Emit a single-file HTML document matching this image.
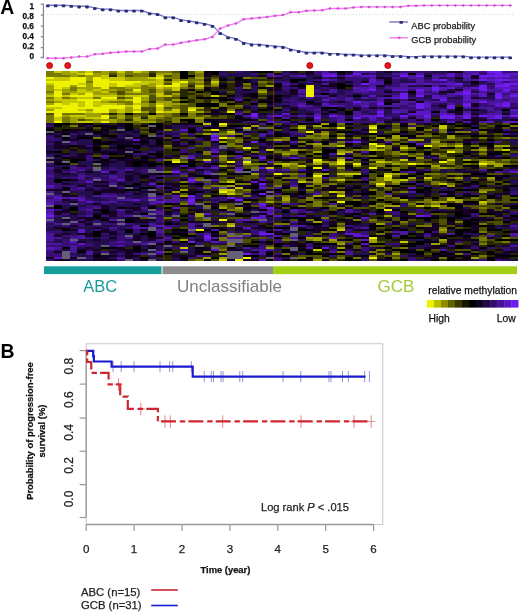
<!DOCTYPE html>
<html><head><meta charset="utf-8"><style>
html,body{margin:0;padding:0;background:#fff;width:520px;height:612px;overflow:hidden}
svg{display:block;will-change:transform;filter:blur(0.3px)}
text{font-family:"Liberation Sans",sans-serif;stroke-width:0.25px}
</style></head><body>
<svg width="520" height="612" viewBox="0 0 520 612">
<text x="0.3" y="14.3" font-size="19.4" font-weight="bold" stroke="none">A</text>
<g font-size="8.3" font-weight="bold" text-anchor="end" fill="#111" stroke="#111">
<text x="34" y="8.5">1</text><text x="34" y="19">0.8</text><text x="34" y="29.2">0.6</text><text x="34" y="39.2">0.4</text><text x="34" y="49.4">0.2</text><text x="34" y="58.8">0</text>
</g>
<path d="M40.6 4.2H43.4V57.5H40.6M40.8 15.2h2.4M40.8 26.1h2.4M40.8 36.6h2.4M40.8 47.6h2.4" fill="none" stroke="#8a8a8a" stroke-width="1.3"/>
<path d="M44 14.6H513" stroke="#d8d8d0" stroke-width="0.9" stroke-dasharray="1.2 1.8"/>
<polyline points="47.8,5.2 55.6,5.2 63.5,5.2 71.3,5.6 79.1,6.3 87.0,6.3 94.8,7.9 102.7,9.1 110.5,9.1 118.3,10.5 126.2,10.5 134.0,10.5 141.8,10.5 149.7,13.2 157.5,14.0 165.4,17.1 173.2,17.1 181.0,19.9 188.9,20.9 196.7,22.2 204.5,23.7 212.4,25.6 220.2,32.9 228.1,37.1 235.9,38.6 243.7,42.8 251.6,44.3 259.4,44.5 267.2,45.4 275.1,46.3 282.9,46.8 290.7,49.4 298.6,50.9 306.4,52.5 314.3,52.5 322.1,52.5 329.9,53.6 337.8,53.6 345.6,54.5 353.4,54.5 361.3,55.1 369.1,55.1 377.0,55.1 384.8,55.1 392.6,56.0 400.5,56.0 408.3,56.6 416.1,56.6 424.0,56.1 431.8,56.1 439.6,56.1 447.5,56.1 455.3,56.1 463.2,56.1 471.0,57.1 478.8,57.1 486.7,57.1 494.5,57.1 502.3,57.1 510.2,57.1" fill="none" stroke="#7878c4" stroke-width="1.4"/>
<g fill="#2c2c78"><rect x="46.0" y="4.5" width="3.6" height="2.8" rx="0.8"/><rect x="53.8" y="4.5" width="3.6" height="2.8" rx="0.8"/><rect x="61.7" y="4.5" width="3.6" height="2.8" rx="0.8"/><rect x="69.5" y="4.9" width="3.6" height="2.8" rx="0.8"/><rect x="77.3" y="5.6" width="3.6" height="2.8" rx="0.8"/><rect x="85.2" y="5.6" width="3.6" height="2.8" rx="0.8"/><rect x="93.0" y="7.2" width="3.6" height="2.8" rx="0.8"/><rect x="100.9" y="8.4" width="3.6" height="2.8" rx="0.8"/><rect x="108.7" y="8.4" width="3.6" height="2.8" rx="0.8"/><rect x="116.5" y="9.8" width="3.6" height="2.8" rx="0.8"/><rect x="124.4" y="9.8" width="3.6" height="2.8" rx="0.8"/><rect x="132.2" y="9.8" width="3.6" height="2.8" rx="0.8"/><rect x="140.0" y="9.8" width="3.6" height="2.8" rx="0.8"/><rect x="147.9" y="12.5" width="3.6" height="2.8" rx="0.8"/><rect x="155.7" y="13.3" width="3.6" height="2.8" rx="0.8"/><rect x="163.6" y="16.4" width="3.6" height="2.8" rx="0.8"/><rect x="171.4" y="16.4" width="3.6" height="2.8" rx="0.8"/><rect x="179.2" y="19.2" width="3.6" height="2.8" rx="0.8"/><rect x="187.1" y="20.2" width="3.6" height="2.8" rx="0.8"/><rect x="194.9" y="21.5" width="3.6" height="2.8" rx="0.8"/><rect x="202.7" y="23.0" width="3.6" height="2.8" rx="0.8"/><rect x="210.6" y="24.9" width="3.6" height="2.8" rx="0.8"/><rect x="218.4" y="32.2" width="3.6" height="2.8" rx="0.8"/><rect x="226.3" y="36.4" width="3.6" height="2.8" rx="0.8"/><rect x="234.1" y="37.9" width="3.6" height="2.8" rx="0.8"/><rect x="241.9" y="42.1" width="3.6" height="2.8" rx="0.8"/><rect x="249.8" y="43.6" width="3.6" height="2.8" rx="0.8"/><rect x="257.6" y="43.8" width="3.6" height="2.8" rx="0.8"/><rect x="265.4" y="44.7" width="3.6" height="2.8" rx="0.8"/><rect x="273.3" y="45.6" width="3.6" height="2.8" rx="0.8"/><rect x="281.1" y="46.1" width="3.6" height="2.8" rx="0.8"/><rect x="288.9" y="48.7" width="3.6" height="2.8" rx="0.8"/><rect x="296.8" y="50.2" width="3.6" height="2.8" rx="0.8"/><rect x="304.6" y="51.8" width="3.6" height="2.8" rx="0.8"/><rect x="312.5" y="51.8" width="3.6" height="2.8" rx="0.8"/><rect x="320.3" y="51.8" width="3.6" height="2.8" rx="0.8"/><rect x="328.1" y="52.9" width="3.6" height="2.8" rx="0.8"/><rect x="336.0" y="52.9" width="3.6" height="2.8" rx="0.8"/><rect x="343.8" y="53.8" width="3.6" height="2.8" rx="0.8"/><rect x="351.6" y="53.8" width="3.6" height="2.8" rx="0.8"/><rect x="359.5" y="54.4" width="3.6" height="2.8" rx="0.8"/><rect x="367.3" y="54.4" width="3.6" height="2.8" rx="0.8"/><rect x="375.2" y="54.4" width="3.6" height="2.8" rx="0.8"/><rect x="383.0" y="54.4" width="3.6" height="2.8" rx="0.8"/><rect x="390.8" y="55.3" width="3.6" height="2.8" rx="0.8"/><rect x="398.7" y="55.3" width="3.6" height="2.8" rx="0.8"/><rect x="406.5" y="55.9" width="3.6" height="2.8" rx="0.8"/><rect x="414.3" y="55.9" width="3.6" height="2.8" rx="0.8"/><rect x="422.2" y="55.4" width="3.6" height="2.8" rx="0.8"/><rect x="430.0" y="55.4" width="3.6" height="2.8" rx="0.8"/><rect x="437.8" y="55.4" width="3.6" height="2.8" rx="0.8"/><rect x="445.7" y="55.4" width="3.6" height="2.8" rx="0.8"/><rect x="453.5" y="55.4" width="3.6" height="2.8" rx="0.8"/><rect x="461.4" y="55.4" width="3.6" height="2.8" rx="0.8"/><rect x="469.2" y="56.4" width="3.6" height="2.8" rx="0.8"/><rect x="477.0" y="56.4" width="3.6" height="2.8" rx="0.8"/><rect x="484.9" y="56.4" width="3.6" height="2.8" rx="0.8"/><rect x="492.7" y="56.4" width="3.6" height="2.8" rx="0.8"/><rect x="500.5" y="56.4" width="3.6" height="2.8" rx="0.8"/><rect x="508.4" y="56.4" width="3.6" height="2.8" rx="0.8"/></g>
<polyline points="47.8,58.2 55.6,58.2 63.5,58.2 71.3,57.4 79.1,56.6 87.0,56.6 94.8,54.2 102.7,53.8 110.5,52.8 118.3,52.2 126.2,51.5 134.0,51.5 141.8,51.5 149.7,48.9 157.5,48.5 165.4,44.6 173.2,44.6 181.0,42.8 188.9,41.5 196.7,40.3 204.5,39.2 212.4,36.9 220.2,28.5 228.1,25.4 235.9,23.4 243.7,19.2 251.6,18.5 259.4,17.7 267.2,17.0 275.1,15.8 282.9,15.1 290.7,12.3 298.6,12.3 306.4,10.8 314.3,10.5 322.1,10.3 329.9,8.5 337.8,8.5 345.6,8.5 353.4,7.4 361.3,6.9 369.1,6.9 377.0,6.9 384.8,6.9 392.6,6.9 400.5,6.9 408.3,5.8 416.1,5.8 424.0,5.4 431.8,5.4 439.6,5.4 447.5,5.4 455.3,5.4 463.2,5.4 471.0,5.4 478.8,5.4 486.7,5.4 494.5,5.4 502.3,5.4 510.2,5.4" fill="none" stroke="#f07ef0" stroke-width="1.4"/>
<g fill="#d850d8"><path d="M45.8 58.2l2 -1.5l2 1.5l-2 1.5z"/><path d="M53.6 58.2l2 -1.5l2 1.5l-2 1.5z"/><path d="M61.5 58.2l2 -1.5l2 1.5l-2 1.5z"/><path d="M69.3 57.4l2 -1.5l2 1.5l-2 1.5z"/><path d="M77.1 56.6l2 -1.5l2 1.5l-2 1.5z"/><path d="M85.0 56.6l2 -1.5l2 1.5l-2 1.5z"/><path d="M92.8 54.2l2 -1.5l2 1.5l-2 1.5z"/><path d="M100.7 53.8l2 -1.5l2 1.5l-2 1.5z"/><path d="M108.5 52.8l2 -1.5l2 1.5l-2 1.5z"/><path d="M116.3 52.2l2 -1.5l2 1.5l-2 1.5z"/><path d="M124.2 51.5l2 -1.5l2 1.5l-2 1.5z"/><path d="M132.0 51.5l2 -1.5l2 1.5l-2 1.5z"/><path d="M139.8 51.5l2 -1.5l2 1.5l-2 1.5z"/><path d="M147.7 48.9l2 -1.5l2 1.5l-2 1.5z"/><path d="M155.5 48.5l2 -1.5l2 1.5l-2 1.5z"/><path d="M163.4 44.6l2 -1.5l2 1.5l-2 1.5z"/><path d="M171.2 44.6l2 -1.5l2 1.5l-2 1.5z"/><path d="M179.0 42.8l2 -1.5l2 1.5l-2 1.5z"/><path d="M186.9 41.5l2 -1.5l2 1.5l-2 1.5z"/><path d="M194.7 40.3l2 -1.5l2 1.5l-2 1.5z"/><path d="M202.5 39.2l2 -1.5l2 1.5l-2 1.5z"/><path d="M210.4 36.9l2 -1.5l2 1.5l-2 1.5z"/><path d="M218.2 28.5l2 -1.5l2 1.5l-2 1.5z"/><path d="M226.1 25.4l2 -1.5l2 1.5l-2 1.5z"/><path d="M233.9 23.4l2 -1.5l2 1.5l-2 1.5z"/><path d="M241.7 19.2l2 -1.5l2 1.5l-2 1.5z"/><path d="M249.6 18.5l2 -1.5l2 1.5l-2 1.5z"/><path d="M257.4 17.7l2 -1.5l2 1.5l-2 1.5z"/><path d="M265.2 17.0l2 -1.5l2 1.5l-2 1.5z"/><path d="M273.1 15.8l2 -1.5l2 1.5l-2 1.5z"/><path d="M280.9 15.1l2 -1.5l2 1.5l-2 1.5z"/><path d="M288.7 12.3l2 -1.5l2 1.5l-2 1.5z"/><path d="M296.6 12.3l2 -1.5l2 1.5l-2 1.5z"/><path d="M304.4 10.8l2 -1.5l2 1.5l-2 1.5z"/><path d="M312.3 10.5l2 -1.5l2 1.5l-2 1.5z"/><path d="M320.1 10.3l2 -1.5l2 1.5l-2 1.5z"/><path d="M327.9 8.5l2 -1.5l2 1.5l-2 1.5z"/><path d="M335.8 8.5l2 -1.5l2 1.5l-2 1.5z"/><path d="M343.6 8.5l2 -1.5l2 1.5l-2 1.5z"/><path d="M351.4 7.4l2 -1.5l2 1.5l-2 1.5z"/><path d="M359.3 6.9l2 -1.5l2 1.5l-2 1.5z"/><path d="M367.1 6.9l2 -1.5l2 1.5l-2 1.5z"/><path d="M375.0 6.9l2 -1.5l2 1.5l-2 1.5z"/><path d="M382.8 6.9l2 -1.5l2 1.5l-2 1.5z"/><path d="M390.6 6.9l2 -1.5l2 1.5l-2 1.5z"/><path d="M398.5 6.9l2 -1.5l2 1.5l-2 1.5z"/><path d="M406.3 5.8l2 -1.5l2 1.5l-2 1.5z"/><path d="M414.1 5.8l2 -1.5l2 1.5l-2 1.5z"/><path d="M422.0 5.4l2 -1.5l2 1.5l-2 1.5z"/><path d="M429.8 5.4l2 -1.5l2 1.5l-2 1.5z"/><path d="M437.6 5.4l2 -1.5l2 1.5l-2 1.5z"/><path d="M445.5 5.4l2 -1.5l2 1.5l-2 1.5z"/><path d="M453.3 5.4l2 -1.5l2 1.5l-2 1.5z"/><path d="M461.2 5.4l2 -1.5l2 1.5l-2 1.5z"/><path d="M469.0 5.4l2 -1.5l2 1.5l-2 1.5z"/><path d="M476.8 5.4l2 -1.5l2 1.5l-2 1.5z"/><path d="M484.7 5.4l2 -1.5l2 1.5l-2 1.5z"/><path d="M492.5 5.4l2 -1.5l2 1.5l-2 1.5z"/><path d="M500.3 5.4l2 -1.5l2 1.5l-2 1.5z"/><path d="M508.2 5.4l2 -1.5l2 1.5l-2 1.5z"/></g>
<path d="M389.2 22H408" stroke="#7878c4" stroke-width="1.4"/><rect x="399.4" y="20.9" width="3.6" height="2.8" rx="0.8" fill="#2c2c78"/>
<path d="M389.2 37.8H408" stroke="#f07ef0" stroke-width="1.4"/><path d="M397.2 37.8l2 -1.5l2 1.5l-2 1.5z" fill="#d850d8"/>
<g font-size="9.25" fill="#222" stroke="#222"><text x="411.3" y="29.4">ABC probability</text><text x="411.3" y="43.3">GCB probability</text></g>
<g fill="#e8141c" stroke="#a00" stroke-width="0.8"><circle cx="49.6" cy="65.6" r="3"/><circle cx="67.7" cy="65.6" r="3"/><circle cx="309.8" cy="65.6" r="3"/><circle cx="387.8" cy="65.6" r="3"/></g>
<filter id="bl" x="-2%" y="-2%" width="104%" height="104%"><feGaussianBlur stdDeviation="0.45"/></filter>
<g shape-rendering="crispEdges" filter="url(#bl)">
<path fill="rgb(110, 28, 235)" d="M486.53 71.0h8.12v2.2H486.53zM494.40 71.0h8.12v2.2H494.40zM352.80 73.0h8.12v2.2H352.80zM494.40 73.0h8.12v2.2H494.40zM321.33 75.0h8.12v2.2H321.33zM329.20 75.0h8.12v2.2H329.20zM400.00 75.0h8.12v2.2H400.00zM415.73 75.0h8.12v2.2H415.73zM478.67 75.0h8.12v2.2H478.67zM486.53 75.0h8.12v2.2H486.53zM494.40 75.0h8.12v2.2H494.40zM502.27 75.0h8.12v2.2H502.27zM439.33 79.0h8.12v2.2H439.33zM478.67 79.0h8.12v2.2H478.67zM494.40 79.0h8.12v2.2H494.40zM502.27 79.0h8.12v2.2H502.27zM360.67 83.0h8.12v2.2H360.67zM455.07 83.0h8.12v2.2H455.07zM502.27 83.0h8.12v2.2H502.27zM510.13 83.0h8.12v2.2H510.13zM478.67 85.0h8.12v2.2H478.67zM494.40 85.0h8.12v2.2H494.40zM502.27 85.0h8.12v2.2H502.27zM431.47 87.0h8.12v2.2H431.47zM478.67 87.0h8.12v2.2H478.67zM368.53 89.0h8.12v2.2H368.53zM415.73 89.0h8.12v2.2H415.73zM431.47 89.0h8.12v2.2H431.47zM478.67 89.0h8.12v2.2H478.67zM502.27 89.0h8.12v2.2H502.27zM462.93 91.0h8.12v2.2H462.93zM400.00 93.0h8.12v2.2H400.00zM462.93 93.0h8.12v2.2H462.93zM494.40 93.0h8.12v2.2H494.40zM400.00 95.0h8.12v2.2H400.00zM415.73 95.0h8.12v2.2H415.73zM494.40 95.0h8.12v2.2H494.40zM510.13 95.0h8.12v2.2H510.13zM400.00 97.0h8.12v2.2H400.00zM494.40 97.0h8.12v2.2H494.40zM439.33 99.0h8.12v2.2H439.33zM352.80 101.0h8.12v2.2H352.80zM478.67 101.0h8.12v2.2H478.67zM376.40 103.0h8.12v2.2H376.40zM415.73 103.0h8.12v2.2H415.73zM462.93 103.0h8.12v2.2H462.93zM502.27 103.0h8.12v2.2H502.27zM415.73 105.0h8.12v2.2H415.73zM447.20 105.0h8.12v2.2H447.20zM462.93 105.0h8.12v2.2H462.93zM502.27 105.0h8.12v2.2H502.27zM415.73 107.0h8.12v2.2H415.73zM447.20 107.0h8.12v2.2H447.20zM376.40 111.0h8.12v2.2H376.40zM250.53 113.0h8.12v2.2H250.53zM250.53 115.0h8.12v2.2H250.53zM329.20 115.0h8.12v2.2H329.20zM376.40 115.0h8.12v2.2H376.40zM400.00 115.0h8.12v2.2H400.00zM423.60 115.0h8.12v2.2H423.60zM439.33 115.0h8.12v2.2H439.33zM447.20 115.0h8.12v2.2H447.20zM462.93 115.0h8.12v2.2H462.93zM478.67 115.0h8.12v2.2H478.67zM494.40 115.0h8.12v2.2H494.40zM510.13 115.0h8.12v2.2H510.13zM313.47 117.0h8.12v2.2H313.47zM352.80 117.0h8.12v2.2H352.80zM439.33 117.0h8.12v2.2H439.33zM447.20 117.0h8.12v2.2H447.20zM462.93 117.0h8.12v2.2H462.93zM494.40 117.0h8.12v2.2H494.40zM211.20 135.0h8.12v2.2H211.20zM211.20 139.0h8.12v2.2H211.20zM250.53 141.0h8.12v2.2H250.53zM352.80 141.0h8.12v2.2H352.80zM258.40 157.0h8.12v2.2H258.40zM234.80 169.0h8.12v2.2H234.80zM171.87 171.0h8.12v2.2H171.87zM187.60 179.0h8.12v2.2H187.60zM258.40 183.0h8.12v2.2H258.40zM258.40 193.0h8.12v2.2H258.40zM187.60 195.0h8.12v2.2H187.60zM226.93 197.0h8.12v2.2H226.93zM187.60 199.0h8.12v2.2H187.60zM234.80 199.0h8.12v2.2H234.80zM187.60 201.0h8.12v2.2H187.60zM258.40 203.0h8.12v2.2H258.40zM266.27 207.0h8.12v2.2H266.27zM46.00 215.0h8.12v2.2H46.00zM415.73 215.0h8.12v2.2H415.73zM250.53 217.0h8.12v2.2H250.53zM258.40 233.0h8.12v2.2H258.40zM266.27 233.0h8.12v2.2H266.27zM203.33 235.0h8.12v2.2H203.33zM203.33 237.0h8.12v2.2H203.33zM187.60 241.0h8.12v2.2H187.60zM242.67 253.0h8.12v2.2H242.67z"/>
<path fill="rgb(91, 23, 195)" d="M321.33 73.0h8.12v2.2H321.33zM329.20 73.0h8.12v2.2H329.20zM400.00 73.0h8.12v2.2H400.00zM447.20 73.0h8.12v2.2H447.20zM470.80 73.0h8.12v2.2H470.80zM486.53 73.0h8.12v2.2H486.53zM502.27 73.0h8.12v2.2H502.27zM510.13 73.0h8.12v2.2H510.13zM297.73 75.0h8.12v2.2H297.73zM344.93 75.0h8.12v2.2H344.93zM360.67 75.0h8.12v2.2H360.67zM368.53 75.0h8.12v2.2H368.53zM447.20 75.0h8.12v2.2H447.20zM462.93 75.0h8.12v2.2H462.93zM478.67 77.0h8.12v2.2H478.67zM494.40 77.0h8.12v2.2H494.40zM321.33 79.0h8.12v2.2H321.33zM368.53 79.0h8.12v2.2H368.53zM431.47 79.0h8.12v2.2H431.47zM486.53 79.0h8.12v2.2H486.53zM510.13 79.0h8.12v2.2H510.13zM368.53 81.0h8.12v2.2H368.53zM494.40 81.0h8.12v2.2H494.40zM407.87 83.0h8.12v2.2H407.87zM423.60 83.0h8.12v2.2H423.60zM439.33 83.0h8.12v2.2H439.33zM447.20 83.0h8.12v2.2H447.20zM494.40 83.0h8.12v2.2H494.40zM352.80 87.0h8.12v2.2H352.80zM368.53 87.0h8.12v2.2H368.53zM439.33 87.0h8.12v2.2H439.33zM447.20 87.0h8.12v2.2H447.20zM470.80 87.0h8.12v2.2H470.80zM494.40 87.0h8.12v2.2H494.40zM502.27 87.0h8.12v2.2H502.27zM510.13 87.0h8.12v2.2H510.13zM360.67 89.0h8.12v2.2H360.67zM392.13 89.0h8.12v2.2H392.13zM400.00 89.0h8.12v2.2H400.00zM462.93 89.0h8.12v2.2H462.93zM415.73 91.0h8.12v2.2H415.73zM502.27 91.0h8.12v2.2H502.27zM415.73 93.0h8.12v2.2H415.73zM455.07 93.0h8.12v2.2H455.07zM478.67 93.0h8.12v2.2H478.67zM510.13 93.0h8.12v2.2H510.13zM368.53 95.0h8.12v2.2H368.53zM431.47 95.0h8.12v2.2H431.47zM462.93 95.0h8.12v2.2H462.93zM478.67 95.0h8.12v2.2H478.67zM392.13 97.0h8.12v2.2H392.13zM431.47 97.0h8.12v2.2H431.47zM439.33 97.0h8.12v2.2H439.33zM462.93 97.0h8.12v2.2H462.93zM321.33 99.0h8.12v2.2H321.33zM462.93 99.0h8.12v2.2H462.93zM376.40 101.0h8.12v2.2H376.40zM502.27 101.0h8.12v2.2H502.27zM321.33 103.0h8.12v2.2H321.33zM423.60 103.0h8.12v2.2H423.60zM494.40 103.0h8.12v2.2H494.40zM297.73 105.0h8.12v2.2H297.73zM329.20 105.0h8.12v2.2H329.20zM360.67 105.0h8.12v2.2H360.67zM423.60 105.0h8.12v2.2H423.60zM494.40 105.0h8.12v2.2H494.40zM510.13 109.0h8.12v2.2H510.13zM392.13 111.0h8.12v2.2H392.13zM415.73 111.0h8.12v2.2H415.73zM423.60 111.0h8.12v2.2H423.60zM282.00 113.0h8.12v2.2H282.00zM376.40 113.0h8.12v2.2H376.40zM407.87 113.0h8.12v2.2H407.87zM415.73 113.0h8.12v2.2H415.73zM423.60 113.0h8.12v2.2H423.60zM439.33 113.0h8.12v2.2H439.33zM462.93 113.0h8.12v2.2H462.93zM274.13 115.0h8.12v2.2H274.13zM313.47 115.0h8.12v2.2H313.47zM360.67 115.0h8.12v2.2H360.67zM368.53 115.0h8.12v2.2H368.53zM486.53 115.0h8.12v2.2H486.53zM368.53 117.0h8.12v2.2H368.53zM423.60 117.0h8.12v2.2H423.60zM486.53 117.0h8.12v2.2H486.53zM266.27 121.0h8.12v2.2H266.27zM447.20 121.0h8.12v2.2H447.20zM486.53 121.0h8.12v2.2H486.53zM502.27 121.0h8.12v2.2H502.27zM510.13 121.0h8.12v2.2H510.13zM179.73 129.0h8.12v2.2H179.73zM211.20 137.0h8.12v2.2H211.20zM132.53 139.0h8.12v2.2H132.53zM415.73 143.0h8.12v2.2H415.73zM211.20 151.0h8.12v2.2H211.20zM187.60 157.0h8.12v2.2H187.60zM289.87 157.0h8.12v2.2H289.87zM203.33 161.0h8.12v2.2H203.33zM266.27 161.0h8.12v2.2H266.27zM211.20 167.0h8.12v2.2H211.20zM258.40 167.0h8.12v2.2H258.40zM187.60 169.0h8.12v2.2H187.60zM266.27 169.0h8.12v2.2H266.27zM321.33 169.0h8.12v2.2H321.33zM101.07 171.0h8.12v2.2H101.07zM510.13 171.0h8.12v2.2H510.13zM203.33 173.0h8.12v2.2H203.33zM116.80 179.0h8.12v2.2H116.80zM85.33 181.0h8.12v2.2H85.33zM187.60 181.0h8.12v2.2H187.60zM250.53 181.0h8.12v2.2H250.53zM148.27 183.0h8.12v2.2H148.27zM46.00 185.0h8.12v2.2H46.00zM258.40 187.0h8.12v2.2H258.40zM407.87 187.0h8.12v2.2H407.87zM53.87 197.0h8.12v2.2H53.87zM69.60 197.0h8.12v2.2H69.60zM148.27 197.0h8.12v2.2H148.27zM187.60 197.0h8.12v2.2H187.60zM77.47 199.0h8.12v2.2H77.47zM132.53 199.0h8.12v2.2H132.53zM85.33 201.0h8.12v2.2H85.33zM156.13 201.0h8.12v2.2H156.13zM46.00 203.0h8.12v2.2H46.00zM187.60 203.0h8.12v2.2H187.60zM258.40 205.0h8.12v2.2H258.40zM171.87 207.0h8.12v2.2H171.87zM46.00 209.0h8.12v2.2H46.00zM46.00 213.0h8.12v2.2H46.00zM203.33 213.0h8.12v2.2H203.33zM266.27 213.0h8.12v2.2H266.27zM140.40 215.0h8.12v2.2H140.40zM258.40 215.0h8.12v2.2H258.40zM274.13 215.0h8.12v2.2H274.13zM423.60 215.0h8.12v2.2H423.60zM258.40 217.0h8.12v2.2H258.40zM360.67 217.0h8.12v2.2H360.67zM242.67 219.0h8.12v2.2H242.67zM156.13 225.0h8.12v2.2H156.13zM164.00 227.0h8.12v2.2H164.00zM242.67 227.0h8.12v2.2H242.67zM77.47 229.0h8.12v2.2H77.47zM77.47 231.0h8.12v2.2H77.47zM258.40 231.0h8.12v2.2H258.40zM344.93 233.0h8.12v2.2H344.93zM352.80 233.0h8.12v2.2H352.80zM352.80 235.0h8.12v2.2H352.80zM360.67 235.0h8.12v2.2H360.67zM329.20 237.0h8.12v2.2H329.20zM203.33 239.0h8.12v2.2H203.33zM360.67 239.0h8.12v2.2H360.67zM69.60 241.0h8.12v2.2H69.60zM211.20 241.0h8.12v2.2H211.20zM77.47 243.0h8.12v2.2H77.47zM360.67 243.0h8.12v2.2H360.67zM46.00 247.0h8.12v2.2H46.00zM321.33 247.0h8.12v2.2H321.33zM211.20 249.0h8.12v2.2H211.20zM156.13 251.0h8.12v2.2H156.13zM53.87 257.0h8.12v2.2H53.87zM258.40 259.0h8.12v2.2H258.40z"/>
<path fill="rgb(73, 18, 156)" d="M321.33 71.0h8.12v2.2H321.33zM352.80 71.0h8.12v2.2H352.80zM360.67 71.0h8.12v2.2H360.67zM368.53 71.0h8.12v2.2H368.53zM462.93 71.0h8.12v2.2H462.93zM470.80 71.0h8.12v2.2H470.80zM266.27 73.0h8.12v2.2H266.27zM392.13 73.0h8.12v2.2H392.13zM415.73 73.0h8.12v2.2H415.73zM462.93 73.0h8.12v2.2H462.93zM266.27 75.0h8.12v2.2H266.27zM274.13 75.0h8.12v2.2H274.13zM289.87 75.0h8.12v2.2H289.87zM352.80 75.0h8.12v2.2H352.80zM407.87 75.0h8.12v2.2H407.87zM431.47 75.0h8.12v2.2H431.47zM439.33 75.0h8.12v2.2H439.33zM510.13 75.0h8.12v2.2H510.13zM368.53 77.0h8.12v2.2H368.53zM392.13 77.0h8.12v2.2H392.13zM407.87 77.0h8.12v2.2H407.87zM415.73 77.0h8.12v2.2H415.73zM431.47 77.0h8.12v2.2H431.47zM462.93 77.0h8.12v2.2H462.93zM486.53 77.0h8.12v2.2H486.53zM502.27 77.0h8.12v2.2H502.27zM510.13 77.0h8.12v2.2H510.13zM329.20 79.0h8.12v2.2H329.20zM415.73 79.0h8.12v2.2H415.73zM462.93 79.0h8.12v2.2H462.93zM470.80 79.0h8.12v2.2H470.80zM376.40 81.0h8.12v2.2H376.40zM415.73 81.0h8.12v2.2H415.73zM447.20 81.0h8.12v2.2H447.20zM486.53 81.0h8.12v2.2H486.53zM510.13 81.0h8.12v2.2H510.13zM282.00 83.0h8.12v2.2H282.00zM321.33 83.0h8.12v2.2H321.33zM368.53 83.0h8.12v2.2H368.53zM376.40 83.0h8.12v2.2H376.40zM400.00 83.0h8.12v2.2H400.00zM415.73 83.0h8.12v2.2H415.73zM431.47 83.0h8.12v2.2H431.47zM368.53 85.0h8.12v2.2H368.53zM400.00 85.0h8.12v2.2H400.00zM431.47 85.0h8.12v2.2H431.47zM447.20 85.0h8.12v2.2H447.20zM455.07 85.0h8.12v2.2H455.07zM510.13 85.0h8.12v2.2H510.13zM360.67 87.0h8.12v2.2H360.67zM384.27 87.0h8.12v2.2H384.27zM392.13 87.0h8.12v2.2H392.13zM400.00 87.0h8.12v2.2H400.00zM407.87 87.0h8.12v2.2H407.87zM415.73 87.0h8.12v2.2H415.73zM423.60 87.0h8.12v2.2H423.60zM462.93 87.0h8.12v2.2H462.93zM297.73 89.0h8.12v2.2H297.73zM329.20 89.0h8.12v2.2H329.20zM352.80 89.0h8.12v2.2H352.80zM423.60 89.0h8.12v2.2H423.60zM439.33 89.0h8.12v2.2H439.33zM486.53 89.0h8.12v2.2H486.53zM494.40 89.0h8.12v2.2H494.40zM510.13 89.0h8.12v2.2H510.13zM297.73 91.0h8.12v2.2H297.73zM329.20 91.0h8.12v2.2H329.20zM352.80 91.0h8.12v2.2H352.80zM360.67 91.0h8.12v2.2H360.67zM431.47 91.0h8.12v2.2H431.47zM455.07 91.0h8.12v2.2H455.07zM478.67 91.0h8.12v2.2H478.67zM494.40 91.0h8.12v2.2H494.40zM423.60 93.0h8.12v2.2H423.60zM447.20 93.0h8.12v2.2H447.20zM470.80 93.0h8.12v2.2H470.80zM297.73 95.0h8.12v2.2H297.73zM313.47 95.0h8.12v2.2H313.47zM321.33 95.0h8.12v2.2H321.33zM392.13 95.0h8.12v2.2H392.13zM439.33 95.0h8.12v2.2H439.33zM447.20 95.0h8.12v2.2H447.20zM502.27 95.0h8.12v2.2H502.27zM305.60 97.0h8.12v2.2H305.60zM329.20 97.0h8.12v2.2H329.20zM344.93 97.0h8.12v2.2H344.93zM360.67 97.0h8.12v2.2H360.67zM376.40 97.0h8.12v2.2H376.40zM384.27 97.0h8.12v2.2H384.27zM502.27 97.0h8.12v2.2H502.27zM510.13 97.0h8.12v2.2H510.13zM234.80 99.0h8.12v2.2H234.80zM344.93 99.0h8.12v2.2H344.93zM376.40 99.0h8.12v2.2H376.40zM470.80 99.0h8.12v2.2H470.80zM478.67 99.0h8.12v2.2H478.67zM494.40 99.0h8.12v2.2H494.40zM510.13 99.0h8.12v2.2H510.13zM360.67 101.0h8.12v2.2H360.67zM368.53 101.0h8.12v2.2H368.53zM400.00 101.0h8.12v2.2H400.00zM407.87 101.0h8.12v2.2H407.87zM423.60 101.0h8.12v2.2H423.60zM431.47 101.0h8.12v2.2H431.47zM439.33 101.0h8.12v2.2H439.33zM462.93 101.0h8.12v2.2H462.93zM470.80 101.0h8.12v2.2H470.80zM486.53 101.0h8.12v2.2H486.53zM494.40 101.0h8.12v2.2H494.40zM510.13 101.0h8.12v2.2H510.13zM297.73 103.0h8.12v2.2H297.73zM352.80 103.0h8.12v2.2H352.80zM360.67 103.0h8.12v2.2H360.67zM392.13 103.0h8.12v2.2H392.13zM400.00 103.0h8.12v2.2H400.00zM447.20 103.0h8.12v2.2H447.20zM486.53 103.0h8.12v2.2H486.53zM305.60 105.0h8.12v2.2H305.60zM321.33 105.0h8.12v2.2H321.33zM337.07 105.0h8.12v2.2H337.07zM376.40 105.0h8.12v2.2H376.40zM384.27 105.0h8.12v2.2H384.27zM392.13 105.0h8.12v2.2H392.13zM407.87 105.0h8.12v2.2H407.87zM423.60 107.0h8.12v2.2H423.60zM462.93 107.0h8.12v2.2H462.93zM478.67 107.0h8.12v2.2H478.67zM486.53 107.0h8.12v2.2H486.53zM313.47 109.0h8.12v2.2H313.47zM376.40 109.0h8.12v2.2H376.40zM392.13 109.0h8.12v2.2H392.13zM400.00 109.0h8.12v2.2H400.00zM423.60 109.0h8.12v2.2H423.60zM439.33 109.0h8.12v2.2H439.33zM486.53 109.0h8.12v2.2H486.53zM352.80 111.0h8.12v2.2H352.80zM400.00 111.0h8.12v2.2H400.00zM439.33 111.0h8.12v2.2H439.33zM462.93 111.0h8.12v2.2H462.93zM494.40 111.0h8.12v2.2H494.40zM510.13 111.0h8.12v2.2H510.13zM234.80 113.0h8.12v2.2H234.80zM313.47 113.0h8.12v2.2H313.47zM352.80 113.0h8.12v2.2H352.80zM447.20 113.0h8.12v2.2H447.20zM486.53 113.0h8.12v2.2H486.53zM494.40 113.0h8.12v2.2H494.40zM510.13 113.0h8.12v2.2H510.13zM242.67 115.0h8.12v2.2H242.67zM266.27 115.0h8.12v2.2H266.27zM297.73 115.0h8.12v2.2H297.73zM337.07 115.0h8.12v2.2H337.07zM352.80 115.0h8.12v2.2H352.80zM415.73 115.0h8.12v2.2H415.73zM455.07 115.0h8.12v2.2H455.07zM502.27 115.0h8.12v2.2H502.27zM250.53 117.0h8.12v2.2H250.53zM282.00 117.0h8.12v2.2H282.00zM337.07 117.0h8.12v2.2H337.07zM384.27 117.0h8.12v2.2H384.27zM400.00 117.0h8.12v2.2H400.00zM415.73 117.0h8.12v2.2H415.73zM313.47 119.0h8.12v2.2H313.47zM337.07 119.0h8.12v2.2H337.07zM368.53 119.0h8.12v2.2H368.53zM423.60 119.0h8.12v2.2H423.60zM282.00 121.0h8.12v2.2H282.00zM337.07 121.0h8.12v2.2H337.07zM344.93 121.0h8.12v2.2H344.93zM376.40 121.0h8.12v2.2H376.40zM423.60 121.0h8.12v2.2H423.60zM462.93 121.0h8.12v2.2H462.93zM478.67 121.0h8.12v2.2H478.67zM258.40 123.0h8.12v2.2H258.40zM470.80 129.0h8.12v2.2H470.80zM258.40 133.0h8.12v2.2H258.40zM258.40 135.0h8.12v2.2H258.40zM289.87 141.0h8.12v2.2H289.87zM344.93 141.0h8.12v2.2H344.93zM384.27 141.0h8.12v2.2H384.27zM407.87 141.0h8.12v2.2H407.87zM494.40 141.0h8.12v2.2H494.40zM187.60 147.0h8.12v2.2H187.60zM211.20 149.0h8.12v2.2H211.20zM234.80 151.0h8.12v2.2H234.80zM360.67 151.0h8.12v2.2H360.67zM329.20 153.0h8.12v2.2H329.20zM101.07 155.0h8.12v2.2H101.07zM187.60 155.0h8.12v2.2H187.60zM211.20 155.0h8.12v2.2H211.20zM234.80 155.0h8.12v2.2H234.80zM258.40 155.0h8.12v2.2H258.40zM234.80 157.0h8.12v2.2H234.80zM344.93 157.0h8.12v2.2H344.93zM156.13 159.0h8.12v2.2H156.13zM179.73 165.0h8.12v2.2H179.73zM46.00 167.0h8.12v2.2H46.00zM69.60 167.0h8.12v2.2H69.60zM195.47 167.0h8.12v2.2H195.47zM234.80 167.0h8.12v2.2H234.80zM77.47 169.0h8.12v2.2H77.47zM124.67 169.0h8.12v2.2H124.67zM282.00 169.0h8.12v2.2H282.00zM297.73 169.0h8.12v2.2H297.73zM478.67 169.0h8.12v2.2H478.67zM69.60 171.0h8.12v2.2H69.60zM203.33 171.0h8.12v2.2H203.33zM407.87 171.0h8.12v2.2H407.87zM494.40 171.0h8.12v2.2H494.40zM179.73 173.0h8.12v2.2H179.73zM46.00 175.0h8.12v2.2H46.00zM77.47 175.0h8.12v2.2H77.47zM108.93 175.0h8.12v2.2H108.93zM297.73 175.0h8.12v2.2H297.73zM77.47 177.0h8.12v2.2H77.47zM93.20 177.0h8.12v2.2H93.20zM108.93 177.0h8.12v2.2H108.93zM187.60 177.0h8.12v2.2H187.60zM321.33 177.0h8.12v2.2H321.33zM211.20 179.0h8.12v2.2H211.20zM258.40 179.0h8.12v2.2H258.40zM108.93 183.0h8.12v2.2H108.93zM203.33 183.0h8.12v2.2H203.33zM156.13 185.0h8.12v2.2H156.13zM258.40 185.0h8.12v2.2H258.40zM289.87 185.0h8.12v2.2H289.87zM46.00 187.0h8.12v2.2H46.00zM77.47 187.0h8.12v2.2H77.47zM274.13 187.0h8.12v2.2H274.13zM46.00 191.0h8.12v2.2H46.00zM407.87 191.0h8.12v2.2H407.87zM313.47 193.0h8.12v2.2H313.47zM384.27 193.0h8.12v2.2H384.27zM439.33 193.0h8.12v2.2H439.33zM46.00 195.0h8.12v2.2H46.00zM53.87 195.0h8.12v2.2H53.87zM93.20 195.0h8.12v2.2H93.20zM101.07 195.0h8.12v2.2H101.07zM108.93 195.0h8.12v2.2H108.93zM171.87 195.0h8.12v2.2H171.87zM61.73 197.0h8.12v2.2H61.73zM77.47 197.0h8.12v2.2H77.47zM156.13 197.0h8.12v2.2H156.13zM171.87 197.0h8.12v2.2H171.87zM46.00 199.0h8.12v2.2H46.00zM53.87 199.0h8.12v2.2H53.87zM116.80 199.0h8.12v2.2H116.80zM124.67 199.0h8.12v2.2H124.67zM164.00 199.0h8.12v2.2H164.00zM171.87 199.0h8.12v2.2H171.87zM46.00 201.0h8.12v2.2H46.00zM101.07 201.0h8.12v2.2H101.07zM108.93 201.0h8.12v2.2H108.93zM148.27 201.0h8.12v2.2H148.27zM164.00 201.0h8.12v2.2H164.00zM171.87 201.0h8.12v2.2H171.87zM148.27 203.0h8.12v2.2H148.27zM282.00 203.0h8.12v2.2H282.00zM329.20 203.0h8.12v2.2H329.20zM93.20 207.0h8.12v2.2H93.20zM140.40 207.0h8.12v2.2H140.40zM258.40 207.0h8.12v2.2H258.40zM85.33 209.0h8.12v2.2H85.33zM116.80 209.0h8.12v2.2H116.80zM266.27 209.0h8.12v2.2H266.27zM289.87 209.0h8.12v2.2H289.87zM344.93 209.0h8.12v2.2H344.93zM46.00 211.0h8.12v2.2H46.00zM156.13 211.0h8.12v2.2H156.13zM258.40 211.0h8.12v2.2H258.40zM266.27 211.0h8.12v2.2H266.27zM289.87 211.0h8.12v2.2H289.87zM305.60 211.0h8.12v2.2H305.60zM344.93 211.0h8.12v2.2H344.93zM156.13 213.0h8.12v2.2H156.13zM368.53 213.0h8.12v2.2H368.53zM85.33 215.0h8.12v2.2H85.33zM124.67 215.0h8.12v2.2H124.67zM297.73 215.0h8.12v2.2H297.73zM46.00 217.0h8.12v2.2H46.00zM108.93 219.0h8.12v2.2H108.93zM171.87 219.0h8.12v2.2H171.87zM234.80 219.0h8.12v2.2H234.80zM321.33 219.0h8.12v2.2H321.33zM46.00 221.0h8.12v2.2H46.00zM258.40 221.0h8.12v2.2H258.40zM289.87 221.0h8.12v2.2H289.87zM53.87 223.0h8.12v2.2H53.87zM148.27 223.0h8.12v2.2H148.27zM187.60 223.0h8.12v2.2H187.60zM132.53 225.0h8.12v2.2H132.53zM148.27 225.0h8.12v2.2H148.27zM187.60 225.0h8.12v2.2H187.60zM289.87 225.0h8.12v2.2H289.87zM297.73 225.0h8.12v2.2H297.73zM510.13 225.0h8.12v2.2H510.13zM108.93 227.0h8.12v2.2H108.93zM132.53 227.0h8.12v2.2H132.53zM140.40 227.0h8.12v2.2H140.40zM187.60 227.0h8.12v2.2H187.60zM360.67 227.0h8.12v2.2H360.67zM156.13 229.0h8.12v2.2H156.13zM211.20 229.0h8.12v2.2H211.20zM274.13 229.0h8.12v2.2H274.13zM156.13 231.0h8.12v2.2H156.13zM187.60 231.0h8.12v2.2H187.60zM392.13 231.0h8.12v2.2H392.13zM400.00 231.0h8.12v2.2H400.00zM46.00 233.0h8.12v2.2H46.00zM203.33 233.0h8.12v2.2H203.33zM400.00 233.0h8.12v2.2H400.00zM447.20 233.0h8.12v2.2H447.20zM510.13 233.0h8.12v2.2H510.13zM46.00 235.0h8.12v2.2H46.00zM77.47 235.0h8.12v2.2H77.47zM242.67 235.0h8.12v2.2H242.67zM274.13 235.0h8.12v2.2H274.13zM392.13 235.0h8.12v2.2H392.13zM423.60 235.0h8.12v2.2H423.60zM486.53 235.0h8.12v2.2H486.53zM510.13 235.0h8.12v2.2H510.13zM46.00 237.0h8.12v2.2H46.00zM53.87 237.0h8.12v2.2H53.87zM69.60 237.0h8.12v2.2H69.60zM77.47 237.0h8.12v2.2H77.47zM124.67 237.0h8.12v2.2H124.67zM164.00 237.0h8.12v2.2H164.00zM211.20 237.0h8.12v2.2H211.20zM226.93 237.0h8.12v2.2H226.93zM234.80 237.0h8.12v2.2H234.80zM266.27 237.0h8.12v2.2H266.27zM289.87 237.0h8.12v2.2H289.87zM46.00 239.0h8.12v2.2H46.00zM156.13 239.0h8.12v2.2H156.13zM258.40 239.0h8.12v2.2H258.40zM116.80 241.0h8.12v2.2H116.80zM148.27 241.0h8.12v2.2H148.27zM46.00 243.0h8.12v2.2H46.00zM53.87 243.0h8.12v2.2H53.87zM140.40 243.0h8.12v2.2H140.40zM69.60 245.0h8.12v2.2H69.60zM116.80 245.0h8.12v2.2H116.80zM510.13 245.0h8.12v2.2H510.13zM53.87 247.0h8.12v2.2H53.87zM69.60 247.0h8.12v2.2H69.60zM242.67 247.0h8.12v2.2H242.67zM305.60 247.0h8.12v2.2H305.60zM46.00 249.0h8.12v2.2H46.00zM69.60 249.0h8.12v2.2H69.60zM250.53 249.0h8.12v2.2H250.53zM258.40 249.0h8.12v2.2H258.40zM266.27 249.0h8.12v2.2H266.27zM439.33 249.0h8.12v2.2H439.33zM69.60 251.0h8.12v2.2H69.60zM85.33 251.0h8.12v2.2H85.33zM258.40 251.0h8.12v2.2H258.40zM329.20 251.0h8.12v2.2H329.20zM344.93 251.0h8.12v2.2H344.93zM85.33 253.0h8.12v2.2H85.33zM140.40 253.0h8.12v2.2H140.40zM258.40 253.0h8.12v2.2H258.40zM344.93 253.0h8.12v2.2H344.93zM195.47 255.0h8.12v2.2H195.47zM116.80 257.0h8.12v2.2H116.80z"/>
<path fill="rgb(55, 14, 117)" d="M234.80 71.0h8.12v2.2H234.80zM313.47 71.0h8.12v2.2H313.47zM400.00 71.0h8.12v2.2H400.00zM407.87 71.0h8.12v2.2H407.87zM415.73 71.0h8.12v2.2H415.73zM423.60 71.0h8.12v2.2H423.60zM478.67 71.0h8.12v2.2H478.67zM502.27 71.0h8.12v2.2H502.27zM510.13 71.0h8.12v2.2H510.13zM219.07 73.0h8.12v2.2H219.07zM250.53 73.0h8.12v2.2H250.53zM282.00 73.0h8.12v2.2H282.00zM313.47 73.0h8.12v2.2H313.47zM368.53 73.0h8.12v2.2H368.53zM431.47 73.0h8.12v2.2H431.47zM439.33 73.0h8.12v2.2H439.33zM455.07 73.0h8.12v2.2H455.07zM478.67 73.0h8.12v2.2H478.67zM337.07 75.0h8.12v2.2H337.07zM384.27 75.0h8.12v2.2H384.27zM392.13 75.0h8.12v2.2H392.13zM455.07 75.0h8.12v2.2H455.07zM321.33 77.0h8.12v2.2H321.33zM344.93 77.0h8.12v2.2H344.93zM352.80 77.0h8.12v2.2H352.80zM360.67 77.0h8.12v2.2H360.67zM400.00 77.0h8.12v2.2H400.00zM447.20 77.0h8.12v2.2H447.20zM313.47 79.0h8.12v2.2H313.47zM344.93 79.0h8.12v2.2H344.93zM352.80 79.0h8.12v2.2H352.80zM376.40 79.0h8.12v2.2H376.40zM392.13 79.0h8.12v2.2H392.13zM407.87 79.0h8.12v2.2H407.87zM423.60 79.0h8.12v2.2H423.60zM447.20 79.0h8.12v2.2H447.20zM274.13 81.0h8.12v2.2H274.13zM282.00 81.0h8.12v2.2H282.00zM305.60 81.0h8.12v2.2H305.60zM352.80 81.0h8.12v2.2H352.80zM392.13 81.0h8.12v2.2H392.13zM423.60 81.0h8.12v2.2H423.60zM431.47 81.0h8.12v2.2H431.47zM439.33 81.0h8.12v2.2H439.33zM502.27 81.0h8.12v2.2H502.27zM289.87 83.0h8.12v2.2H289.87zM352.80 83.0h8.12v2.2H352.80zM392.13 83.0h8.12v2.2H392.13zM462.93 83.0h8.12v2.2H462.93zM478.67 83.0h8.12v2.2H478.67zM282.00 85.0h8.12v2.2H282.00zM352.80 85.0h8.12v2.2H352.80zM360.67 85.0h8.12v2.2H360.67zM384.27 85.0h8.12v2.2H384.27zM392.13 85.0h8.12v2.2H392.13zM486.53 85.0h8.12v2.2H486.53zM234.80 87.0h8.12v2.2H234.80zM282.00 87.0h8.12v2.2H282.00zM289.87 87.0h8.12v2.2H289.87zM321.33 87.0h8.12v2.2H321.33zM455.07 87.0h8.12v2.2H455.07zM486.53 87.0h8.12v2.2H486.53zM282.00 89.0h8.12v2.2H282.00zM313.47 89.0h8.12v2.2H313.47zM376.40 89.0h8.12v2.2H376.40zM407.87 89.0h8.12v2.2H407.87zM470.80 89.0h8.12v2.2H470.80zM313.47 91.0h8.12v2.2H313.47zM321.33 91.0h8.12v2.2H321.33zM344.93 91.0h8.12v2.2H344.93zM368.53 91.0h8.12v2.2H368.53zM376.40 91.0h8.12v2.2H376.40zM400.00 91.0h8.12v2.2H400.00zM423.60 91.0h8.12v2.2H423.60zM486.53 91.0h8.12v2.2H486.53zM510.13 91.0h8.12v2.2H510.13zM297.73 93.0h8.12v2.2H297.73zM344.93 93.0h8.12v2.2H344.93zM360.67 93.0h8.12v2.2H360.67zM368.53 93.0h8.12v2.2H368.53zM376.40 93.0h8.12v2.2H376.40zM384.27 93.0h8.12v2.2H384.27zM392.13 93.0h8.12v2.2H392.13zM431.47 93.0h8.12v2.2H431.47zM502.27 93.0h8.12v2.2H502.27zM337.07 95.0h8.12v2.2H337.07zM455.07 95.0h8.12v2.2H455.07zM470.80 95.0h8.12v2.2H470.80zM234.80 97.0h8.12v2.2H234.80zM289.87 97.0h8.12v2.2H289.87zM321.33 97.0h8.12v2.2H321.33zM337.07 97.0h8.12v2.2H337.07zM368.53 97.0h8.12v2.2H368.53zM407.87 97.0h8.12v2.2H407.87zM415.73 97.0h8.12v2.2H415.73zM282.00 99.0h8.12v2.2H282.00zM289.87 99.0h8.12v2.2H289.87zM329.20 99.0h8.12v2.2H329.20zM337.07 99.0h8.12v2.2H337.07zM400.00 99.0h8.12v2.2H400.00zM415.73 99.0h8.12v2.2H415.73zM423.60 99.0h8.12v2.2H423.60zM447.20 99.0h8.12v2.2H447.20zM455.07 99.0h8.12v2.2H455.07zM486.53 99.0h8.12v2.2H486.53zM502.27 99.0h8.12v2.2H502.27zM250.53 101.0h8.12v2.2H250.53zM289.87 101.0h8.12v2.2H289.87zM297.73 101.0h8.12v2.2H297.73zM321.33 101.0h8.12v2.2H321.33zM344.93 101.0h8.12v2.2H344.93zM447.20 101.0h8.12v2.2H447.20zM455.07 101.0h8.12v2.2H455.07zM282.00 103.0h8.12v2.2H282.00zM289.87 103.0h8.12v2.2H289.87zM329.20 103.0h8.12v2.2H329.20zM337.07 103.0h8.12v2.2H337.07zM344.93 103.0h8.12v2.2H344.93zM368.53 103.0h8.12v2.2H368.53zM407.87 103.0h8.12v2.2H407.87zM431.47 103.0h8.12v2.2H431.47zM455.07 103.0h8.12v2.2H455.07zM478.67 103.0h8.12v2.2H478.67zM510.13 103.0h8.12v2.2H510.13zM250.53 105.0h8.12v2.2H250.53zM289.87 105.0h8.12v2.2H289.87zM344.93 105.0h8.12v2.2H344.93zM352.80 105.0h8.12v2.2H352.80zM368.53 105.0h8.12v2.2H368.53zM400.00 105.0h8.12v2.2H400.00zM478.67 105.0h8.12v2.2H478.67zM486.53 105.0h8.12v2.2H486.53zM510.13 105.0h8.12v2.2H510.13zM297.73 107.0h8.12v2.2H297.73zM305.60 107.0h8.12v2.2H305.60zM313.47 107.0h8.12v2.2H313.47zM344.93 107.0h8.12v2.2H344.93zM360.67 107.0h8.12v2.2H360.67zM400.00 107.0h8.12v2.2H400.00zM407.87 107.0h8.12v2.2H407.87zM431.47 107.0h8.12v2.2H431.47zM470.80 107.0h8.12v2.2H470.80zM494.40 107.0h8.12v2.2H494.40zM502.27 107.0h8.12v2.2H502.27zM282.00 109.0h8.12v2.2H282.00zM305.60 109.0h8.12v2.2H305.60zM360.67 109.0h8.12v2.2H360.67zM368.53 109.0h8.12v2.2H368.53zM407.87 109.0h8.12v2.2H407.87zM415.73 109.0h8.12v2.2H415.73zM431.47 109.0h8.12v2.2H431.47zM494.40 109.0h8.12v2.2H494.40zM234.80 111.0h8.12v2.2H234.80zM313.47 111.0h8.12v2.2H313.47zM368.53 111.0h8.12v2.2H368.53zM486.53 111.0h8.12v2.2H486.53zM329.20 113.0h8.12v2.2H329.20zM360.67 113.0h8.12v2.2H360.67zM392.13 113.0h8.12v2.2H392.13zM431.47 113.0h8.12v2.2H431.47zM478.67 113.0h8.12v2.2H478.67zM282.00 115.0h8.12v2.2H282.00zM289.87 115.0h8.12v2.2H289.87zM305.60 115.0h8.12v2.2H305.60zM384.27 115.0h8.12v2.2H384.27zM392.13 115.0h8.12v2.2H392.13zM407.87 115.0h8.12v2.2H407.87zM470.80 115.0h8.12v2.2H470.80zM266.27 117.0h8.12v2.2H266.27zM329.20 117.0h8.12v2.2H329.20zM360.67 117.0h8.12v2.2H360.67zM376.40 117.0h8.12v2.2H376.40zM455.07 117.0h8.12v2.2H455.07zM510.13 117.0h8.12v2.2H510.13zM266.27 119.0h8.12v2.2H266.27zM329.20 119.0h8.12v2.2H329.20zM352.80 119.0h8.12v2.2H352.80zM376.40 119.0h8.12v2.2H376.40zM407.87 119.0h8.12v2.2H407.87zM447.20 119.0h8.12v2.2H447.20zM455.07 119.0h8.12v2.2H455.07zM486.53 119.0h8.12v2.2H486.53zM242.67 121.0h8.12v2.2H242.67zM250.53 121.0h8.12v2.2H250.53zM274.13 121.0h8.12v2.2H274.13zM297.73 121.0h8.12v2.2H297.73zM313.47 121.0h8.12v2.2H313.47zM352.80 121.0h8.12v2.2H352.80zM360.67 121.0h8.12v2.2H360.67zM368.53 121.0h8.12v2.2H368.53zM400.00 121.0h8.12v2.2H400.00zM407.87 121.0h8.12v2.2H407.87zM415.73 121.0h8.12v2.2H415.73zM289.87 123.0h8.12v2.2H289.87zM46.00 125.0h8.12v2.2H46.00zM187.60 125.0h8.12v2.2H187.60zM203.33 125.0h8.12v2.2H203.33zM407.87 125.0h8.12v2.2H407.87zM195.47 127.0h8.12v2.2H195.47zM234.80 127.0h8.12v2.2H234.80zM195.47 129.0h8.12v2.2H195.47zM352.80 129.0h8.12v2.2H352.80zM431.47 129.0h8.12v2.2H431.47zM502.27 129.0h8.12v2.2H502.27zM171.87 131.0h8.12v2.2H171.87zM179.73 131.0h8.12v2.2H179.73zM266.27 131.0h8.12v2.2H266.27zM289.87 131.0h8.12v2.2H289.87zM69.60 133.0h8.12v2.2H69.60zM187.60 133.0h8.12v2.2H187.60zM242.67 133.0h8.12v2.2H242.67zM266.27 133.0h8.12v2.2H266.27zM289.87 133.0h8.12v2.2H289.87zM297.73 133.0h8.12v2.2H297.73zM502.27 133.0h8.12v2.2H502.27zM46.00 135.0h8.12v2.2H46.00zM156.13 135.0h8.12v2.2H156.13zM171.87 135.0h8.12v2.2H171.87zM226.93 135.0h8.12v2.2H226.93zM46.00 137.0h8.12v2.2H46.00zM46.00 139.0h8.12v2.2H46.00zM53.87 139.0h8.12v2.2H53.87zM171.87 139.0h8.12v2.2H171.87zM195.47 139.0h8.12v2.2H195.47zM352.80 139.0h8.12v2.2H352.80zM69.60 141.0h8.12v2.2H69.60zM274.13 141.0h8.12v2.2H274.13zM313.47 141.0h8.12v2.2H313.47zM470.80 141.0h8.12v2.2H470.80zM46.00 143.0h8.12v2.2H46.00zM69.60 143.0h8.12v2.2H69.60zM179.73 143.0h8.12v2.2H179.73zM258.40 143.0h8.12v2.2H258.40zM85.33 145.0h8.12v2.2H85.33zM211.20 147.0h8.12v2.2H211.20zM179.73 149.0h8.12v2.2H179.73zM148.27 151.0h8.12v2.2H148.27zM179.73 151.0h8.12v2.2H179.73zM258.40 151.0h8.12v2.2H258.40zM132.53 153.0h8.12v2.2H132.53zM140.40 153.0h8.12v2.2H140.40zM344.93 153.0h8.12v2.2H344.93zM46.00 155.0h8.12v2.2H46.00zM61.73 155.0h8.12v2.2H61.73zM85.33 155.0h8.12v2.2H85.33zM250.53 155.0h8.12v2.2H250.53zM494.40 155.0h8.12v2.2H494.40zM510.13 155.0h8.12v2.2H510.13zM85.33 157.0h8.12v2.2H85.33zM101.07 157.0h8.12v2.2H101.07zM282.00 157.0h8.12v2.2H282.00zM297.73 157.0h8.12v2.2H297.73zM431.47 157.0h8.12v2.2H431.47zM85.33 159.0h8.12v2.2H85.33zM211.20 159.0h8.12v2.2H211.20zM258.40 159.0h8.12v2.2H258.40zM234.80 161.0h8.12v2.2H234.80zM46.00 163.0h8.12v2.2H46.00zM234.80 163.0h8.12v2.2H234.80zM69.60 165.0h8.12v2.2H69.60zM211.20 165.0h8.12v2.2H211.20zM77.47 167.0h8.12v2.2H77.47zM85.33 167.0h8.12v2.2H85.33zM108.93 167.0h8.12v2.2H108.93zM124.67 167.0h8.12v2.2H124.67zM156.13 167.0h8.12v2.2H156.13zM203.33 167.0h8.12v2.2H203.33zM46.00 169.0h8.12v2.2H46.00zM69.60 169.0h8.12v2.2H69.60zM101.07 169.0h8.12v2.2H101.07zM108.93 169.0h8.12v2.2H108.93zM116.80 169.0h8.12v2.2H116.80zM140.40 169.0h8.12v2.2H140.40zM156.13 169.0h8.12v2.2H156.13zM171.87 169.0h8.12v2.2H171.87zM274.13 169.0h8.12v2.2H274.13zM360.67 169.0h8.12v2.2H360.67zM423.60 169.0h8.12v2.2H423.60zM502.27 169.0h8.12v2.2H502.27zM510.13 169.0h8.12v2.2H510.13zM46.00 171.0h8.12v2.2H46.00zM61.73 171.0h8.12v2.2H61.73zM116.80 171.0h8.12v2.2H116.80zM140.40 171.0h8.12v2.2H140.40zM266.27 171.0h8.12v2.2H266.27zM360.67 171.0h8.12v2.2H360.67zM400.00 171.0h8.12v2.2H400.00zM502.27 171.0h8.12v2.2H502.27zM46.00 173.0h8.12v2.2H46.00zM77.47 173.0h8.12v2.2H77.47zM116.80 173.0h8.12v2.2H116.80zM258.40 173.0h8.12v2.2H258.40zM85.33 175.0h8.12v2.2H85.33zM101.07 175.0h8.12v2.2H101.07zM116.80 175.0h8.12v2.2H116.80zM156.13 175.0h8.12v2.2H156.13zM164.00 175.0h8.12v2.2H164.00zM171.87 175.0h8.12v2.2H171.87zM46.00 177.0h8.12v2.2H46.00zM61.73 177.0h8.12v2.2H61.73zM69.60 177.0h8.12v2.2H69.60zM116.80 177.0h8.12v2.2H116.80zM148.27 177.0h8.12v2.2H148.27zM258.40 177.0h8.12v2.2H258.40zM360.67 177.0h8.12v2.2H360.67zM46.00 179.0h8.12v2.2H46.00zM77.47 179.0h8.12v2.2H77.47zM85.33 179.0h8.12v2.2H85.33zM101.07 179.0h8.12v2.2H101.07zM108.93 179.0h8.12v2.2H108.93zM156.13 179.0h8.12v2.2H156.13zM171.87 179.0h8.12v2.2H171.87zM360.67 179.0h8.12v2.2H360.67zM46.00 181.0h8.12v2.2H46.00zM77.47 181.0h8.12v2.2H77.47zM108.93 181.0h8.12v2.2H108.93zM195.47 181.0h8.12v2.2H195.47zM289.87 181.0h8.12v2.2H289.87zM407.87 181.0h8.12v2.2H407.87zM46.00 183.0h8.12v2.2H46.00zM53.87 183.0h8.12v2.2H53.87zM289.87 183.0h8.12v2.2H289.87zM415.73 183.0h8.12v2.2H415.73zM53.87 185.0h8.12v2.2H53.87zM61.73 185.0h8.12v2.2H61.73zM69.60 185.0h8.12v2.2H69.60zM85.33 185.0h8.12v2.2H85.33zM423.60 185.0h8.12v2.2H423.60zM470.80 185.0h8.12v2.2H470.80zM53.87 187.0h8.12v2.2H53.87zM69.60 187.0h8.12v2.2H69.60zM93.20 187.0h8.12v2.2H93.20zM116.80 187.0h8.12v2.2H116.80zM156.13 187.0h8.12v2.2H156.13zM195.47 187.0h8.12v2.2H195.47zM211.20 187.0h8.12v2.2H211.20zM439.33 187.0h8.12v2.2H439.33zM462.93 187.0h8.12v2.2H462.93zM69.60 189.0h8.12v2.2H69.60zM77.47 189.0h8.12v2.2H77.47zM313.47 191.0h8.12v2.2H313.47zM462.93 191.0h8.12v2.2H462.93zM510.13 191.0h8.12v2.2H510.13zM101.07 193.0h8.12v2.2H101.07zM108.93 193.0h8.12v2.2H108.93zM124.67 193.0h8.12v2.2H124.67zM195.47 193.0h8.12v2.2H195.47zM242.67 193.0h8.12v2.2H242.67zM274.13 193.0h8.12v2.2H274.13zM455.07 193.0h8.12v2.2H455.07zM470.80 193.0h8.12v2.2H470.80zM510.13 193.0h8.12v2.2H510.13zM77.47 195.0h8.12v2.2H77.47zM116.80 195.0h8.12v2.2H116.80zM156.13 195.0h8.12v2.2H156.13zM164.00 195.0h8.12v2.2H164.00zM46.00 197.0h8.12v2.2H46.00zM101.07 197.0h8.12v2.2H101.07zM108.93 197.0h8.12v2.2H108.93zM124.67 197.0h8.12v2.2H124.67zM140.40 197.0h8.12v2.2H140.40zM195.47 197.0h8.12v2.2H195.47zM211.20 197.0h8.12v2.2H211.20zM219.07 197.0h8.12v2.2H219.07zM234.80 197.0h8.12v2.2H234.80zM250.53 197.0h8.12v2.2H250.53zM85.33 199.0h8.12v2.2H85.33zM108.93 199.0h8.12v2.2H108.93zM140.40 199.0h8.12v2.2H140.40zM156.13 199.0h8.12v2.2H156.13zM179.73 199.0h8.12v2.2H179.73zM219.07 199.0h8.12v2.2H219.07zM53.87 201.0h8.12v2.2H53.87zM77.47 201.0h8.12v2.2H77.47zM93.20 201.0h8.12v2.2H93.20zM132.53 201.0h8.12v2.2H132.53zM211.20 201.0h8.12v2.2H211.20zM53.87 203.0h8.12v2.2H53.87zM61.73 203.0h8.12v2.2H61.73zM77.47 203.0h8.12v2.2H77.47zM101.07 203.0h8.12v2.2H101.07zM116.80 203.0h8.12v2.2H116.80zM156.13 203.0h8.12v2.2H156.13zM250.53 203.0h8.12v2.2H250.53zM289.87 203.0h8.12v2.2H289.87zM85.33 205.0h8.12v2.2H85.33zM93.20 205.0h8.12v2.2H93.20zM400.00 205.0h8.12v2.2H400.00zM77.47 207.0h8.12v2.2H77.47zM85.33 207.0h8.12v2.2H85.33zM53.87 209.0h8.12v2.2H53.87zM77.47 209.0h8.12v2.2H77.47zM140.40 209.0h8.12v2.2H140.40zM156.13 209.0h8.12v2.2H156.13zM274.13 209.0h8.12v2.2H274.13zM297.73 209.0h8.12v2.2H297.73zM321.33 209.0h8.12v2.2H321.33zM415.73 209.0h8.12v2.2H415.73zM85.33 211.0h8.12v2.2H85.33zM116.80 211.0h8.12v2.2H116.80zM132.53 211.0h8.12v2.2H132.53zM148.27 211.0h8.12v2.2H148.27zM219.07 211.0h8.12v2.2H219.07zM297.73 211.0h8.12v2.2H297.73zM352.80 211.0h8.12v2.2H352.80zM384.27 211.0h8.12v2.2H384.27zM392.13 211.0h8.12v2.2H392.13zM415.73 211.0h8.12v2.2H415.73zM510.13 211.0h8.12v2.2H510.13zM61.73 213.0h8.12v2.2H61.73zM85.33 213.0h8.12v2.2H85.33zM116.80 213.0h8.12v2.2H116.80zM171.87 213.0h8.12v2.2H171.87zM392.13 213.0h8.12v2.2H392.13zM423.60 213.0h8.12v2.2H423.60zM470.80 213.0h8.12v2.2H470.80zM53.87 215.0h8.12v2.2H53.87zM77.47 215.0h8.12v2.2H77.47zM101.07 215.0h8.12v2.2H101.07zM116.80 215.0h8.12v2.2H116.80zM148.27 215.0h8.12v2.2H148.27zM187.60 215.0h8.12v2.2H187.60zM289.87 215.0h8.12v2.2H289.87zM321.33 215.0h8.12v2.2H321.33zM470.80 215.0h8.12v2.2H470.80zM502.27 215.0h8.12v2.2H502.27zM156.13 217.0h8.12v2.2H156.13zM77.47 219.0h8.12v2.2H77.47zM156.13 219.0h8.12v2.2H156.13zM360.67 219.0h8.12v2.2H360.67zM93.20 221.0h8.12v2.2H93.20zM116.80 221.0h8.12v2.2H116.80zM156.13 221.0h8.12v2.2H156.13zM234.80 221.0h8.12v2.2H234.80zM266.27 221.0h8.12v2.2H266.27zM69.60 223.0h8.12v2.2H69.60zM77.47 223.0h8.12v2.2H77.47zM101.07 223.0h8.12v2.2H101.07zM108.93 223.0h8.12v2.2H108.93zM124.67 223.0h8.12v2.2H124.67zM195.47 223.0h8.12v2.2H195.47zM384.27 223.0h8.12v2.2H384.27zM46.00 225.0h8.12v2.2H46.00zM61.73 225.0h8.12v2.2H61.73zM77.47 225.0h8.12v2.2H77.47zM93.20 225.0h8.12v2.2H93.20zM116.80 225.0h8.12v2.2H116.80zM164.00 225.0h8.12v2.2H164.00zM171.87 225.0h8.12v2.2H171.87zM234.80 225.0h8.12v2.2H234.80zM250.53 225.0h8.12v2.2H250.53zM274.13 225.0h8.12v2.2H274.13zM321.33 225.0h8.12v2.2H321.33zM344.93 225.0h8.12v2.2H344.93zM124.67 227.0h8.12v2.2H124.67zM195.47 227.0h8.12v2.2H195.47zM305.60 227.0h8.12v2.2H305.60zM352.80 227.0h8.12v2.2H352.80zM510.13 227.0h8.12v2.2H510.13zM93.20 229.0h8.12v2.2H93.20zM108.93 229.0h8.12v2.2H108.93zM132.53 229.0h8.12v2.2H132.53zM250.53 229.0h8.12v2.2H250.53zM344.93 229.0h8.12v2.2H344.93zM46.00 231.0h8.12v2.2H46.00zM53.87 231.0h8.12v2.2H53.87zM116.80 231.0h8.12v2.2H116.80zM132.53 231.0h8.12v2.2H132.53zM226.93 231.0h8.12v2.2H226.93zM250.53 231.0h8.12v2.2H250.53zM282.00 231.0h8.12v2.2H282.00zM344.93 231.0h8.12v2.2H344.93zM360.67 231.0h8.12v2.2H360.67zM431.47 231.0h8.12v2.2H431.47zM101.07 233.0h8.12v2.2H101.07zM156.13 233.0h8.12v2.2H156.13zM195.47 233.0h8.12v2.2H195.47zM250.53 233.0h8.12v2.2H250.53zM329.20 233.0h8.12v2.2H329.20zM360.67 233.0h8.12v2.2H360.67zM423.60 233.0h8.12v2.2H423.60zM61.73 235.0h8.12v2.2H61.73zM69.60 235.0h8.12v2.2H69.60zM116.80 235.0h8.12v2.2H116.80zM156.13 235.0h8.12v2.2H156.13zM258.40 235.0h8.12v2.2H258.40zM305.60 235.0h8.12v2.2H305.60zM329.20 235.0h8.12v2.2H329.20zM85.33 237.0h8.12v2.2H85.33zM101.07 237.0h8.12v2.2H101.07zM116.80 237.0h8.12v2.2H116.80zM187.60 237.0h8.12v2.2H187.60zM61.73 239.0h8.12v2.2H61.73zM116.80 239.0h8.12v2.2H116.80zM164.00 239.0h8.12v2.2H164.00zM274.13 239.0h8.12v2.2H274.13zM46.00 241.0h8.12v2.2H46.00zM61.73 241.0h8.12v2.2H61.73zM108.93 241.0h8.12v2.2H108.93zM124.67 241.0h8.12v2.2H124.67zM140.40 241.0h8.12v2.2H140.40zM156.13 241.0h8.12v2.2H156.13zM171.87 241.0h8.12v2.2H171.87zM219.07 241.0h8.12v2.2H219.07zM274.13 241.0h8.12v2.2H274.13zM455.07 241.0h8.12v2.2H455.07zM61.73 243.0h8.12v2.2H61.73zM69.60 243.0h8.12v2.2H69.60zM85.33 243.0h8.12v2.2H85.33zM108.93 243.0h8.12v2.2H108.93zM116.80 243.0h8.12v2.2H116.80zM124.67 243.0h8.12v2.2H124.67zM132.53 243.0h8.12v2.2H132.53zM195.47 243.0h8.12v2.2H195.47zM305.60 243.0h8.12v2.2H305.60zM344.93 243.0h8.12v2.2H344.93zM384.27 243.0h8.12v2.2H384.27zM392.13 243.0h8.12v2.2H392.13zM46.00 245.0h8.12v2.2H46.00zM53.87 245.0h8.12v2.2H53.87zM61.73 245.0h8.12v2.2H61.73zM77.47 245.0h8.12v2.2H77.47zM85.33 245.0h8.12v2.2H85.33zM108.93 245.0h8.12v2.2H108.93zM258.40 245.0h8.12v2.2H258.40zM282.00 245.0h8.12v2.2H282.00zM305.60 245.0h8.12v2.2H305.60zM447.20 245.0h8.12v2.2H447.20zM171.87 247.0h8.12v2.2H171.87zM258.40 247.0h8.12v2.2H258.40zM360.67 247.0h8.12v2.2H360.67zM470.80 247.0h8.12v2.2H470.80zM486.53 247.0h8.12v2.2H486.53zM502.27 247.0h8.12v2.2H502.27zM53.87 249.0h8.12v2.2H53.87zM179.73 249.0h8.12v2.2H179.73zM329.20 249.0h8.12v2.2H329.20zM360.67 249.0h8.12v2.2H360.67zM502.27 249.0h8.12v2.2H502.27zM46.00 251.0h8.12v2.2H46.00zM101.07 251.0h8.12v2.2H101.07zM46.00 253.0h8.12v2.2H46.00zM53.87 253.0h8.12v2.2H53.87zM116.80 253.0h8.12v2.2H116.80zM132.53 253.0h8.12v2.2H132.53zM156.13 253.0h8.12v2.2H156.13zM250.53 253.0h8.12v2.2H250.53zM274.13 253.0h8.12v2.2H274.13zM462.93 253.0h8.12v2.2H462.93zM46.00 255.0h8.12v2.2H46.00zM53.87 255.0h8.12v2.2H53.87zM69.60 255.0h8.12v2.2H69.60zM148.27 255.0h8.12v2.2H148.27zM203.33 255.0h8.12v2.2H203.33zM329.20 255.0h8.12v2.2H329.20zM400.00 255.0h8.12v2.2H400.00zM85.33 257.0h8.12v2.2H85.33zM187.60 257.0h8.12v2.2H187.60zM274.13 257.0h8.12v2.2H274.13zM407.87 257.0h8.12v2.2H407.87zM46.00 259.0h8.12v2.2H46.00zM116.80 259.0h8.12v2.2H116.80zM274.13 259.0h8.12v2.2H274.13zM407.87 259.0h8.12v2.2H407.87zM478.67 259.0h8.12v2.2H478.67zM494.40 259.0h8.12v2.2H494.40z"/>
<path fill="rgb(36, 9, 78)" d="M219.07 71.0h8.12v2.2H219.07zM242.67 71.0h8.12v2.2H242.67zM282.00 71.0h8.12v2.2H282.00zM329.20 71.0h8.12v2.2H329.20zM376.40 71.0h8.12v2.2H376.40zM392.13 71.0h8.12v2.2H392.13zM431.47 71.0h8.12v2.2H431.47zM439.33 71.0h8.12v2.2H439.33zM226.93 73.0h8.12v2.2H226.93zM234.80 73.0h8.12v2.2H234.80zM242.67 73.0h8.12v2.2H242.67zM289.87 73.0h8.12v2.2H289.87zM297.73 73.0h8.12v2.2H297.73zM344.93 73.0h8.12v2.2H344.93zM360.67 73.0h8.12v2.2H360.67zM376.40 73.0h8.12v2.2H376.40zM384.27 73.0h8.12v2.2H384.27zM423.60 73.0h8.12v2.2H423.60zM219.07 75.0h8.12v2.2H219.07zM226.93 75.0h8.12v2.2H226.93zM234.80 75.0h8.12v2.2H234.80zM242.67 75.0h8.12v2.2H242.67zM250.53 75.0h8.12v2.2H250.53zM282.00 75.0h8.12v2.2H282.00zM305.60 75.0h8.12v2.2H305.60zM313.47 75.0h8.12v2.2H313.47zM376.40 75.0h8.12v2.2H376.40zM282.00 77.0h8.12v2.2H282.00zM289.87 77.0h8.12v2.2H289.87zM297.73 77.0h8.12v2.2H297.73zM305.60 77.0h8.12v2.2H305.60zM329.20 77.0h8.12v2.2H329.20zM423.60 77.0h8.12v2.2H423.60zM439.33 77.0h8.12v2.2H439.33zM226.93 79.0h8.12v2.2H226.93zM250.53 79.0h8.12v2.2H250.53zM274.13 79.0h8.12v2.2H274.13zM282.00 79.0h8.12v2.2H282.00zM305.60 79.0h8.12v2.2H305.60zM337.07 79.0h8.12v2.2H337.07zM360.67 79.0h8.12v2.2H360.67zM400.00 79.0h8.12v2.2H400.00zM455.07 79.0h8.12v2.2H455.07zM250.53 81.0h8.12v2.2H250.53zM297.73 81.0h8.12v2.2H297.73zM321.33 81.0h8.12v2.2H321.33zM329.20 81.0h8.12v2.2H329.20zM337.07 81.0h8.12v2.2H337.07zM400.00 81.0h8.12v2.2H400.00zM407.87 81.0h8.12v2.2H407.87zM455.07 81.0h8.12v2.2H455.07zM462.93 81.0h8.12v2.2H462.93zM478.67 81.0h8.12v2.2H478.67zM305.60 83.0h8.12v2.2H305.60zM313.47 83.0h8.12v2.2H313.47zM344.93 83.0h8.12v2.2H344.93zM486.53 83.0h8.12v2.2H486.53zM250.53 85.0h8.12v2.2H250.53zM313.47 85.0h8.12v2.2H313.47zM407.87 85.0h8.12v2.2H407.87zM415.73 85.0h8.12v2.2H415.73zM439.33 85.0h8.12v2.2H439.33zM462.93 85.0h8.12v2.2H462.93zM470.80 85.0h8.12v2.2H470.80zM250.53 87.0h8.12v2.2H250.53zM313.47 87.0h8.12v2.2H313.47zM329.20 87.0h8.12v2.2H329.20zM376.40 87.0h8.12v2.2H376.40zM234.80 89.0h8.12v2.2H234.80zM250.53 89.0h8.12v2.2H250.53zM321.33 89.0h8.12v2.2H321.33zM337.07 89.0h8.12v2.2H337.07zM344.93 89.0h8.12v2.2H344.93zM384.27 89.0h8.12v2.2H384.27zM447.20 89.0h8.12v2.2H447.20zM219.07 91.0h8.12v2.2H219.07zM234.80 91.0h8.12v2.2H234.80zM242.67 91.0h8.12v2.2H242.67zM250.53 91.0h8.12v2.2H250.53zM274.13 91.0h8.12v2.2H274.13zM282.00 91.0h8.12v2.2H282.00zM337.07 91.0h8.12v2.2H337.07zM392.13 91.0h8.12v2.2H392.13zM470.80 91.0h8.12v2.2H470.80zM234.80 93.0h8.12v2.2H234.80zM274.13 93.0h8.12v2.2H274.13zM282.00 93.0h8.12v2.2H282.00zM313.47 93.0h8.12v2.2H313.47zM329.20 93.0h8.12v2.2H329.20zM337.07 93.0h8.12v2.2H337.07zM352.80 93.0h8.12v2.2H352.80zM439.33 93.0h8.12v2.2H439.33zM234.80 95.0h8.12v2.2H234.80zM289.87 95.0h8.12v2.2H289.87zM344.93 95.0h8.12v2.2H344.93zM360.67 95.0h8.12v2.2H360.67zM376.40 95.0h8.12v2.2H376.40zM407.87 95.0h8.12v2.2H407.87zM423.60 95.0h8.12v2.2H423.60zM486.53 95.0h8.12v2.2H486.53zM226.93 97.0h8.12v2.2H226.93zM282.00 97.0h8.12v2.2H282.00zM297.73 97.0h8.12v2.2H297.73zM313.47 97.0h8.12v2.2H313.47zM352.80 97.0h8.12v2.2H352.80zM423.60 97.0h8.12v2.2H423.60zM447.20 97.0h8.12v2.2H447.20zM455.07 97.0h8.12v2.2H455.07zM478.67 97.0h8.12v2.2H478.67zM486.53 97.0h8.12v2.2H486.53zM297.73 99.0h8.12v2.2H297.73zM305.60 99.0h8.12v2.2H305.60zM313.47 99.0h8.12v2.2H313.47zM352.80 99.0h8.12v2.2H352.80zM360.67 99.0h8.12v2.2H360.67zM368.53 99.0h8.12v2.2H368.53zM392.13 99.0h8.12v2.2H392.13zM431.47 99.0h8.12v2.2H431.47zM282.00 101.0h8.12v2.2H282.00zM313.47 101.0h8.12v2.2H313.47zM329.20 101.0h8.12v2.2H329.20zM274.13 103.0h8.12v2.2H274.13zM439.33 103.0h8.12v2.2H439.33zM242.67 105.0h8.12v2.2H242.67zM266.27 105.0h8.12v2.2H266.27zM274.13 105.0h8.12v2.2H274.13zM313.47 105.0h8.12v2.2H313.47zM431.47 105.0h8.12v2.2H431.47zM250.53 107.0h8.12v2.2H250.53zM282.00 107.0h8.12v2.2H282.00zM376.40 107.0h8.12v2.2H376.40zM392.13 107.0h8.12v2.2H392.13zM439.33 107.0h8.12v2.2H439.33zM510.13 107.0h8.12v2.2H510.13zM250.53 109.0h8.12v2.2H250.53zM297.73 109.0h8.12v2.2H297.73zM329.20 109.0h8.12v2.2H329.20zM384.27 109.0h8.12v2.2H384.27zM447.20 109.0h8.12v2.2H447.20zM462.93 109.0h8.12v2.2H462.93zM478.67 109.0h8.12v2.2H478.67zM274.13 111.0h8.12v2.2H274.13zM282.00 111.0h8.12v2.2H282.00zM297.73 111.0h8.12v2.2H297.73zM305.60 111.0h8.12v2.2H305.60zM321.33 111.0h8.12v2.2H321.33zM337.07 111.0h8.12v2.2H337.07zM360.67 111.0h8.12v2.2H360.67zM384.27 111.0h8.12v2.2H384.27zM470.80 111.0h8.12v2.2H470.80zM478.67 111.0h8.12v2.2H478.67zM502.27 111.0h8.12v2.2H502.27zM266.27 113.0h8.12v2.2H266.27zM274.13 113.0h8.12v2.2H274.13zM297.73 113.0h8.12v2.2H297.73zM337.07 113.0h8.12v2.2H337.07zM368.53 113.0h8.12v2.2H368.53zM384.27 113.0h8.12v2.2H384.27zM400.00 113.0h8.12v2.2H400.00zM258.40 115.0h8.12v2.2H258.40zM321.33 115.0h8.12v2.2H321.33zM344.93 115.0h8.12v2.2H344.93zM431.47 115.0h8.12v2.2H431.47zM242.67 117.0h8.12v2.2H242.67zM258.40 117.0h8.12v2.2H258.40zM297.73 117.0h8.12v2.2H297.73zM321.33 117.0h8.12v2.2H321.33zM344.93 117.0h8.12v2.2H344.93zM392.13 117.0h8.12v2.2H392.13zM478.67 117.0h8.12v2.2H478.67zM502.27 117.0h8.12v2.2H502.27zM360.67 119.0h8.12v2.2H360.67zM384.27 119.0h8.12v2.2H384.27zM400.00 119.0h8.12v2.2H400.00zM439.33 119.0h8.12v2.2H439.33zM494.40 119.0h8.12v2.2H494.40zM502.27 119.0h8.12v2.2H502.27zM203.33 121.0h8.12v2.2H203.33zM305.60 121.0h8.12v2.2H305.60zM329.20 121.0h8.12v2.2H329.20zM392.13 121.0h8.12v2.2H392.13zM431.47 121.0h8.12v2.2H431.47zM439.33 121.0h8.12v2.2H439.33zM494.40 121.0h8.12v2.2H494.40zM46.00 123.0h8.12v2.2H46.00zM101.07 123.0h8.12v2.2H101.07zM282.00 123.0h8.12v2.2H282.00zM415.73 123.0h8.12v2.2H415.73zM85.33 125.0h8.12v2.2H85.33zM171.87 125.0h8.12v2.2H171.87zM179.73 125.0h8.12v2.2H179.73zM274.13 125.0h8.12v2.2H274.13zM352.80 125.0h8.12v2.2H352.80zM470.80 125.0h8.12v2.2H470.80zM116.80 127.0h8.12v2.2H116.80zM171.87 127.0h8.12v2.2H171.87zM179.73 127.0h8.12v2.2H179.73zM282.00 127.0h8.12v2.2H282.00zM360.67 127.0h8.12v2.2H360.67zM384.27 127.0h8.12v2.2H384.27zM132.53 129.0h8.12v2.2H132.53zM266.27 129.0h8.12v2.2H266.27zM282.00 129.0h8.12v2.2H282.00zM462.93 129.0h8.12v2.2H462.93zM77.47 131.0h8.12v2.2H77.47zM85.33 131.0h8.12v2.2H85.33zM108.93 131.0h8.12v2.2H108.93zM124.67 131.0h8.12v2.2H124.67zM156.13 131.0h8.12v2.2H156.13zM164.00 131.0h8.12v2.2H164.00zM195.47 131.0h8.12v2.2H195.47zM234.80 131.0h8.12v2.2H234.80zM250.53 131.0h8.12v2.2H250.53zM282.00 131.0h8.12v2.2H282.00zM360.67 131.0h8.12v2.2H360.67zM376.40 131.0h8.12v2.2H376.40zM447.20 131.0h8.12v2.2H447.20zM53.87 133.0h8.12v2.2H53.87zM77.47 133.0h8.12v2.2H77.47zM116.80 133.0h8.12v2.2H116.80zM124.67 133.0h8.12v2.2H124.67zM132.53 133.0h8.12v2.2H132.53zM164.00 133.0h8.12v2.2H164.00zM171.87 133.0h8.12v2.2H171.87zM344.93 133.0h8.12v2.2H344.93zM376.40 133.0h8.12v2.2H376.40zM400.00 133.0h8.12v2.2H400.00zM510.13 133.0h8.12v2.2H510.13zM69.60 135.0h8.12v2.2H69.60zM93.20 135.0h8.12v2.2H93.20zM116.80 135.0h8.12v2.2H116.80zM132.53 135.0h8.12v2.2H132.53zM187.60 135.0h8.12v2.2H187.60zM289.87 135.0h8.12v2.2H289.87zM297.73 135.0h8.12v2.2H297.73zM53.87 137.0h8.12v2.2H53.87zM69.60 137.0h8.12v2.2H69.60zM116.80 137.0h8.12v2.2H116.80zM195.47 137.0h8.12v2.2H195.47zM258.40 137.0h8.12v2.2H258.40zM77.47 139.0h8.12v2.2H77.47zM85.33 139.0h8.12v2.2H85.33zM108.93 139.0h8.12v2.2H108.93zM124.67 139.0h8.12v2.2H124.67zM148.27 139.0h8.12v2.2H148.27zM187.60 139.0h8.12v2.2H187.60zM337.07 139.0h8.12v2.2H337.07zM423.60 139.0h8.12v2.2H423.60zM502.27 139.0h8.12v2.2H502.27zM510.13 139.0h8.12v2.2H510.13zM46.00 141.0h8.12v2.2H46.00zM77.47 141.0h8.12v2.2H77.47zM85.33 141.0h8.12v2.2H85.33zM148.27 141.0h8.12v2.2H148.27zM329.20 141.0h8.12v2.2H329.20zM360.67 141.0h8.12v2.2H360.67zM423.60 141.0h8.12v2.2H423.60zM486.53 141.0h8.12v2.2H486.53zM510.13 141.0h8.12v2.2H510.13zM61.73 143.0h8.12v2.2H61.73zM77.47 143.0h8.12v2.2H77.47zM85.33 143.0h8.12v2.2H85.33zM132.53 143.0h8.12v2.2H132.53zM148.27 143.0h8.12v2.2H148.27zM195.47 143.0h8.12v2.2H195.47zM211.20 143.0h8.12v2.2H211.20zM242.67 143.0h8.12v2.2H242.67zM289.87 143.0h8.12v2.2H289.87zM510.13 143.0h8.12v2.2H510.13zM46.00 145.0h8.12v2.2H46.00zM108.93 145.0h8.12v2.2H108.93zM140.40 145.0h8.12v2.2H140.40zM211.20 145.0h8.12v2.2H211.20zM242.67 145.0h8.12v2.2H242.67zM258.40 145.0h8.12v2.2H258.40zM266.27 145.0h8.12v2.2H266.27zM352.80 145.0h8.12v2.2H352.80zM415.73 145.0h8.12v2.2H415.73zM46.00 147.0h8.12v2.2H46.00zM124.67 147.0h8.12v2.2H124.67zM148.27 147.0h8.12v2.2H148.27zM156.13 147.0h8.12v2.2H156.13zM203.33 147.0h8.12v2.2H203.33zM266.27 147.0h8.12v2.2H266.27zM329.20 147.0h8.12v2.2H329.20zM46.00 149.0h8.12v2.2H46.00zM53.87 149.0h8.12v2.2H53.87zM85.33 149.0h8.12v2.2H85.33zM101.07 149.0h8.12v2.2H101.07zM108.93 149.0h8.12v2.2H108.93zM132.53 149.0h8.12v2.2H132.53zM148.27 149.0h8.12v2.2H148.27zM156.13 149.0h8.12v2.2H156.13zM203.33 149.0h8.12v2.2H203.33zM219.07 149.0h8.12v2.2H219.07zM226.93 149.0h8.12v2.2H226.93zM258.40 149.0h8.12v2.2H258.40zM69.60 151.0h8.12v2.2H69.60zM85.33 151.0h8.12v2.2H85.33zM140.40 151.0h8.12v2.2H140.40zM46.00 153.0h8.12v2.2H46.00zM53.87 153.0h8.12v2.2H53.87zM69.60 153.0h8.12v2.2H69.60zM187.60 153.0h8.12v2.2H187.60zM195.47 153.0h8.12v2.2H195.47zM360.67 153.0h8.12v2.2H360.67zM510.13 153.0h8.12v2.2H510.13zM69.60 155.0h8.12v2.2H69.60zM132.53 155.0h8.12v2.2H132.53zM148.27 155.0h8.12v2.2H148.27zM164.00 155.0h8.12v2.2H164.00zM195.47 155.0h8.12v2.2H195.47zM289.87 155.0h8.12v2.2H289.87zM329.20 155.0h8.12v2.2H329.20zM423.60 155.0h8.12v2.2H423.60zM53.87 157.0h8.12v2.2H53.87zM226.93 157.0h8.12v2.2H226.93zM360.67 157.0h8.12v2.2H360.67zM400.00 157.0h8.12v2.2H400.00zM423.60 157.0h8.12v2.2H423.60zM462.93 157.0h8.12v2.2H462.93zM93.20 159.0h8.12v2.2H93.20zM108.93 159.0h8.12v2.2H108.93zM407.87 159.0h8.12v2.2H407.87zM77.47 161.0h8.12v2.2H77.47zM85.33 161.0h8.12v2.2H85.33zM116.80 161.0h8.12v2.2H116.80zM211.20 161.0h8.12v2.2H211.20zM360.67 161.0h8.12v2.2H360.67zM77.47 163.0h8.12v2.2H77.47zM85.33 163.0h8.12v2.2H85.33zM108.93 163.0h8.12v2.2H108.93zM116.80 163.0h8.12v2.2H116.80zM46.00 165.0h8.12v2.2H46.00zM53.87 165.0h8.12v2.2H53.87zM61.73 165.0h8.12v2.2H61.73zM85.33 165.0h8.12v2.2H85.33zM108.93 165.0h8.12v2.2H108.93zM116.80 165.0h8.12v2.2H116.80zM156.13 165.0h8.12v2.2H156.13zM195.47 165.0h8.12v2.2H195.47zM234.80 165.0h8.12v2.2H234.80zM53.87 167.0h8.12v2.2H53.87zM101.07 167.0h8.12v2.2H101.07zM116.80 167.0h8.12v2.2H116.80zM132.53 167.0h8.12v2.2H132.53zM140.40 167.0h8.12v2.2H140.40zM148.27 167.0h8.12v2.2H148.27zM171.87 167.0h8.12v2.2H171.87zM187.60 167.0h8.12v2.2H187.60zM61.73 169.0h8.12v2.2H61.73zM85.33 169.0h8.12v2.2H85.33zM132.53 169.0h8.12v2.2H132.53zM203.33 169.0h8.12v2.2H203.33zM211.20 169.0h8.12v2.2H211.20zM258.40 169.0h8.12v2.2H258.40zM329.20 169.0h8.12v2.2H329.20zM344.93 169.0h8.12v2.2H344.93zM415.73 169.0h8.12v2.2H415.73zM439.33 169.0h8.12v2.2H439.33zM447.20 169.0h8.12v2.2H447.20zM462.93 169.0h8.12v2.2H462.93zM77.47 171.0h8.12v2.2H77.47zM93.20 171.0h8.12v2.2H93.20zM132.53 171.0h8.12v2.2H132.53zM179.73 171.0h8.12v2.2H179.73zM195.47 171.0h8.12v2.2H195.47zM211.20 171.0h8.12v2.2H211.20zM250.53 171.0h8.12v2.2H250.53zM258.40 171.0h8.12v2.2H258.40zM274.13 171.0h8.12v2.2H274.13zM282.00 171.0h8.12v2.2H282.00zM439.33 171.0h8.12v2.2H439.33zM455.07 171.0h8.12v2.2H455.07zM478.67 171.0h8.12v2.2H478.67zM53.87 173.0h8.12v2.2H53.87zM69.60 173.0h8.12v2.2H69.60zM85.33 173.0h8.12v2.2H85.33zM93.20 173.0h8.12v2.2H93.20zM101.07 173.0h8.12v2.2H101.07zM108.93 173.0h8.12v2.2H108.93zM124.67 173.0h8.12v2.2H124.67zM140.40 173.0h8.12v2.2H140.40zM171.87 173.0h8.12v2.2H171.87zM195.47 173.0h8.12v2.2H195.47zM360.67 173.0h8.12v2.2H360.67zM53.87 175.0h8.12v2.2H53.87zM61.73 175.0h8.12v2.2H61.73zM69.60 175.0h8.12v2.2H69.60zM93.20 175.0h8.12v2.2H93.20zM132.53 175.0h8.12v2.2H132.53zM148.27 175.0h8.12v2.2H148.27zM258.40 175.0h8.12v2.2H258.40zM329.20 175.0h8.12v2.2H329.20zM510.13 175.0h8.12v2.2H510.13zM53.87 177.0h8.12v2.2H53.87zM85.33 177.0h8.12v2.2H85.33zM101.07 177.0h8.12v2.2H101.07zM132.53 177.0h8.12v2.2H132.53zM179.73 177.0h8.12v2.2H179.73zM462.93 177.0h8.12v2.2H462.93zM502.27 177.0h8.12v2.2H502.27zM132.53 179.0h8.12v2.2H132.53zM289.87 179.0h8.12v2.2H289.87zM462.93 179.0h8.12v2.2H462.93zM510.13 179.0h8.12v2.2H510.13zM61.73 181.0h8.12v2.2H61.73zM69.60 181.0h8.12v2.2H69.60zM116.80 181.0h8.12v2.2H116.80zM124.67 181.0h8.12v2.2H124.67zM132.53 181.0h8.12v2.2H132.53zM148.27 181.0h8.12v2.2H148.27zM164.00 181.0h8.12v2.2H164.00zM211.20 181.0h8.12v2.2H211.20zM510.13 181.0h8.12v2.2H510.13zM69.60 183.0h8.12v2.2H69.60zM77.47 183.0h8.12v2.2H77.47zM85.33 183.0h8.12v2.2H85.33zM93.20 183.0h8.12v2.2H93.20zM101.07 183.0h8.12v2.2H101.07zM124.67 183.0h8.12v2.2H124.67zM140.40 183.0h8.12v2.2H140.40zM305.60 183.0h8.12v2.2H305.60zM360.67 183.0h8.12v2.2H360.67zM510.13 183.0h8.12v2.2H510.13zM116.80 185.0h8.12v2.2H116.80zM140.40 185.0h8.12v2.2H140.40zM148.27 185.0h8.12v2.2H148.27zM164.00 185.0h8.12v2.2H164.00zM187.60 185.0h8.12v2.2H187.60zM266.27 185.0h8.12v2.2H266.27zM344.93 185.0h8.12v2.2H344.93zM486.53 185.0h8.12v2.2H486.53zM85.33 187.0h8.12v2.2H85.33zM101.07 187.0h8.12v2.2H101.07zM132.53 187.0h8.12v2.2H132.53zM171.87 187.0h8.12v2.2H171.87zM226.93 187.0h8.12v2.2H226.93zM360.67 187.0h8.12v2.2H360.67zM431.47 187.0h8.12v2.2H431.47zM470.80 187.0h8.12v2.2H470.80zM510.13 187.0h8.12v2.2H510.13zM93.20 189.0h8.12v2.2H93.20zM140.40 189.0h8.12v2.2H140.40zM164.00 189.0h8.12v2.2H164.00zM195.47 189.0h8.12v2.2H195.47zM203.33 189.0h8.12v2.2H203.33zM250.53 189.0h8.12v2.2H250.53zM258.40 189.0h8.12v2.2H258.40zM297.73 189.0h8.12v2.2H297.73zM439.33 189.0h8.12v2.2H439.33zM447.20 189.0h8.12v2.2H447.20zM510.13 189.0h8.12v2.2H510.13zM53.87 191.0h8.12v2.2H53.87zM69.60 191.0h8.12v2.2H69.60zM77.47 191.0h8.12v2.2H77.47zM85.33 191.0h8.12v2.2H85.33zM124.67 191.0h8.12v2.2H124.67zM132.53 191.0h8.12v2.2H132.53zM156.13 191.0h8.12v2.2H156.13zM203.33 191.0h8.12v2.2H203.33zM352.80 191.0h8.12v2.2H352.80zM431.47 191.0h8.12v2.2H431.47zM53.87 193.0h8.12v2.2H53.87zM77.47 193.0h8.12v2.2H77.47zM85.33 193.0h8.12v2.2H85.33zM116.80 193.0h8.12v2.2H116.80zM140.40 193.0h8.12v2.2H140.40zM305.60 193.0h8.12v2.2H305.60zM400.00 193.0h8.12v2.2H400.00zM407.87 193.0h8.12v2.2H407.87zM415.73 193.0h8.12v2.2H415.73zM486.53 193.0h8.12v2.2H486.53zM85.33 195.0h8.12v2.2H85.33zM124.67 195.0h8.12v2.2H124.67zM132.53 195.0h8.12v2.2H132.53zM140.40 195.0h8.12v2.2H140.40zM195.47 195.0h8.12v2.2H195.47zM250.53 195.0h8.12v2.2H250.53zM297.73 195.0h8.12v2.2H297.73zM344.93 195.0h8.12v2.2H344.93zM360.67 195.0h8.12v2.2H360.67zM407.87 195.0h8.12v2.2H407.87zM494.40 195.0h8.12v2.2H494.40zM85.33 197.0h8.12v2.2H85.33zM93.20 197.0h8.12v2.2H93.20zM132.53 197.0h8.12v2.2H132.53zM242.67 197.0h8.12v2.2H242.67zM274.13 197.0h8.12v2.2H274.13zM360.67 197.0h8.12v2.2H360.67zM69.60 199.0h8.12v2.2H69.60zM93.20 199.0h8.12v2.2H93.20zM101.07 199.0h8.12v2.2H101.07zM203.33 199.0h8.12v2.2H203.33zM211.20 199.0h8.12v2.2H211.20zM61.73 201.0h8.12v2.2H61.73zM116.80 201.0h8.12v2.2H116.80zM124.67 201.0h8.12v2.2H124.67zM140.40 201.0h8.12v2.2H140.40zM234.80 201.0h8.12v2.2H234.80zM85.33 203.0h8.12v2.2H85.33zM108.93 203.0h8.12v2.2H108.93zM124.67 203.0h8.12v2.2H124.67zM140.40 203.0h8.12v2.2H140.40zM400.00 203.0h8.12v2.2H400.00zM510.13 203.0h8.12v2.2H510.13zM61.73 205.0h8.12v2.2H61.73zM69.60 205.0h8.12v2.2H69.60zM77.47 205.0h8.12v2.2H77.47zM108.93 205.0h8.12v2.2H108.93zM116.80 205.0h8.12v2.2H116.80zM124.67 205.0h8.12v2.2H124.67zM132.53 205.0h8.12v2.2H132.53zM140.40 205.0h8.12v2.2H140.40zM195.47 205.0h8.12v2.2H195.47zM360.67 205.0h8.12v2.2H360.67zM46.00 207.0h8.12v2.2H46.00zM61.73 207.0h8.12v2.2H61.73zM108.93 207.0h8.12v2.2H108.93zM156.13 207.0h8.12v2.2H156.13zM195.47 207.0h8.12v2.2H195.47zM313.47 207.0h8.12v2.2H313.47zM392.13 207.0h8.12v2.2H392.13zM462.93 207.0h8.12v2.2H462.93zM108.93 209.0h8.12v2.2H108.93zM124.67 209.0h8.12v2.2H124.67zM211.20 209.0h8.12v2.2H211.20zM250.53 209.0h8.12v2.2H250.53zM352.80 209.0h8.12v2.2H352.80zM407.87 209.0h8.12v2.2H407.87zM431.47 209.0h8.12v2.2H431.47zM439.33 209.0h8.12v2.2H439.33zM502.27 209.0h8.12v2.2H502.27zM77.47 211.0h8.12v2.2H77.47zM93.20 211.0h8.12v2.2H93.20zM140.40 211.0h8.12v2.2H140.40zM171.87 211.0h8.12v2.2H171.87zM203.33 211.0h8.12v2.2H203.33zM226.93 211.0h8.12v2.2H226.93zM274.13 211.0h8.12v2.2H274.13zM313.47 211.0h8.12v2.2H313.47zM337.07 211.0h8.12v2.2H337.07zM368.53 211.0h8.12v2.2H368.53zM423.60 211.0h8.12v2.2H423.60zM77.47 213.0h8.12v2.2H77.47zM124.67 213.0h8.12v2.2H124.67zM132.53 213.0h8.12v2.2H132.53zM242.67 213.0h8.12v2.2H242.67zM282.00 213.0h8.12v2.2H282.00zM337.07 213.0h8.12v2.2H337.07zM510.13 213.0h8.12v2.2H510.13zM61.73 215.0h8.12v2.2H61.73zM69.60 215.0h8.12v2.2H69.60zM156.13 215.0h8.12v2.2H156.13zM164.00 215.0h8.12v2.2H164.00zM203.33 215.0h8.12v2.2H203.33zM211.20 215.0h8.12v2.2H211.20zM219.07 215.0h8.12v2.2H219.07zM226.93 215.0h8.12v2.2H226.93zM250.53 215.0h8.12v2.2H250.53zM282.00 215.0h8.12v2.2H282.00zM313.47 215.0h8.12v2.2H313.47zM352.80 215.0h8.12v2.2H352.80zM392.13 215.0h8.12v2.2H392.13zM447.20 215.0h8.12v2.2H447.20zM53.87 217.0h8.12v2.2H53.87zM69.60 217.0h8.12v2.2H69.60zM108.93 217.0h8.12v2.2H108.93zM116.80 217.0h8.12v2.2H116.80zM187.60 217.0h8.12v2.2H187.60zM266.27 217.0h8.12v2.2H266.27zM274.13 217.0h8.12v2.2H274.13zM462.93 217.0h8.12v2.2H462.93zM486.53 217.0h8.12v2.2H486.53zM53.87 219.0h8.12v2.2H53.87zM69.60 219.0h8.12v2.2H69.60zM93.20 219.0h8.12v2.2H93.20zM187.60 219.0h8.12v2.2H187.60zM211.20 219.0h8.12v2.2H211.20zM266.27 219.0h8.12v2.2H266.27zM274.13 219.0h8.12v2.2H274.13zM282.00 219.0h8.12v2.2H282.00zM502.27 219.0h8.12v2.2H502.27zM53.87 221.0h8.12v2.2H53.87zM61.73 221.0h8.12v2.2H61.73zM85.33 221.0h8.12v2.2H85.33zM101.07 221.0h8.12v2.2H101.07zM148.27 221.0h8.12v2.2H148.27zM171.87 221.0h8.12v2.2H171.87zM219.07 221.0h8.12v2.2H219.07zM305.60 221.0h8.12v2.2H305.60zM321.33 221.0h8.12v2.2H321.33zM423.60 221.0h8.12v2.2H423.60zM46.00 223.0h8.12v2.2H46.00zM132.53 223.0h8.12v2.2H132.53zM140.40 223.0h8.12v2.2H140.40zM156.13 223.0h8.12v2.2H156.13zM179.73 223.0h8.12v2.2H179.73zM211.20 223.0h8.12v2.2H211.20zM242.67 223.0h8.12v2.2H242.67zM250.53 223.0h8.12v2.2H250.53zM289.87 223.0h8.12v2.2H289.87zM321.33 223.0h8.12v2.2H321.33zM360.67 223.0h8.12v2.2H360.67zM407.87 223.0h8.12v2.2H407.87zM510.13 223.0h8.12v2.2H510.13zM53.87 225.0h8.12v2.2H53.87zM85.33 225.0h8.12v2.2H85.33zM101.07 225.0h8.12v2.2H101.07zM108.93 225.0h8.12v2.2H108.93zM124.67 225.0h8.12v2.2H124.67zM282.00 225.0h8.12v2.2H282.00zM305.60 225.0h8.12v2.2H305.60zM352.80 225.0h8.12v2.2H352.80zM360.67 225.0h8.12v2.2H360.67zM494.40 225.0h8.12v2.2H494.40zM46.00 227.0h8.12v2.2H46.00zM69.60 227.0h8.12v2.2H69.60zM77.47 227.0h8.12v2.2H77.47zM85.33 227.0h8.12v2.2H85.33zM101.07 227.0h8.12v2.2H101.07zM116.80 227.0h8.12v2.2H116.80zM156.13 227.0h8.12v2.2H156.13zM203.33 227.0h8.12v2.2H203.33zM226.93 227.0h8.12v2.2H226.93zM400.00 227.0h8.12v2.2H400.00zM494.40 227.0h8.12v2.2H494.40zM502.27 227.0h8.12v2.2H502.27zM46.00 229.0h8.12v2.2H46.00zM53.87 229.0h8.12v2.2H53.87zM85.33 229.0h8.12v2.2H85.33zM116.80 229.0h8.12v2.2H116.80zM242.67 229.0h8.12v2.2H242.67zM258.40 229.0h8.12v2.2H258.40zM266.27 229.0h8.12v2.2H266.27zM282.00 229.0h8.12v2.2H282.00zM447.20 229.0h8.12v2.2H447.20zM510.13 229.0h8.12v2.2H510.13zM61.73 231.0h8.12v2.2H61.73zM69.60 231.0h8.12v2.2H69.60zM85.33 231.0h8.12v2.2H85.33zM140.40 231.0h8.12v2.2H140.40zM203.33 231.0h8.12v2.2H203.33zM234.80 231.0h8.12v2.2H234.80zM289.87 231.0h8.12v2.2H289.87zM305.60 231.0h8.12v2.2H305.60zM407.87 231.0h8.12v2.2H407.87zM53.87 233.0h8.12v2.2H53.87zM69.60 233.0h8.12v2.2H69.60zM116.80 233.0h8.12v2.2H116.80zM124.67 233.0h8.12v2.2H124.67zM132.53 233.0h8.12v2.2H132.53zM305.60 233.0h8.12v2.2H305.60zM337.07 233.0h8.12v2.2H337.07zM392.13 233.0h8.12v2.2H392.13zM462.93 233.0h8.12v2.2H462.93zM470.80 233.0h8.12v2.2H470.80zM101.07 235.0h8.12v2.2H101.07zM108.93 235.0h8.12v2.2H108.93zM140.40 235.0h8.12v2.2H140.40zM164.00 235.0h8.12v2.2H164.00zM195.47 235.0h8.12v2.2H195.47zM219.07 235.0h8.12v2.2H219.07zM266.27 235.0h8.12v2.2H266.27zM297.73 235.0h8.12v2.2H297.73zM470.80 235.0h8.12v2.2H470.80zM494.40 235.0h8.12v2.2H494.40zM61.73 237.0h8.12v2.2H61.73zM93.20 237.0h8.12v2.2H93.20zM140.40 237.0h8.12v2.2H140.40zM195.47 237.0h8.12v2.2H195.47zM53.87 239.0h8.12v2.2H53.87zM77.47 239.0h8.12v2.2H77.47zM85.33 239.0h8.12v2.2H85.33zM101.07 239.0h8.12v2.2H101.07zM108.93 239.0h8.12v2.2H108.93zM124.67 239.0h8.12v2.2H124.67zM140.40 239.0h8.12v2.2H140.40zM187.60 239.0h8.12v2.2H187.60zM297.73 239.0h8.12v2.2H297.73zM407.87 239.0h8.12v2.2H407.87zM415.73 239.0h8.12v2.2H415.73zM431.47 239.0h8.12v2.2H431.47zM53.87 241.0h8.12v2.2H53.87zM85.33 241.0h8.12v2.2H85.33zM93.20 241.0h8.12v2.2H93.20zM101.07 241.0h8.12v2.2H101.07zM195.47 241.0h8.12v2.2H195.47zM203.33 241.0h8.12v2.2H203.33zM470.80 241.0h8.12v2.2H470.80zM93.20 243.0h8.12v2.2H93.20zM101.07 243.0h8.12v2.2H101.07zM179.73 243.0h8.12v2.2H179.73zM211.20 243.0h8.12v2.2H211.20zM219.07 243.0h8.12v2.2H219.07zM234.80 243.0h8.12v2.2H234.80zM258.40 243.0h8.12v2.2H258.40zM423.60 243.0h8.12v2.2H423.60zM510.13 243.0h8.12v2.2H510.13zM93.20 245.0h8.12v2.2H93.20zM124.67 245.0h8.12v2.2H124.67zM140.40 245.0h8.12v2.2H140.40zM156.13 245.0h8.12v2.2H156.13zM179.73 245.0h8.12v2.2H179.73zM321.33 245.0h8.12v2.2H321.33zM329.20 245.0h8.12v2.2H329.20zM392.13 245.0h8.12v2.2H392.13zM415.73 245.0h8.12v2.2H415.73zM423.60 245.0h8.12v2.2H423.60zM470.80 245.0h8.12v2.2H470.80zM494.40 245.0h8.12v2.2H494.40zM77.47 247.0h8.12v2.2H77.47zM93.20 247.0h8.12v2.2H93.20zM140.40 247.0h8.12v2.2H140.40zM156.13 247.0h8.12v2.2H156.13zM164.00 247.0h8.12v2.2H164.00zM187.60 247.0h8.12v2.2H187.60zM234.80 247.0h8.12v2.2H234.80zM250.53 247.0h8.12v2.2H250.53zM329.20 247.0h8.12v2.2H329.20zM368.53 247.0h8.12v2.2H368.53zM407.87 247.0h8.12v2.2H407.87zM415.73 247.0h8.12v2.2H415.73zM439.33 247.0h8.12v2.2H439.33zM510.13 247.0h8.12v2.2H510.13zM61.73 249.0h8.12v2.2H61.73zM85.33 249.0h8.12v2.2H85.33zM108.93 249.0h8.12v2.2H108.93zM156.13 249.0h8.12v2.2H156.13zM187.60 249.0h8.12v2.2H187.60zM242.67 249.0h8.12v2.2H242.67zM274.13 249.0h8.12v2.2H274.13zM344.93 249.0h8.12v2.2H344.93zM478.67 249.0h8.12v2.2H478.67zM510.13 249.0h8.12v2.2H510.13zM93.20 251.0h8.12v2.2H93.20zM116.80 251.0h8.12v2.2H116.80zM140.40 251.0h8.12v2.2H140.40zM148.27 251.0h8.12v2.2H148.27zM187.60 251.0h8.12v2.2H187.60zM242.67 251.0h8.12v2.2H242.67zM360.67 251.0h8.12v2.2H360.67zM447.20 251.0h8.12v2.2H447.20zM69.60 253.0h8.12v2.2H69.60zM77.47 253.0h8.12v2.2H77.47zM108.93 253.0h8.12v2.2H108.93zM171.87 253.0h8.12v2.2H171.87zM187.60 253.0h8.12v2.2H187.60zM297.73 253.0h8.12v2.2H297.73zM352.80 253.0h8.12v2.2H352.80zM360.67 253.0h8.12v2.2H360.67zM384.27 253.0h8.12v2.2H384.27zM407.87 253.0h8.12v2.2H407.87zM77.47 255.0h8.12v2.2H77.47zM85.33 255.0h8.12v2.2H85.33zM116.80 255.0h8.12v2.2H116.80zM219.07 255.0h8.12v2.2H219.07zM258.40 255.0h8.12v2.2H258.40zM108.93 257.0h8.12v2.2H108.93zM132.53 257.0h8.12v2.2H132.53zM148.27 257.0h8.12v2.2H148.27zM171.87 257.0h8.12v2.2H171.87zM250.53 257.0h8.12v2.2H250.53zM282.00 257.0h8.12v2.2H282.00zM360.67 257.0h8.12v2.2H360.67zM69.60 259.0h8.12v2.2H69.60zM77.47 259.0h8.12v2.2H77.47zM85.33 259.0h8.12v2.2H85.33zM132.53 259.0h8.12v2.2H132.53zM156.13 259.0h8.12v2.2H156.13zM171.87 259.0h8.12v2.2H171.87zM360.67 259.0h8.12v2.2H360.67zM415.73 259.0h8.12v2.2H415.73zM423.60 259.0h8.12v2.2H423.60zM470.80 259.0h8.12v2.2H470.80zM502.27 259.0h8.12v2.2H502.27zM510.13 259.0h8.12v2.2H510.13z"/>
<path fill="rgb(18, 4, 39)" d="M250.53 71.0h8.12v2.2H250.53zM289.87 71.0h8.12v2.2H289.87zM305.60 71.0h8.12v2.2H305.60zM344.93 71.0h8.12v2.2H344.93zM384.27 71.0h8.12v2.2H384.27zM447.20 71.0h8.12v2.2H447.20zM455.07 71.0h8.12v2.2H455.07zM203.33 73.0h8.12v2.2H203.33zM274.13 73.0h8.12v2.2H274.13zM305.60 73.0h8.12v2.2H305.60zM337.07 73.0h8.12v2.2H337.07zM203.33 75.0h8.12v2.2H203.33zM258.40 75.0h8.12v2.2H258.40zM423.60 75.0h8.12v2.2H423.60zM470.80 75.0h8.12v2.2H470.80zM219.07 77.0h8.12v2.2H219.07zM266.27 77.0h8.12v2.2H266.27zM274.13 77.0h8.12v2.2H274.13zM313.47 77.0h8.12v2.2H313.47zM337.07 77.0h8.12v2.2H337.07zM376.40 77.0h8.12v2.2H376.40zM384.27 77.0h8.12v2.2H384.27zM455.07 77.0h8.12v2.2H455.07zM470.80 77.0h8.12v2.2H470.80zM203.33 79.0h8.12v2.2H203.33zM242.67 79.0h8.12v2.2H242.67zM384.27 79.0h8.12v2.2H384.27zM234.80 81.0h8.12v2.2H234.80zM313.47 81.0h8.12v2.2H313.47zM344.93 81.0h8.12v2.2H344.93zM360.67 81.0h8.12v2.2H360.67zM219.07 83.0h8.12v2.2H219.07zM234.80 83.0h8.12v2.2H234.80zM250.53 83.0h8.12v2.2H250.53zM297.73 83.0h8.12v2.2H297.73zM329.20 83.0h8.12v2.2H329.20zM384.27 83.0h8.12v2.2H384.27zM470.80 83.0h8.12v2.2H470.80zM234.80 85.0h8.12v2.2H234.80zM289.87 85.0h8.12v2.2H289.87zM321.33 85.0h8.12v2.2H321.33zM329.20 85.0h8.12v2.2H329.20zM376.40 85.0h8.12v2.2H376.40zM423.60 85.0h8.12v2.2H423.60zM203.33 87.0h8.12v2.2H203.33zM219.07 87.0h8.12v2.2H219.07zM266.27 87.0h8.12v2.2H266.27zM274.13 87.0h8.12v2.2H274.13zM297.73 87.0h8.12v2.2H297.73zM187.60 89.0h8.12v2.2H187.60zM242.67 89.0h8.12v2.2H242.67zM266.27 89.0h8.12v2.2H266.27zM274.13 89.0h8.12v2.2H274.13zM289.87 89.0h8.12v2.2H289.87zM455.07 89.0h8.12v2.2H455.07zM289.87 91.0h8.12v2.2H289.87zM384.27 91.0h8.12v2.2H384.27zM439.33 91.0h8.12v2.2H439.33zM447.20 91.0h8.12v2.2H447.20zM219.07 93.0h8.12v2.2H219.07zM242.67 93.0h8.12v2.2H242.67zM289.87 93.0h8.12v2.2H289.87zM407.87 93.0h8.12v2.2H407.87zM486.53 93.0h8.12v2.2H486.53zM242.67 95.0h8.12v2.2H242.67zM266.27 95.0h8.12v2.2H266.27zM282.00 95.0h8.12v2.2H282.00zM329.20 95.0h8.12v2.2H329.20zM384.27 95.0h8.12v2.2H384.27zM250.53 97.0h8.12v2.2H250.53zM274.13 97.0h8.12v2.2H274.13zM470.80 97.0h8.12v2.2H470.80zM258.40 99.0h8.12v2.2H258.40zM266.27 99.0h8.12v2.2H266.27zM384.27 99.0h8.12v2.2H384.27zM407.87 99.0h8.12v2.2H407.87zM234.80 101.0h8.12v2.2H234.80zM274.13 101.0h8.12v2.2H274.13zM337.07 101.0h8.12v2.2H337.07zM384.27 101.0h8.12v2.2H384.27zM392.13 101.0h8.12v2.2H392.13zM415.73 101.0h8.12v2.2H415.73zM266.27 103.0h8.12v2.2H266.27zM305.60 103.0h8.12v2.2H305.60zM313.47 103.0h8.12v2.2H313.47zM470.80 103.0h8.12v2.2H470.80zM282.00 105.0h8.12v2.2H282.00zM439.33 105.0h8.12v2.2H439.33zM470.80 105.0h8.12v2.2H470.80zM242.67 107.0h8.12v2.2H242.67zM289.87 107.0h8.12v2.2H289.87zM337.07 107.0h8.12v2.2H337.07zM352.80 107.0h8.12v2.2H352.80zM368.53 107.0h8.12v2.2H368.53zM384.27 107.0h8.12v2.2H384.27zM211.20 109.0h8.12v2.2H211.20zM219.07 109.0h8.12v2.2H219.07zM234.80 109.0h8.12v2.2H234.80zM266.27 109.0h8.12v2.2H266.27zM289.87 109.0h8.12v2.2H289.87zM321.33 109.0h8.12v2.2H321.33zM352.80 109.0h8.12v2.2H352.80zM470.80 109.0h8.12v2.2H470.80zM211.20 111.0h8.12v2.2H211.20zM250.53 111.0h8.12v2.2H250.53zM407.87 111.0h8.12v2.2H407.87zM447.20 111.0h8.12v2.2H447.20zM455.07 111.0h8.12v2.2H455.07zM203.33 113.0h8.12v2.2H203.33zM211.20 113.0h8.12v2.2H211.20zM219.07 113.0h8.12v2.2H219.07zM242.67 113.0h8.12v2.2H242.67zM258.40 113.0h8.12v2.2H258.40zM289.87 113.0h8.12v2.2H289.87zM305.60 113.0h8.12v2.2H305.60zM321.33 113.0h8.12v2.2H321.33zM455.07 113.0h8.12v2.2H455.07zM470.80 113.0h8.12v2.2H470.80zM502.27 113.0h8.12v2.2H502.27zM234.80 115.0h8.12v2.2H234.80zM274.13 117.0h8.12v2.2H274.13zM289.87 117.0h8.12v2.2H289.87zM305.60 117.0h8.12v2.2H305.60zM407.87 117.0h8.12v2.2H407.87zM470.80 117.0h8.12v2.2H470.80zM211.20 119.0h8.12v2.2H211.20zM219.07 119.0h8.12v2.2H219.07zM226.93 119.0h8.12v2.2H226.93zM234.80 119.0h8.12v2.2H234.80zM250.53 119.0h8.12v2.2H250.53zM392.13 119.0h8.12v2.2H392.13zM415.73 119.0h8.12v2.2H415.73zM462.93 119.0h8.12v2.2H462.93zM470.80 119.0h8.12v2.2H470.80zM478.67 119.0h8.12v2.2H478.67zM510.13 119.0h8.12v2.2H510.13zM219.07 121.0h8.12v2.2H219.07zM226.93 121.0h8.12v2.2H226.93zM234.80 121.0h8.12v2.2H234.80zM258.40 121.0h8.12v2.2H258.40zM289.87 121.0h8.12v2.2H289.87zM321.33 121.0h8.12v2.2H321.33zM384.27 121.0h8.12v2.2H384.27zM455.07 121.0h8.12v2.2H455.07zM470.80 121.0h8.12v2.2H470.80zM77.47 123.0h8.12v2.2H77.47zM116.80 123.0h8.12v2.2H116.80zM171.87 123.0h8.12v2.2H171.87zM179.73 123.0h8.12v2.2H179.73zM187.60 123.0h8.12v2.2H187.60zM250.53 123.0h8.12v2.2H250.53zM305.60 123.0h8.12v2.2H305.60zM360.67 123.0h8.12v2.2H360.67zM400.00 123.0h8.12v2.2H400.00zM423.60 123.0h8.12v2.2H423.60zM462.93 123.0h8.12v2.2H462.93zM470.80 123.0h8.12v2.2H470.80zM77.47 125.0h8.12v2.2H77.47zM108.93 125.0h8.12v2.2H108.93zM116.80 125.0h8.12v2.2H116.80zM164.00 125.0h8.12v2.2H164.00zM211.20 125.0h8.12v2.2H211.20zM242.67 125.0h8.12v2.2H242.67zM282.00 125.0h8.12v2.2H282.00zM384.27 125.0h8.12v2.2H384.27zM46.00 127.0h8.12v2.2H46.00zM85.33 127.0h8.12v2.2H85.33zM101.07 127.0h8.12v2.2H101.07zM148.27 127.0h8.12v2.2H148.27zM164.00 127.0h8.12v2.2H164.00zM187.60 127.0h8.12v2.2H187.60zM211.20 127.0h8.12v2.2H211.20zM226.93 127.0h8.12v2.2H226.93zM250.53 127.0h8.12v2.2H250.53zM305.60 127.0h8.12v2.2H305.60zM494.40 127.0h8.12v2.2H494.40zM510.13 127.0h8.12v2.2H510.13zM69.60 129.0h8.12v2.2H69.60zM77.47 129.0h8.12v2.2H77.47zM156.13 129.0h8.12v2.2H156.13zM313.47 129.0h8.12v2.2H313.47zM321.33 129.0h8.12v2.2H321.33zM329.20 129.0h8.12v2.2H329.20zM360.67 129.0h8.12v2.2H360.67zM455.07 129.0h8.12v2.2H455.07zM486.53 129.0h8.12v2.2H486.53zM53.87 131.0h8.12v2.2H53.87zM61.73 131.0h8.12v2.2H61.73zM69.60 131.0h8.12v2.2H69.60zM101.07 131.0h8.12v2.2H101.07zM116.80 131.0h8.12v2.2H116.80zM132.53 131.0h8.12v2.2H132.53zM211.20 131.0h8.12v2.2H211.20zM242.67 131.0h8.12v2.2H242.67zM274.13 131.0h8.12v2.2H274.13zM313.47 131.0h8.12v2.2H313.47zM352.80 131.0h8.12v2.2H352.80zM486.53 131.0h8.12v2.2H486.53zM502.27 131.0h8.12v2.2H502.27zM510.13 131.0h8.12v2.2H510.13zM46.00 133.0h8.12v2.2H46.00zM93.20 133.0h8.12v2.2H93.20zM101.07 133.0h8.12v2.2H101.07zM156.13 133.0h8.12v2.2H156.13zM282.00 133.0h8.12v2.2H282.00zM305.60 133.0h8.12v2.2H305.60zM352.80 133.0h8.12v2.2H352.80zM360.67 133.0h8.12v2.2H360.67zM415.73 133.0h8.12v2.2H415.73zM462.93 133.0h8.12v2.2H462.93zM470.80 133.0h8.12v2.2H470.80zM53.87 135.0h8.12v2.2H53.87zM77.47 135.0h8.12v2.2H77.47zM85.33 135.0h8.12v2.2H85.33zM124.67 135.0h8.12v2.2H124.67zM164.00 135.0h8.12v2.2H164.00zM203.33 135.0h8.12v2.2H203.33zM266.27 135.0h8.12v2.2H266.27zM282.00 135.0h8.12v2.2H282.00zM486.53 135.0h8.12v2.2H486.53zM510.13 135.0h8.12v2.2H510.13zM108.93 137.0h8.12v2.2H108.93zM132.53 137.0h8.12v2.2H132.53zM140.40 137.0h8.12v2.2H140.40zM156.13 137.0h8.12v2.2H156.13zM203.33 137.0h8.12v2.2H203.33zM242.67 137.0h8.12v2.2H242.67zM407.87 137.0h8.12v2.2H407.87zM61.73 139.0h8.12v2.2H61.73zM69.60 139.0h8.12v2.2H69.60zM116.80 139.0h8.12v2.2H116.80zM140.40 139.0h8.12v2.2H140.40zM164.00 139.0h8.12v2.2H164.00zM179.73 139.0h8.12v2.2H179.73zM203.33 139.0h8.12v2.2H203.33zM289.87 139.0h8.12v2.2H289.87zM329.20 139.0h8.12v2.2H329.20zM344.93 139.0h8.12v2.2H344.93zM360.67 139.0h8.12v2.2H360.67zM376.40 139.0h8.12v2.2H376.40zM462.93 139.0h8.12v2.2H462.93zM470.80 139.0h8.12v2.2H470.80zM53.87 141.0h8.12v2.2H53.87zM101.07 141.0h8.12v2.2H101.07zM116.80 141.0h8.12v2.2H116.80zM124.67 141.0h8.12v2.2H124.67zM132.53 141.0h8.12v2.2H132.53zM171.87 141.0h8.12v2.2H171.87zM211.20 141.0h8.12v2.2H211.20zM242.67 141.0h8.12v2.2H242.67zM258.40 141.0h8.12v2.2H258.40zM266.27 141.0h8.12v2.2H266.27zM282.00 141.0h8.12v2.2H282.00zM376.40 141.0h8.12v2.2H376.40zM447.20 141.0h8.12v2.2H447.20zM462.93 141.0h8.12v2.2H462.93zM53.87 143.0h8.12v2.2H53.87zM108.93 143.0h8.12v2.2H108.93zM116.80 143.0h8.12v2.2H116.80zM124.67 143.0h8.12v2.2H124.67zM140.40 143.0h8.12v2.2H140.40zM171.87 143.0h8.12v2.2H171.87zM187.60 143.0h8.12v2.2H187.60zM266.27 143.0h8.12v2.2H266.27zM282.00 143.0h8.12v2.2H282.00zM360.67 143.0h8.12v2.2H360.67zM384.27 143.0h8.12v2.2H384.27zM53.87 145.0h8.12v2.2H53.87zM61.73 145.0h8.12v2.2H61.73zM77.47 145.0h8.12v2.2H77.47zM93.20 145.0h8.12v2.2H93.20zM148.27 145.0h8.12v2.2H148.27zM156.13 145.0h8.12v2.2H156.13zM171.87 145.0h8.12v2.2H171.87zM179.73 145.0h8.12v2.2H179.73zM305.60 145.0h8.12v2.2H305.60zM344.93 145.0h8.12v2.2H344.93zM53.87 147.0h8.12v2.2H53.87zM61.73 147.0h8.12v2.2H61.73zM77.47 147.0h8.12v2.2H77.47zM85.33 147.0h8.12v2.2H85.33zM108.93 147.0h8.12v2.2H108.93zM258.40 147.0h8.12v2.2H258.40zM282.00 147.0h8.12v2.2H282.00zM289.87 147.0h8.12v2.2H289.87zM297.73 147.0h8.12v2.2H297.73zM305.60 147.0h8.12v2.2H305.60zM321.33 147.0h8.12v2.2H321.33zM392.13 147.0h8.12v2.2H392.13zM439.33 147.0h8.12v2.2H439.33zM486.53 147.0h8.12v2.2H486.53zM510.13 147.0h8.12v2.2H510.13zM69.60 149.0h8.12v2.2H69.60zM116.80 149.0h8.12v2.2H116.80zM124.67 149.0h8.12v2.2H124.67zM392.13 149.0h8.12v2.2H392.13zM46.00 151.0h8.12v2.2H46.00zM93.20 151.0h8.12v2.2H93.20zM101.07 151.0h8.12v2.2H101.07zM108.93 151.0h8.12v2.2H108.93zM116.80 151.0h8.12v2.2H116.80zM156.13 151.0h8.12v2.2H156.13zM242.67 151.0h8.12v2.2H242.67zM266.27 151.0h8.12v2.2H266.27zM352.80 151.0h8.12v2.2H352.80zM462.93 151.0h8.12v2.2H462.93zM470.80 151.0h8.12v2.2H470.80zM486.53 151.0h8.12v2.2H486.53zM61.73 153.0h8.12v2.2H61.73zM77.47 153.0h8.12v2.2H77.47zM85.33 153.0h8.12v2.2H85.33zM101.07 153.0h8.12v2.2H101.07zM116.80 153.0h8.12v2.2H116.80zM124.67 153.0h8.12v2.2H124.67zM179.73 153.0h8.12v2.2H179.73zM211.20 153.0h8.12v2.2H211.20zM250.53 153.0h8.12v2.2H250.53zM77.47 155.0h8.12v2.2H77.47zM140.40 155.0h8.12v2.2H140.40zM171.87 155.0h8.12v2.2H171.87zM242.67 155.0h8.12v2.2H242.67zM266.27 155.0h8.12v2.2H266.27zM274.13 155.0h8.12v2.2H274.13zM321.33 155.0h8.12v2.2H321.33zM337.07 155.0h8.12v2.2H337.07zM431.47 155.0h8.12v2.2H431.47zM470.80 155.0h8.12v2.2H470.80zM486.53 155.0h8.12v2.2H486.53zM69.60 157.0h8.12v2.2H69.60zM77.47 157.0h8.12v2.2H77.47zM124.67 157.0h8.12v2.2H124.67zM148.27 157.0h8.12v2.2H148.27zM156.13 157.0h8.12v2.2H156.13zM164.00 157.0h8.12v2.2H164.00zM274.13 157.0h8.12v2.2H274.13zM486.53 157.0h8.12v2.2H486.53zM494.40 157.0h8.12v2.2H494.40zM46.00 159.0h8.12v2.2H46.00zM53.87 159.0h8.12v2.2H53.87zM116.80 159.0h8.12v2.2H116.80zM124.67 159.0h8.12v2.2H124.67zM132.53 159.0h8.12v2.2H132.53zM140.40 159.0h8.12v2.2H140.40zM187.60 159.0h8.12v2.2H187.60zM305.60 159.0h8.12v2.2H305.60zM329.20 159.0h8.12v2.2H329.20zM344.93 159.0h8.12v2.2H344.93zM431.47 159.0h8.12v2.2H431.47zM53.87 161.0h8.12v2.2H53.87zM101.07 161.0h8.12v2.2H101.07zM108.93 161.0h8.12v2.2H108.93zM124.67 161.0h8.12v2.2H124.67zM148.27 161.0h8.12v2.2H148.27zM195.47 161.0h8.12v2.2H195.47zM305.60 161.0h8.12v2.2H305.60zM101.07 163.0h8.12v2.2H101.07zM124.67 163.0h8.12v2.2H124.67zM140.40 163.0h8.12v2.2H140.40zM203.33 163.0h8.12v2.2H203.33zM226.93 163.0h8.12v2.2H226.93zM77.47 165.0h8.12v2.2H77.47zM101.07 165.0h8.12v2.2H101.07zM124.67 165.0h8.12v2.2H124.67zM140.40 165.0h8.12v2.2H140.40zM164.00 165.0h8.12v2.2H164.00zM171.87 165.0h8.12v2.2H171.87zM203.33 165.0h8.12v2.2H203.33zM258.40 165.0h8.12v2.2H258.40zM266.27 165.0h8.12v2.2H266.27zM321.33 165.0h8.12v2.2H321.33zM179.73 167.0h8.12v2.2H179.73zM226.93 167.0h8.12v2.2H226.93zM321.33 167.0h8.12v2.2H321.33zM344.93 167.0h8.12v2.2H344.93zM407.87 167.0h8.12v2.2H407.87zM470.80 167.0h8.12v2.2H470.80zM510.13 167.0h8.12v2.2H510.13zM53.87 169.0h8.12v2.2H53.87zM195.47 169.0h8.12v2.2H195.47zM305.60 169.0h8.12v2.2H305.60zM313.47 169.0h8.12v2.2H313.47zM376.40 169.0h8.12v2.2H376.40zM407.87 169.0h8.12v2.2H407.87zM455.07 169.0h8.12v2.2H455.07zM53.87 171.0h8.12v2.2H53.87zM85.33 171.0h8.12v2.2H85.33zM108.93 171.0h8.12v2.2H108.93zM124.67 171.0h8.12v2.2H124.67zM297.73 171.0h8.12v2.2H297.73zM305.60 171.0h8.12v2.2H305.60zM415.73 171.0h8.12v2.2H415.73zM462.93 171.0h8.12v2.2H462.93zM470.80 171.0h8.12v2.2H470.80zM486.53 171.0h8.12v2.2H486.53zM61.73 173.0h8.12v2.2H61.73zM132.53 173.0h8.12v2.2H132.53zM148.27 173.0h8.12v2.2H148.27zM187.60 173.0h8.12v2.2H187.60zM234.80 173.0h8.12v2.2H234.80zM124.67 175.0h8.12v2.2H124.67zM187.60 175.0h8.12v2.2H187.60zM211.20 175.0h8.12v2.2H211.20zM266.27 175.0h8.12v2.2H266.27zM282.00 175.0h8.12v2.2H282.00zM447.20 175.0h8.12v2.2H447.20zM470.80 175.0h8.12v2.2H470.80zM478.67 175.0h8.12v2.2H478.67zM494.40 175.0h8.12v2.2H494.40zM124.67 177.0h8.12v2.2H124.67zM140.40 177.0h8.12v2.2H140.40zM211.20 177.0h8.12v2.2H211.20zM226.93 177.0h8.12v2.2H226.93zM415.73 177.0h8.12v2.2H415.73zM69.60 179.0h8.12v2.2H69.60zM124.67 179.0h8.12v2.2H124.67zM148.27 179.0h8.12v2.2H148.27zM179.73 179.0h8.12v2.2H179.73zM250.53 179.0h8.12v2.2H250.53zM282.00 179.0h8.12v2.2H282.00zM305.60 179.0h8.12v2.2H305.60zM447.20 179.0h8.12v2.2H447.20zM478.67 179.0h8.12v2.2H478.67zM494.40 179.0h8.12v2.2H494.40zM93.20 181.0h8.12v2.2H93.20zM101.07 181.0h8.12v2.2H101.07zM140.40 181.0h8.12v2.2H140.40zM242.67 181.0h8.12v2.2H242.67zM258.40 181.0h8.12v2.2H258.40zM266.27 181.0h8.12v2.2H266.27zM321.33 181.0h8.12v2.2H321.33zM352.80 181.0h8.12v2.2H352.80zM61.73 183.0h8.12v2.2H61.73zM116.80 183.0h8.12v2.2H116.80zM164.00 183.0h8.12v2.2H164.00zM171.87 183.0h8.12v2.2H171.87zM187.60 183.0h8.12v2.2H187.60zM250.53 183.0h8.12v2.2H250.53zM470.80 183.0h8.12v2.2H470.80zM77.47 185.0h8.12v2.2H77.47zM93.20 185.0h8.12v2.2H93.20zM101.07 185.0h8.12v2.2H101.07zM132.53 185.0h8.12v2.2H132.53zM171.87 185.0h8.12v2.2H171.87zM195.47 185.0h8.12v2.2H195.47zM234.80 185.0h8.12v2.2H234.80zM242.67 185.0h8.12v2.2H242.67zM282.00 185.0h8.12v2.2H282.00zM329.20 185.0h8.12v2.2H329.20zM352.80 185.0h8.12v2.2H352.80zM368.53 185.0h8.12v2.2H368.53zM384.27 185.0h8.12v2.2H384.27zM415.73 185.0h8.12v2.2H415.73zM455.07 185.0h8.12v2.2H455.07zM462.93 185.0h8.12v2.2H462.93zM502.27 185.0h8.12v2.2H502.27zM108.93 187.0h8.12v2.2H108.93zM297.73 187.0h8.12v2.2H297.73zM321.33 187.0h8.12v2.2H321.33zM329.20 187.0h8.12v2.2H329.20zM344.93 187.0h8.12v2.2H344.93zM400.00 187.0h8.12v2.2H400.00zM447.20 187.0h8.12v2.2H447.20zM494.40 187.0h8.12v2.2H494.40zM502.27 187.0h8.12v2.2H502.27zM46.00 189.0h8.12v2.2H46.00zM53.87 189.0h8.12v2.2H53.87zM61.73 189.0h8.12v2.2H61.73zM85.33 189.0h8.12v2.2H85.33zM101.07 189.0h8.12v2.2H101.07zM108.93 189.0h8.12v2.2H108.93zM116.80 189.0h8.12v2.2H116.80zM171.87 189.0h8.12v2.2H171.87zM187.60 189.0h8.12v2.2H187.60zM266.27 189.0h8.12v2.2H266.27zM321.33 189.0h8.12v2.2H321.33zM337.07 189.0h8.12v2.2H337.07zM360.67 189.0h8.12v2.2H360.67zM392.13 189.0h8.12v2.2H392.13zM407.87 189.0h8.12v2.2H407.87zM93.20 191.0h8.12v2.2H93.20zM101.07 191.0h8.12v2.2H101.07zM108.93 191.0h8.12v2.2H108.93zM116.80 191.0h8.12v2.2H116.80zM140.40 191.0h8.12v2.2H140.40zM148.27 191.0h8.12v2.2H148.27zM164.00 191.0h8.12v2.2H164.00zM187.60 191.0h8.12v2.2H187.60zM274.13 191.0h8.12v2.2H274.13zM344.93 191.0h8.12v2.2H344.93zM360.67 191.0h8.12v2.2H360.67zM423.60 191.0h8.12v2.2H423.60zM502.27 191.0h8.12v2.2H502.27zM61.73 193.0h8.12v2.2H61.73zM132.53 193.0h8.12v2.2H132.53zM171.87 193.0h8.12v2.2H171.87zM250.53 193.0h8.12v2.2H250.53zM266.27 193.0h8.12v2.2H266.27zM289.87 193.0h8.12v2.2H289.87zM329.20 193.0h8.12v2.2H329.20zM344.93 193.0h8.12v2.2H344.93zM352.80 193.0h8.12v2.2H352.80zM423.60 193.0h8.12v2.2H423.60zM447.20 193.0h8.12v2.2H447.20zM462.93 193.0h8.12v2.2H462.93zM494.40 193.0h8.12v2.2H494.40zM502.27 193.0h8.12v2.2H502.27zM61.73 195.0h8.12v2.2H61.73zM69.60 195.0h8.12v2.2H69.60zM219.07 195.0h8.12v2.2H219.07zM258.40 195.0h8.12v2.2H258.40zM289.87 195.0h8.12v2.2H289.87zM392.13 195.0h8.12v2.2H392.13zM400.00 195.0h8.12v2.2H400.00zM423.60 195.0h8.12v2.2H423.60zM439.33 195.0h8.12v2.2H439.33zM179.73 197.0h8.12v2.2H179.73zM297.73 197.0h8.12v2.2H297.73zM329.20 197.0h8.12v2.2H329.20zM352.80 197.0h8.12v2.2H352.80zM407.87 197.0h8.12v2.2H407.87zM494.40 197.0h8.12v2.2H494.40zM61.73 199.0h8.12v2.2H61.73zM195.47 199.0h8.12v2.2H195.47zM226.93 199.0h8.12v2.2H226.93zM69.60 201.0h8.12v2.2H69.60zM226.93 201.0h8.12v2.2H226.93zM93.20 203.0h8.12v2.2H93.20zM132.53 203.0h8.12v2.2H132.53zM171.87 203.0h8.12v2.2H171.87zM203.33 203.0h8.12v2.2H203.33zM211.20 203.0h8.12v2.2H211.20zM274.13 203.0h8.12v2.2H274.13zM297.73 203.0h8.12v2.2H297.73zM360.67 203.0h8.12v2.2H360.67zM415.73 203.0h8.12v2.2H415.73zM439.33 203.0h8.12v2.2H439.33zM455.07 203.0h8.12v2.2H455.07zM462.93 203.0h8.12v2.2H462.93zM470.80 203.0h8.12v2.2H470.80zM494.40 203.0h8.12v2.2H494.40zM101.07 205.0h8.12v2.2H101.07zM148.27 205.0h8.12v2.2H148.27zM179.73 205.0h8.12v2.2H179.73zM187.60 205.0h8.12v2.2H187.60zM211.20 205.0h8.12v2.2H211.20zM234.80 205.0h8.12v2.2H234.80zM242.67 205.0h8.12v2.2H242.67zM266.27 205.0h8.12v2.2H266.27zM337.07 205.0h8.12v2.2H337.07zM502.27 205.0h8.12v2.2H502.27zM101.07 207.0h8.12v2.2H101.07zM124.67 207.0h8.12v2.2H124.67zM132.53 207.0h8.12v2.2H132.53zM250.53 207.0h8.12v2.2H250.53zM274.13 207.0h8.12v2.2H274.13zM297.73 207.0h8.12v2.2H297.73zM344.93 207.0h8.12v2.2H344.93zM384.27 207.0h8.12v2.2H384.27zM61.73 209.0h8.12v2.2H61.73zM93.20 209.0h8.12v2.2H93.20zM132.53 209.0h8.12v2.2H132.53zM171.87 209.0h8.12v2.2H171.87zM187.60 209.0h8.12v2.2H187.60zM195.47 209.0h8.12v2.2H195.47zM242.67 209.0h8.12v2.2H242.67zM282.00 209.0h8.12v2.2H282.00zM305.60 209.0h8.12v2.2H305.60zM313.47 209.0h8.12v2.2H313.47zM337.07 209.0h8.12v2.2H337.07zM360.67 209.0h8.12v2.2H360.67zM455.07 209.0h8.12v2.2H455.07zM462.93 209.0h8.12v2.2H462.93zM470.80 209.0h8.12v2.2H470.80zM486.53 209.0h8.12v2.2H486.53zM53.87 211.0h8.12v2.2H53.87zM61.73 211.0h8.12v2.2H61.73zM108.93 211.0h8.12v2.2H108.93zM124.67 211.0h8.12v2.2H124.67zM164.00 211.0h8.12v2.2H164.00zM195.47 211.0h8.12v2.2H195.47zM360.67 211.0h8.12v2.2H360.67zM439.33 211.0h8.12v2.2H439.33zM447.20 211.0h8.12v2.2H447.20zM462.93 211.0h8.12v2.2H462.93zM486.53 211.0h8.12v2.2H486.53zM494.40 211.0h8.12v2.2H494.40zM502.27 211.0h8.12v2.2H502.27zM53.87 213.0h8.12v2.2H53.87zM69.60 213.0h8.12v2.2H69.60zM93.20 213.0h8.12v2.2H93.20zM101.07 213.0h8.12v2.2H101.07zM108.93 213.0h8.12v2.2H108.93zM164.00 213.0h8.12v2.2H164.00zM187.60 213.0h8.12v2.2H187.60zM234.80 213.0h8.12v2.2H234.80zM250.53 213.0h8.12v2.2H250.53zM258.40 213.0h8.12v2.2H258.40zM297.73 213.0h8.12v2.2H297.73zM329.20 213.0h8.12v2.2H329.20zM344.93 213.0h8.12v2.2H344.93zM376.40 213.0h8.12v2.2H376.40zM400.00 213.0h8.12v2.2H400.00zM462.93 213.0h8.12v2.2H462.93zM494.40 213.0h8.12v2.2H494.40zM108.93 215.0h8.12v2.2H108.93zM266.27 215.0h8.12v2.2H266.27zM305.60 215.0h8.12v2.2H305.60zM360.67 215.0h8.12v2.2H360.67zM400.00 215.0h8.12v2.2H400.00zM407.87 215.0h8.12v2.2H407.87zM431.47 215.0h8.12v2.2H431.47zM494.40 215.0h8.12v2.2H494.40zM77.47 217.0h8.12v2.2H77.47zM85.33 217.0h8.12v2.2H85.33zM101.07 217.0h8.12v2.2H101.07zM124.67 217.0h8.12v2.2H124.67zM132.53 217.0h8.12v2.2H132.53zM305.60 217.0h8.12v2.2H305.60zM329.20 217.0h8.12v2.2H329.20zM407.87 217.0h8.12v2.2H407.87zM455.07 217.0h8.12v2.2H455.07zM470.80 217.0h8.12v2.2H470.80zM478.67 217.0h8.12v2.2H478.67zM502.27 217.0h8.12v2.2H502.27zM510.13 217.0h8.12v2.2H510.13zM61.73 219.0h8.12v2.2H61.73zM85.33 219.0h8.12v2.2H85.33zM132.53 219.0h8.12v2.2H132.53zM140.40 219.0h8.12v2.2H140.40zM148.27 219.0h8.12v2.2H148.27zM344.93 219.0h8.12v2.2H344.93zM384.27 219.0h8.12v2.2H384.27zM400.00 219.0h8.12v2.2H400.00zM462.93 219.0h8.12v2.2H462.93zM478.67 219.0h8.12v2.2H478.67zM510.13 219.0h8.12v2.2H510.13zM77.47 221.0h8.12v2.2H77.47zM108.93 221.0h8.12v2.2H108.93zM132.53 221.0h8.12v2.2H132.53zM140.40 221.0h8.12v2.2H140.40zM164.00 221.0h8.12v2.2H164.00zM187.60 221.0h8.12v2.2H187.60zM195.47 221.0h8.12v2.2H195.47zM211.20 221.0h8.12v2.2H211.20zM226.93 221.0h8.12v2.2H226.93zM242.67 221.0h8.12v2.2H242.67zM250.53 221.0h8.12v2.2H250.53zM297.73 221.0h8.12v2.2H297.73zM329.20 221.0h8.12v2.2H329.20zM344.93 221.0h8.12v2.2H344.93zM392.13 221.0h8.12v2.2H392.13zM447.20 221.0h8.12v2.2H447.20zM470.80 221.0h8.12v2.2H470.80zM85.33 223.0h8.12v2.2H85.33zM171.87 223.0h8.12v2.2H171.87zM266.27 223.0h8.12v2.2H266.27zM297.73 223.0h8.12v2.2H297.73zM329.20 223.0h8.12v2.2H329.20zM344.93 223.0h8.12v2.2H344.93zM352.80 223.0h8.12v2.2H352.80zM368.53 223.0h8.12v2.2H368.53zM392.13 223.0h8.12v2.2H392.13zM431.47 223.0h8.12v2.2H431.47zM447.20 223.0h8.12v2.2H447.20zM69.60 225.0h8.12v2.2H69.60zM195.47 225.0h8.12v2.2H195.47zM258.40 225.0h8.12v2.2H258.40zM313.47 225.0h8.12v2.2H313.47zM407.87 225.0h8.12v2.2H407.87zM431.47 225.0h8.12v2.2H431.47zM455.07 225.0h8.12v2.2H455.07zM470.80 225.0h8.12v2.2H470.80zM502.27 225.0h8.12v2.2H502.27zM53.87 227.0h8.12v2.2H53.87zM61.73 227.0h8.12v2.2H61.73zM93.20 227.0h8.12v2.2H93.20zM219.07 227.0h8.12v2.2H219.07zM234.80 227.0h8.12v2.2H234.80zM250.53 227.0h8.12v2.2H250.53zM258.40 227.0h8.12v2.2H258.40zM297.73 227.0h8.12v2.2H297.73zM313.47 227.0h8.12v2.2H313.47zM321.33 227.0h8.12v2.2H321.33zM344.93 227.0h8.12v2.2H344.93zM423.60 227.0h8.12v2.2H423.60zM431.47 227.0h8.12v2.2H431.47zM470.80 227.0h8.12v2.2H470.80zM486.53 227.0h8.12v2.2H486.53zM69.60 229.0h8.12v2.2H69.60zM101.07 229.0h8.12v2.2H101.07zM140.40 229.0h8.12v2.2H140.40zM234.80 229.0h8.12v2.2H234.80zM313.47 229.0h8.12v2.2H313.47zM321.33 229.0h8.12v2.2H321.33zM352.80 229.0h8.12v2.2H352.80zM360.67 229.0h8.12v2.2H360.67zM368.53 229.0h8.12v2.2H368.53zM392.13 229.0h8.12v2.2H392.13zM423.60 229.0h8.12v2.2H423.60zM431.47 229.0h8.12v2.2H431.47zM470.80 229.0h8.12v2.2H470.80zM101.07 231.0h8.12v2.2H101.07zM108.93 231.0h8.12v2.2H108.93zM171.87 231.0h8.12v2.2H171.87zM179.73 231.0h8.12v2.2H179.73zM242.67 231.0h8.12v2.2H242.67zM274.13 231.0h8.12v2.2H274.13zM313.47 231.0h8.12v2.2H313.47zM337.07 231.0h8.12v2.2H337.07zM462.93 231.0h8.12v2.2H462.93zM510.13 231.0h8.12v2.2H510.13zM61.73 233.0h8.12v2.2H61.73zM77.47 233.0h8.12v2.2H77.47zM85.33 233.0h8.12v2.2H85.33zM108.93 233.0h8.12v2.2H108.93zM164.00 233.0h8.12v2.2H164.00zM211.20 233.0h8.12v2.2H211.20zM274.13 233.0h8.12v2.2H274.13zM384.27 233.0h8.12v2.2H384.27zM415.73 233.0h8.12v2.2H415.73zM431.47 233.0h8.12v2.2H431.47zM478.67 233.0h8.12v2.2H478.67zM53.87 235.0h8.12v2.2H53.87zM85.33 235.0h8.12v2.2H85.33zM132.53 235.0h8.12v2.2H132.53zM250.53 235.0h8.12v2.2H250.53zM313.47 235.0h8.12v2.2H313.47zM344.93 235.0h8.12v2.2H344.93zM376.40 235.0h8.12v2.2H376.40zM415.73 235.0h8.12v2.2H415.73zM431.47 235.0h8.12v2.2H431.47zM439.33 235.0h8.12v2.2H439.33zM455.07 235.0h8.12v2.2H455.07zM108.93 237.0h8.12v2.2H108.93zM132.53 237.0h8.12v2.2H132.53zM148.27 237.0h8.12v2.2H148.27zM156.13 237.0h8.12v2.2H156.13zM352.80 237.0h8.12v2.2H352.80zM360.67 237.0h8.12v2.2H360.67zM462.93 237.0h8.12v2.2H462.93zM486.53 237.0h8.12v2.2H486.53zM93.20 239.0h8.12v2.2H93.20zM132.53 239.0h8.12v2.2H132.53zM148.27 239.0h8.12v2.2H148.27zM195.47 239.0h8.12v2.2H195.47zM211.20 239.0h8.12v2.2H211.20zM321.33 239.0h8.12v2.2H321.33zM337.07 239.0h8.12v2.2H337.07zM392.13 239.0h8.12v2.2H392.13zM423.60 239.0h8.12v2.2H423.60zM447.20 239.0h8.12v2.2H447.20zM455.07 239.0h8.12v2.2H455.07zM462.93 239.0h8.12v2.2H462.93zM77.47 241.0h8.12v2.2H77.47zM258.40 241.0h8.12v2.2H258.40zM289.87 241.0h8.12v2.2H289.87zM447.20 241.0h8.12v2.2H447.20zM156.13 243.0h8.12v2.2H156.13zM164.00 243.0h8.12v2.2H164.00zM171.87 243.0h8.12v2.2H171.87zM266.27 243.0h8.12v2.2H266.27zM282.00 243.0h8.12v2.2H282.00zM289.87 243.0h8.12v2.2H289.87zM297.73 243.0h8.12v2.2H297.73zM447.20 243.0h8.12v2.2H447.20zM470.80 243.0h8.12v2.2H470.80zM132.53 245.0h8.12v2.2H132.53zM148.27 245.0h8.12v2.2H148.27zM289.87 245.0h8.12v2.2H289.87zM313.47 245.0h8.12v2.2H313.47zM360.67 245.0h8.12v2.2H360.67zM431.47 245.0h8.12v2.2H431.47zM462.93 245.0h8.12v2.2H462.93zM502.27 245.0h8.12v2.2H502.27zM85.33 247.0h8.12v2.2H85.33zM116.80 247.0h8.12v2.2H116.80zM148.27 247.0h8.12v2.2H148.27zM203.33 247.0h8.12v2.2H203.33zM297.73 247.0h8.12v2.2H297.73zM344.93 247.0h8.12v2.2H344.93zM376.40 247.0h8.12v2.2H376.40zM423.60 247.0h8.12v2.2H423.60zM431.47 247.0h8.12v2.2H431.47zM447.20 247.0h8.12v2.2H447.20zM462.93 247.0h8.12v2.2H462.93zM77.47 249.0h8.12v2.2H77.47zM93.20 249.0h8.12v2.2H93.20zM116.80 249.0h8.12v2.2H116.80zM124.67 249.0h8.12v2.2H124.67zM140.40 249.0h8.12v2.2H140.40zM195.47 249.0h8.12v2.2H195.47zM203.33 249.0h8.12v2.2H203.33zM226.93 249.0h8.12v2.2H226.93zM234.80 249.0h8.12v2.2H234.80zM305.60 249.0h8.12v2.2H305.60zM352.80 249.0h8.12v2.2H352.80zM368.53 249.0h8.12v2.2H368.53zM407.87 249.0h8.12v2.2H407.87zM470.80 249.0h8.12v2.2H470.80zM494.40 249.0h8.12v2.2H494.40zM53.87 251.0h8.12v2.2H53.87zM108.93 251.0h8.12v2.2H108.93zM124.67 251.0h8.12v2.2H124.67zM132.53 251.0h8.12v2.2H132.53zM211.20 251.0h8.12v2.2H211.20zM250.53 251.0h8.12v2.2H250.53zM266.27 251.0h8.12v2.2H266.27zM289.87 251.0h8.12v2.2H289.87zM384.27 251.0h8.12v2.2H384.27zM455.07 251.0h8.12v2.2H455.07zM502.27 251.0h8.12v2.2H502.27zM510.13 251.0h8.12v2.2H510.13zM93.20 253.0h8.12v2.2H93.20zM124.67 253.0h8.12v2.2H124.67zM195.47 253.0h8.12v2.2H195.47zM289.87 253.0h8.12v2.2H289.87zM321.33 253.0h8.12v2.2H321.33zM368.53 253.0h8.12v2.2H368.53zM439.33 253.0h8.12v2.2H439.33zM494.40 253.0h8.12v2.2H494.40zM502.27 253.0h8.12v2.2H502.27zM101.07 255.0h8.12v2.2H101.07zM108.93 255.0h8.12v2.2H108.93zM124.67 255.0h8.12v2.2H124.67zM132.53 255.0h8.12v2.2H132.53zM156.13 255.0h8.12v2.2H156.13zM171.87 255.0h8.12v2.2H171.87zM179.73 255.0h8.12v2.2H179.73zM187.60 255.0h8.12v2.2H187.60zM266.27 255.0h8.12v2.2H266.27zM274.13 255.0h8.12v2.2H274.13zM352.80 255.0h8.12v2.2H352.80zM407.87 255.0h8.12v2.2H407.87zM415.73 255.0h8.12v2.2H415.73zM431.47 255.0h8.12v2.2H431.47zM447.20 255.0h8.12v2.2H447.20zM462.93 255.0h8.12v2.2H462.93zM46.00 257.0h8.12v2.2H46.00zM69.60 257.0h8.12v2.2H69.60zM93.20 257.0h8.12v2.2H93.20zM101.07 257.0h8.12v2.2H101.07zM124.67 257.0h8.12v2.2H124.67zM423.60 257.0h8.12v2.2H423.60zM431.47 257.0h8.12v2.2H431.47zM494.40 257.0h8.12v2.2H494.40zM502.27 257.0h8.12v2.2H502.27zM53.87 259.0h8.12v2.2H53.87zM61.73 259.0h8.12v2.2H61.73zM93.20 259.0h8.12v2.2H93.20zM101.07 259.0h8.12v2.2H101.07zM108.93 259.0h8.12v2.2H108.93zM140.40 259.0h8.12v2.2H140.40zM179.73 259.0h8.12v2.2H179.73zM226.93 259.0h8.12v2.2H226.93zM242.67 259.0h8.12v2.2H242.67zM250.53 259.0h8.12v2.2H250.53zM282.00 259.0h8.12v2.2H282.00zM305.60 259.0h8.12v2.2H305.60zM321.33 259.0h8.12v2.2H321.33zM376.40 259.0h8.12v2.2H376.40zM384.27 259.0h8.12v2.2H384.27zM455.07 259.0h8.12v2.2H455.07zM462.93 259.0h8.12v2.2H462.93z"/>
<path fill="rgb(0, 0, 0)" d="M179.73 71.0h8.12v2.2H179.73zM203.33 71.0h8.12v2.2H203.33zM211.20 71.0h8.12v2.2H211.20zM258.40 71.0h8.12v2.2H258.40zM266.27 71.0h8.12v2.2H266.27zM337.07 71.0h8.12v2.2H337.07zM179.73 73.0h8.12v2.2H179.73zM211.20 73.0h8.12v2.2H211.20zM407.87 73.0h8.12v2.2H407.87zM179.73 75.0h8.12v2.2H179.73zM187.60 75.0h8.12v2.2H187.60zM179.73 77.0h8.12v2.2H179.73zM234.80 77.0h8.12v2.2H234.80zM219.07 79.0h8.12v2.2H219.07zM234.80 79.0h8.12v2.2H234.80zM289.87 79.0h8.12v2.2H289.87zM297.73 79.0h8.12v2.2H297.73zM242.67 81.0h8.12v2.2H242.67zM289.87 81.0h8.12v2.2H289.87zM384.27 81.0h8.12v2.2H384.27zM470.80 81.0h8.12v2.2H470.80zM274.13 83.0h8.12v2.2H274.13zM337.07 83.0h8.12v2.2H337.07zM219.07 85.0h8.12v2.2H219.07zM274.13 85.0h8.12v2.2H274.13zM297.73 85.0h8.12v2.2H297.73zM337.07 85.0h8.12v2.2H337.07zM344.93 85.0h8.12v2.2H344.93zM258.40 87.0h8.12v2.2H258.40zM337.07 87.0h8.12v2.2H337.07zM203.33 89.0h8.12v2.2H203.33zM195.47 91.0h8.12v2.2H195.47zM211.20 91.0h8.12v2.2H211.20zM407.87 91.0h8.12v2.2H407.87zM211.20 93.0h8.12v2.2H211.20zM250.53 93.0h8.12v2.2H250.53zM321.33 93.0h8.12v2.2H321.33zM226.93 95.0h8.12v2.2H226.93zM250.53 95.0h8.12v2.2H250.53zM274.13 95.0h8.12v2.2H274.13zM352.80 95.0h8.12v2.2H352.80zM179.73 97.0h8.12v2.2H179.73zM195.47 97.0h8.12v2.2H195.47zM203.33 97.0h8.12v2.2H203.33zM211.20 97.0h8.12v2.2H211.20zM219.07 97.0h8.12v2.2H219.07zM266.27 97.0h8.12v2.2H266.27zM219.07 99.0h8.12v2.2H219.07zM226.93 99.0h8.12v2.2H226.93zM242.67 99.0h8.12v2.2H242.67zM274.13 99.0h8.12v2.2H274.13zM179.73 101.0h8.12v2.2H179.73zM258.40 101.0h8.12v2.2H258.40zM266.27 101.0h8.12v2.2H266.27zM305.60 101.0h8.12v2.2H305.60zM195.47 103.0h8.12v2.2H195.47zM203.33 103.0h8.12v2.2H203.33zM211.20 103.0h8.12v2.2H211.20zM226.93 103.0h8.12v2.2H226.93zM250.53 103.0h8.12v2.2H250.53zM384.27 103.0h8.12v2.2H384.27zM195.47 105.0h8.12v2.2H195.47zM203.33 105.0h8.12v2.2H203.33zM211.20 105.0h8.12v2.2H211.20zM219.07 107.0h8.12v2.2H219.07zM266.27 107.0h8.12v2.2H266.27zM321.33 107.0h8.12v2.2H321.33zM329.20 107.0h8.12v2.2H329.20zM455.07 107.0h8.12v2.2H455.07zM258.40 109.0h8.12v2.2H258.40zM274.13 109.0h8.12v2.2H274.13zM337.07 109.0h8.12v2.2H337.07zM455.07 109.0h8.12v2.2H455.07zM502.27 109.0h8.12v2.2H502.27zM329.20 111.0h8.12v2.2H329.20zM344.93 111.0h8.12v2.2H344.93zM431.47 111.0h8.12v2.2H431.47zM124.67 113.0h8.12v2.2H124.67zM148.27 113.0h8.12v2.2H148.27zM179.73 113.0h8.12v2.2H179.73zM226.93 113.0h8.12v2.2H226.93zM344.93 113.0h8.12v2.2H344.93zM234.80 117.0h8.12v2.2H234.80zM179.73 119.0h8.12v2.2H179.73zM187.60 119.0h8.12v2.2H187.60zM203.33 119.0h8.12v2.2H203.33zM242.67 119.0h8.12v2.2H242.67zM282.00 119.0h8.12v2.2H282.00zM305.60 119.0h8.12v2.2H305.60zM344.93 119.0h8.12v2.2H344.93zM431.47 119.0h8.12v2.2H431.47zM187.60 121.0h8.12v2.2H187.60zM211.20 121.0h8.12v2.2H211.20zM53.87 123.0h8.12v2.2H53.87zM61.73 123.0h8.12v2.2H61.73zM85.33 123.0h8.12v2.2H85.33zM124.67 123.0h8.12v2.2H124.67zM148.27 123.0h8.12v2.2H148.27zM156.13 123.0h8.12v2.2H156.13zM195.47 123.0h8.12v2.2H195.47zM211.20 123.0h8.12v2.2H211.20zM266.27 123.0h8.12v2.2H266.27zM297.73 123.0h8.12v2.2H297.73zM313.47 123.0h8.12v2.2H313.47zM329.20 123.0h8.12v2.2H329.20zM344.93 123.0h8.12v2.2H344.93zM439.33 123.0h8.12v2.2H439.33zM447.20 123.0h8.12v2.2H447.20zM510.13 123.0h8.12v2.2H510.13zM53.87 125.0h8.12v2.2H53.87zM93.20 125.0h8.12v2.2H93.20zM101.07 125.0h8.12v2.2H101.07zM124.67 125.0h8.12v2.2H124.67zM140.40 125.0h8.12v2.2H140.40zM156.13 125.0h8.12v2.2H156.13zM226.93 125.0h8.12v2.2H226.93zM234.80 125.0h8.12v2.2H234.80zM321.33 125.0h8.12v2.2H321.33zM329.20 125.0h8.12v2.2H329.20zM376.40 125.0h8.12v2.2H376.40zM400.00 125.0h8.12v2.2H400.00zM431.47 125.0h8.12v2.2H431.47zM455.07 125.0h8.12v2.2H455.07zM462.93 125.0h8.12v2.2H462.93zM494.40 125.0h8.12v2.2H494.40zM502.27 125.0h8.12v2.2H502.27zM108.93 127.0h8.12v2.2H108.93zM124.67 127.0h8.12v2.2H124.67zM156.13 127.0h8.12v2.2H156.13zM203.33 127.0h8.12v2.2H203.33zM219.07 127.0h8.12v2.2H219.07zM274.13 127.0h8.12v2.2H274.13zM344.93 127.0h8.12v2.2H344.93zM376.40 127.0h8.12v2.2H376.40zM415.73 127.0h8.12v2.2H415.73zM470.80 127.0h8.12v2.2H470.80zM46.00 129.0h8.12v2.2H46.00zM61.73 129.0h8.12v2.2H61.73zM85.33 129.0h8.12v2.2H85.33zM101.07 129.0h8.12v2.2H101.07zM124.67 129.0h8.12v2.2H124.67zM148.27 129.0h8.12v2.2H148.27zM187.60 129.0h8.12v2.2H187.60zM234.80 129.0h8.12v2.2H234.80zM289.87 129.0h8.12v2.2H289.87zM415.73 129.0h8.12v2.2H415.73zM447.20 129.0h8.12v2.2H447.20zM478.67 129.0h8.12v2.2H478.67zM494.40 129.0h8.12v2.2H494.40zM93.20 131.0h8.12v2.2H93.20zM148.27 131.0h8.12v2.2H148.27zM187.60 131.0h8.12v2.2H187.60zM258.40 131.0h8.12v2.2H258.40zM337.07 131.0h8.12v2.2H337.07zM344.93 131.0h8.12v2.2H344.93zM400.00 131.0h8.12v2.2H400.00zM494.40 131.0h8.12v2.2H494.40zM61.73 133.0h8.12v2.2H61.73zM274.13 133.0h8.12v2.2H274.13zM368.53 133.0h8.12v2.2H368.53zM392.13 133.0h8.12v2.2H392.13zM431.47 133.0h8.12v2.2H431.47zM447.20 133.0h8.12v2.2H447.20zM455.07 133.0h8.12v2.2H455.07zM101.07 135.0h8.12v2.2H101.07zM108.93 135.0h8.12v2.2H108.93zM140.40 135.0h8.12v2.2H140.40zM195.47 135.0h8.12v2.2H195.47zM234.80 135.0h8.12v2.2H234.80zM274.13 135.0h8.12v2.2H274.13zM329.20 135.0h8.12v2.2H329.20zM344.93 135.0h8.12v2.2H344.93zM376.40 135.0h8.12v2.2H376.40zM384.27 135.0h8.12v2.2H384.27zM400.00 135.0h8.12v2.2H400.00zM407.87 135.0h8.12v2.2H407.87zM470.80 135.0h8.12v2.2H470.80zM478.67 135.0h8.12v2.2H478.67zM502.27 135.0h8.12v2.2H502.27zM61.73 137.0h8.12v2.2H61.73zM77.47 137.0h8.12v2.2H77.47zM85.33 137.0h8.12v2.2H85.33zM148.27 137.0h8.12v2.2H148.27zM171.87 137.0h8.12v2.2H171.87zM289.87 137.0h8.12v2.2H289.87zM360.67 137.0h8.12v2.2H360.67zM93.20 139.0h8.12v2.2H93.20zM156.13 139.0h8.12v2.2H156.13zM258.40 139.0h8.12v2.2H258.40zM486.53 139.0h8.12v2.2H486.53zM93.20 141.0h8.12v2.2H93.20zM108.93 141.0h8.12v2.2H108.93zM140.40 141.0h8.12v2.2H140.40zM156.13 141.0h8.12v2.2H156.13zM187.60 141.0h8.12v2.2H187.60zM305.60 141.0h8.12v2.2H305.60zM321.33 141.0h8.12v2.2H321.33zM368.53 141.0h8.12v2.2H368.53zM93.20 143.0h8.12v2.2H93.20zM101.07 143.0h8.12v2.2H101.07zM156.13 143.0h8.12v2.2H156.13zM219.07 143.0h8.12v2.2H219.07zM274.13 143.0h8.12v2.2H274.13zM297.73 143.0h8.12v2.2H297.73zM321.33 143.0h8.12v2.2H321.33zM344.93 143.0h8.12v2.2H344.93zM400.00 143.0h8.12v2.2H400.00zM407.87 143.0h8.12v2.2H407.87zM462.93 143.0h8.12v2.2H462.93zM478.67 143.0h8.12v2.2H478.67zM486.53 143.0h8.12v2.2H486.53zM69.60 145.0h8.12v2.2H69.60zM116.80 145.0h8.12v2.2H116.80zM124.67 145.0h8.12v2.2H124.67zM132.53 145.0h8.12v2.2H132.53zM289.87 145.0h8.12v2.2H289.87zM407.87 145.0h8.12v2.2H407.87zM486.53 145.0h8.12v2.2H486.53zM93.20 147.0h8.12v2.2H93.20zM116.80 147.0h8.12v2.2H116.80zM132.53 147.0h8.12v2.2H132.53zM274.13 147.0h8.12v2.2H274.13zM337.07 147.0h8.12v2.2H337.07zM352.80 147.0h8.12v2.2H352.80zM415.73 147.0h8.12v2.2H415.73zM423.60 147.0h8.12v2.2H423.60zM447.20 147.0h8.12v2.2H447.20zM470.80 147.0h8.12v2.2H470.80zM502.27 147.0h8.12v2.2H502.27zM93.20 149.0h8.12v2.2H93.20zM171.87 149.0h8.12v2.2H171.87zM250.53 149.0h8.12v2.2H250.53zM321.33 149.0h8.12v2.2H321.33zM329.20 149.0h8.12v2.2H329.20zM53.87 151.0h8.12v2.2H53.87zM132.53 151.0h8.12v2.2H132.53zM195.47 151.0h8.12v2.2H195.47zM226.93 151.0h8.12v2.2H226.93zM297.73 151.0h8.12v2.2H297.73zM321.33 151.0h8.12v2.2H321.33zM329.20 151.0h8.12v2.2H329.20zM368.53 151.0h8.12v2.2H368.53zM407.87 151.0h8.12v2.2H407.87zM423.60 151.0h8.12v2.2H423.60zM494.40 151.0h8.12v2.2H494.40zM502.27 151.0h8.12v2.2H502.27zM108.93 153.0h8.12v2.2H108.93zM148.27 153.0h8.12v2.2H148.27zM156.13 153.0h8.12v2.2H156.13zM226.93 153.0h8.12v2.2H226.93zM234.80 153.0h8.12v2.2H234.80zM313.47 153.0h8.12v2.2H313.47zM321.33 153.0h8.12v2.2H321.33zM368.53 153.0h8.12v2.2H368.53zM423.60 153.0h8.12v2.2H423.60zM462.93 153.0h8.12v2.2H462.93zM486.53 153.0h8.12v2.2H486.53zM494.40 153.0h8.12v2.2H494.40zM53.87 155.0h8.12v2.2H53.87zM124.67 155.0h8.12v2.2H124.67zM156.13 155.0h8.12v2.2H156.13zM305.60 155.0h8.12v2.2H305.60zM344.93 155.0h8.12v2.2H344.93zM455.07 155.0h8.12v2.2H455.07zM61.73 157.0h8.12v2.2H61.73zM93.20 157.0h8.12v2.2H93.20zM108.93 157.0h8.12v2.2H108.93zM116.80 157.0h8.12v2.2H116.80zM140.40 157.0h8.12v2.2H140.40zM250.53 157.0h8.12v2.2H250.53zM266.27 157.0h8.12v2.2H266.27zM321.33 157.0h8.12v2.2H321.33zM352.80 157.0h8.12v2.2H352.80zM368.53 157.0h8.12v2.2H368.53zM376.40 157.0h8.12v2.2H376.40zM407.87 157.0h8.12v2.2H407.87zM478.67 157.0h8.12v2.2H478.67zM502.27 157.0h8.12v2.2H502.27zM69.60 159.0h8.12v2.2H69.60zM77.47 159.0h8.12v2.2H77.47zM101.07 159.0h8.12v2.2H101.07zM274.13 159.0h8.12v2.2H274.13zM282.00 159.0h8.12v2.2H282.00zM289.87 159.0h8.12v2.2H289.87zM360.67 159.0h8.12v2.2H360.67zM69.60 161.0h8.12v2.2H69.60zM93.20 161.0h8.12v2.2H93.20zM132.53 161.0h8.12v2.2H132.53zM140.40 161.0h8.12v2.2H140.40zM164.00 161.0h8.12v2.2H164.00zM187.60 161.0h8.12v2.2H187.60zM258.40 161.0h8.12v2.2H258.40zM462.93 161.0h8.12v2.2H462.93zM470.80 161.0h8.12v2.2H470.80zM53.87 163.0h8.12v2.2H53.87zM61.73 163.0h8.12v2.2H61.73zM132.53 163.0h8.12v2.2H132.53zM148.27 163.0h8.12v2.2H148.27zM156.13 163.0h8.12v2.2H156.13zM164.00 163.0h8.12v2.2H164.00zM171.87 163.0h8.12v2.2H171.87zM179.73 163.0h8.12v2.2H179.73zM187.60 163.0h8.12v2.2H187.60zM211.20 163.0h8.12v2.2H211.20zM360.67 163.0h8.12v2.2H360.67zM132.53 165.0h8.12v2.2H132.53zM148.27 165.0h8.12v2.2H148.27zM187.60 165.0h8.12v2.2H187.60zM274.13 165.0h8.12v2.2H274.13zM344.93 165.0h8.12v2.2H344.93zM384.27 165.0h8.12v2.2H384.27zM415.73 165.0h8.12v2.2H415.73zM423.60 165.0h8.12v2.2H423.60zM462.93 165.0h8.12v2.2H462.93zM470.80 165.0h8.12v2.2H470.80zM502.27 165.0h8.12v2.2H502.27zM510.13 165.0h8.12v2.2H510.13zM61.73 167.0h8.12v2.2H61.73zM305.60 167.0h8.12v2.2H305.60zM219.07 169.0h8.12v2.2H219.07zM242.67 169.0h8.12v2.2H242.67zM352.80 169.0h8.12v2.2H352.80zM384.27 169.0h8.12v2.2H384.27zM400.00 169.0h8.12v2.2H400.00zM486.53 169.0h8.12v2.2H486.53zM494.40 169.0h8.12v2.2H494.40zM321.33 171.0h8.12v2.2H321.33zM368.53 171.0h8.12v2.2H368.53zM392.13 171.0h8.12v2.2H392.13zM423.60 171.0h8.12v2.2H423.60zM156.13 173.0h8.12v2.2H156.13zM164.00 173.0h8.12v2.2H164.00zM226.93 173.0h8.12v2.2H226.93zM242.67 173.0h8.12v2.2H242.67zM305.60 173.0h8.12v2.2H305.60zM415.73 173.0h8.12v2.2H415.73zM470.80 173.0h8.12v2.2H470.80zM478.67 173.0h8.12v2.2H478.67zM140.40 175.0h8.12v2.2H140.40zM195.47 175.0h8.12v2.2H195.47zM203.33 175.0h8.12v2.2H203.33zM305.60 175.0h8.12v2.2H305.60zM321.33 175.0h8.12v2.2H321.33zM352.80 175.0h8.12v2.2H352.80zM360.67 175.0h8.12v2.2H360.67zM376.40 175.0h8.12v2.2H376.40zM400.00 175.0h8.12v2.2H400.00zM407.87 175.0h8.12v2.2H407.87zM462.93 175.0h8.12v2.2H462.93zM486.53 175.0h8.12v2.2H486.53zM502.27 175.0h8.12v2.2H502.27zM156.13 177.0h8.12v2.2H156.13zM203.33 177.0h8.12v2.2H203.33zM274.13 177.0h8.12v2.2H274.13zM352.80 177.0h8.12v2.2H352.80zM400.00 177.0h8.12v2.2H400.00zM494.40 177.0h8.12v2.2H494.40zM53.87 179.0h8.12v2.2H53.87zM61.73 179.0h8.12v2.2H61.73zM53.87 181.0h8.12v2.2H53.87zM234.80 181.0h8.12v2.2H234.80zM344.93 181.0h8.12v2.2H344.93zM360.67 181.0h8.12v2.2H360.67zM415.73 181.0h8.12v2.2H415.73zM455.07 181.0h8.12v2.2H455.07zM470.80 181.0h8.12v2.2H470.80zM502.27 181.0h8.12v2.2H502.27zM132.53 183.0h8.12v2.2H132.53zM156.13 183.0h8.12v2.2H156.13zM179.73 183.0h8.12v2.2H179.73zM195.47 183.0h8.12v2.2H195.47zM219.07 183.0h8.12v2.2H219.07zM226.93 183.0h8.12v2.2H226.93zM297.73 183.0h8.12v2.2H297.73zM400.00 183.0h8.12v2.2H400.00zM407.87 183.0h8.12v2.2H407.87zM462.93 183.0h8.12v2.2H462.93zM494.40 183.0h8.12v2.2H494.40zM124.67 185.0h8.12v2.2H124.67zM250.53 185.0h8.12v2.2H250.53zM297.73 185.0h8.12v2.2H297.73zM337.07 185.0h8.12v2.2H337.07zM392.13 185.0h8.12v2.2H392.13zM439.33 185.0h8.12v2.2H439.33zM478.67 185.0h8.12v2.2H478.67zM510.13 185.0h8.12v2.2H510.13zM61.73 187.0h8.12v2.2H61.73zM140.40 187.0h8.12v2.2H140.40zM148.27 187.0h8.12v2.2H148.27zM164.00 187.0h8.12v2.2H164.00zM242.67 187.0h8.12v2.2H242.67zM250.53 187.0h8.12v2.2H250.53zM282.00 187.0h8.12v2.2H282.00zM305.60 187.0h8.12v2.2H305.60zM352.80 187.0h8.12v2.2H352.80zM423.60 187.0h8.12v2.2H423.60zM124.67 189.0h8.12v2.2H124.67zM132.53 189.0h8.12v2.2H132.53zM274.13 189.0h8.12v2.2H274.13zM329.20 189.0h8.12v2.2H329.20zM344.93 189.0h8.12v2.2H344.93zM415.73 189.0h8.12v2.2H415.73zM423.60 189.0h8.12v2.2H423.60zM455.07 189.0h8.12v2.2H455.07zM462.93 189.0h8.12v2.2H462.93zM470.80 189.0h8.12v2.2H470.80zM502.27 189.0h8.12v2.2H502.27zM179.73 191.0h8.12v2.2H179.73zM195.47 191.0h8.12v2.2H195.47zM211.20 191.0h8.12v2.2H211.20zM250.53 191.0h8.12v2.2H250.53zM258.40 191.0h8.12v2.2H258.40zM297.73 191.0h8.12v2.2H297.73zM368.53 191.0h8.12v2.2H368.53zM384.27 191.0h8.12v2.2H384.27zM415.73 191.0h8.12v2.2H415.73zM439.33 191.0h8.12v2.2H439.33zM447.20 191.0h8.12v2.2H447.20zM93.20 193.0h8.12v2.2H93.20zM156.13 193.0h8.12v2.2H156.13zM187.60 193.0h8.12v2.2H187.60zM282.00 193.0h8.12v2.2H282.00zM297.73 193.0h8.12v2.2H297.73zM360.67 193.0h8.12v2.2H360.67zM368.53 193.0h8.12v2.2H368.53zM211.20 195.0h8.12v2.2H211.20zM447.20 195.0h8.12v2.2H447.20zM462.93 195.0h8.12v2.2H462.93zM470.80 195.0h8.12v2.2H470.80zM486.53 195.0h8.12v2.2H486.53zM510.13 195.0h8.12v2.2H510.13zM313.47 197.0h8.12v2.2H313.47zM321.33 197.0h8.12v2.2H321.33zM400.00 197.0h8.12v2.2H400.00zM415.73 197.0h8.12v2.2H415.73zM431.47 197.0h8.12v2.2H431.47zM455.07 197.0h8.12v2.2H455.07zM486.53 197.0h8.12v2.2H486.53zM242.67 199.0h8.12v2.2H242.67zM250.53 199.0h8.12v2.2H250.53zM376.40 199.0h8.12v2.2H376.40zM510.13 199.0h8.12v2.2H510.13zM219.07 201.0h8.12v2.2H219.07zM305.60 201.0h8.12v2.2H305.60zM329.20 201.0h8.12v2.2H329.20zM344.93 201.0h8.12v2.2H344.93zM352.80 201.0h8.12v2.2H352.80zM368.53 201.0h8.12v2.2H368.53zM384.27 201.0h8.12v2.2H384.27zM462.93 201.0h8.12v2.2H462.93zM470.80 201.0h8.12v2.2H470.80zM164.00 203.0h8.12v2.2H164.00zM242.67 203.0h8.12v2.2H242.67zM344.93 203.0h8.12v2.2H344.93zM352.80 203.0h8.12v2.2H352.80zM368.53 203.0h8.12v2.2H368.53zM392.13 203.0h8.12v2.2H392.13zM447.20 203.0h8.12v2.2H447.20zM53.87 205.0h8.12v2.2H53.87zM282.00 205.0h8.12v2.2H282.00zM352.80 205.0h8.12v2.2H352.80zM447.20 205.0h8.12v2.2H447.20zM455.07 205.0h8.12v2.2H455.07zM510.13 205.0h8.12v2.2H510.13zM53.87 207.0h8.12v2.2H53.87zM69.60 207.0h8.12v2.2H69.60zM116.80 207.0h8.12v2.2H116.80zM148.27 207.0h8.12v2.2H148.27zM164.00 207.0h8.12v2.2H164.00zM211.20 207.0h8.12v2.2H211.20zM242.67 207.0h8.12v2.2H242.67zM289.87 207.0h8.12v2.2H289.87zM321.33 207.0h8.12v2.2H321.33zM423.60 207.0h8.12v2.2H423.60zM455.07 207.0h8.12v2.2H455.07zM510.13 207.0h8.12v2.2H510.13zM69.60 209.0h8.12v2.2H69.60zM101.07 209.0h8.12v2.2H101.07zM219.07 209.0h8.12v2.2H219.07zM258.40 209.0h8.12v2.2H258.40zM376.40 209.0h8.12v2.2H376.40zM392.13 209.0h8.12v2.2H392.13zM101.07 211.0h8.12v2.2H101.07zM282.00 211.0h8.12v2.2H282.00zM329.20 211.0h8.12v2.2H329.20zM376.40 211.0h8.12v2.2H376.40zM400.00 211.0h8.12v2.2H400.00zM431.47 211.0h8.12v2.2H431.47zM455.07 211.0h8.12v2.2H455.07zM470.80 211.0h8.12v2.2H470.80zM140.40 213.0h8.12v2.2H140.40zM352.80 213.0h8.12v2.2H352.80zM455.07 213.0h8.12v2.2H455.07zM478.67 213.0h8.12v2.2H478.67zM486.53 213.0h8.12v2.2H486.53zM93.20 215.0h8.12v2.2H93.20zM179.73 215.0h8.12v2.2H179.73zM234.80 215.0h8.12v2.2H234.80zM242.67 215.0h8.12v2.2H242.67zM344.93 215.0h8.12v2.2H344.93zM455.07 215.0h8.12v2.2H455.07zM462.93 215.0h8.12v2.2H462.93zM510.13 215.0h8.12v2.2H510.13zM93.20 217.0h8.12v2.2H93.20zM282.00 217.0h8.12v2.2H282.00zM289.87 217.0h8.12v2.2H289.87zM297.73 217.0h8.12v2.2H297.73zM313.47 217.0h8.12v2.2H313.47zM352.80 217.0h8.12v2.2H352.80zM376.40 217.0h8.12v2.2H376.40zM400.00 217.0h8.12v2.2H400.00zM415.73 217.0h8.12v2.2H415.73zM423.60 217.0h8.12v2.2H423.60zM431.47 217.0h8.12v2.2H431.47zM447.20 217.0h8.12v2.2H447.20zM101.07 219.0h8.12v2.2H101.07zM124.67 219.0h8.12v2.2H124.67zM179.73 219.0h8.12v2.2H179.73zM297.73 219.0h8.12v2.2H297.73zM313.47 219.0h8.12v2.2H313.47zM337.07 219.0h8.12v2.2H337.07zM423.60 219.0h8.12v2.2H423.60zM447.20 219.0h8.12v2.2H447.20zM470.80 219.0h8.12v2.2H470.80zM486.53 219.0h8.12v2.2H486.53zM124.67 221.0h8.12v2.2H124.67zM203.33 221.0h8.12v2.2H203.33zM282.00 221.0h8.12v2.2H282.00zM352.80 221.0h8.12v2.2H352.80zM462.93 221.0h8.12v2.2H462.93zM502.27 221.0h8.12v2.2H502.27zM164.00 223.0h8.12v2.2H164.00zM305.60 223.0h8.12v2.2H305.60zM313.47 223.0h8.12v2.2H313.47zM462.93 223.0h8.12v2.2H462.93zM470.80 223.0h8.12v2.2H470.80zM140.40 225.0h8.12v2.2H140.40zM329.20 225.0h8.12v2.2H329.20zM368.53 225.0h8.12v2.2H368.53zM376.40 225.0h8.12v2.2H376.40zM462.93 225.0h8.12v2.2H462.93zM478.67 225.0h8.12v2.2H478.67zM486.53 225.0h8.12v2.2H486.53zM211.20 227.0h8.12v2.2H211.20zM266.27 227.0h8.12v2.2H266.27zM274.13 227.0h8.12v2.2H274.13zM282.00 227.0h8.12v2.2H282.00zM368.53 227.0h8.12v2.2H368.53zM392.13 227.0h8.12v2.2H392.13zM415.73 227.0h8.12v2.2H415.73zM447.20 227.0h8.12v2.2H447.20zM61.73 229.0h8.12v2.2H61.73zM124.67 229.0h8.12v2.2H124.67zM171.87 229.0h8.12v2.2H171.87zM179.73 229.0h8.12v2.2H179.73zM203.33 229.0h8.12v2.2H203.33zM219.07 229.0h8.12v2.2H219.07zM297.73 229.0h8.12v2.2H297.73zM305.60 229.0h8.12v2.2H305.60zM329.20 229.0h8.12v2.2H329.20zM384.27 229.0h8.12v2.2H384.27zM400.00 229.0h8.12v2.2H400.00zM455.07 229.0h8.12v2.2H455.07zM462.93 229.0h8.12v2.2H462.93zM486.53 229.0h8.12v2.2H486.53zM494.40 229.0h8.12v2.2H494.40zM93.20 231.0h8.12v2.2H93.20zM124.67 231.0h8.12v2.2H124.67zM148.27 231.0h8.12v2.2H148.27zM195.47 231.0h8.12v2.2H195.47zM211.20 231.0h8.12v2.2H211.20zM266.27 231.0h8.12v2.2H266.27zM376.40 231.0h8.12v2.2H376.40zM423.60 231.0h8.12v2.2H423.60zM455.07 231.0h8.12v2.2H455.07zM470.80 231.0h8.12v2.2H470.80zM502.27 231.0h8.12v2.2H502.27zM93.20 233.0h8.12v2.2H93.20zM140.40 233.0h8.12v2.2H140.40zM148.27 233.0h8.12v2.2H148.27zM171.87 233.0h8.12v2.2H171.87zM179.73 233.0h8.12v2.2H179.73zM282.00 233.0h8.12v2.2H282.00zM321.33 233.0h8.12v2.2H321.33zM407.87 233.0h8.12v2.2H407.87zM455.07 233.0h8.12v2.2H455.07zM93.20 235.0h8.12v2.2H93.20zM148.27 235.0h8.12v2.2H148.27zM179.73 235.0h8.12v2.2H179.73zM187.60 235.0h8.12v2.2H187.60zM211.20 235.0h8.12v2.2H211.20zM368.53 235.0h8.12v2.2H368.53zM384.27 235.0h8.12v2.2H384.27zM400.00 235.0h8.12v2.2H400.00zM447.20 235.0h8.12v2.2H447.20zM462.93 235.0h8.12v2.2H462.93zM502.27 235.0h8.12v2.2H502.27zM171.87 237.0h8.12v2.2H171.87zM274.13 237.0h8.12v2.2H274.13zM297.73 237.0h8.12v2.2H297.73zM384.27 237.0h8.12v2.2H384.27zM400.00 237.0h8.12v2.2H400.00zM407.87 237.0h8.12v2.2H407.87zM415.73 237.0h8.12v2.2H415.73zM439.33 237.0h8.12v2.2H439.33zM344.93 239.0h8.12v2.2H344.93zM470.80 239.0h8.12v2.2H470.80zM494.40 239.0h8.12v2.2H494.40zM502.27 239.0h8.12v2.2H502.27zM510.13 239.0h8.12v2.2H510.13zM164.00 241.0h8.12v2.2H164.00zM179.73 241.0h8.12v2.2H179.73zM250.53 241.0h8.12v2.2H250.53zM266.27 241.0h8.12v2.2H266.27zM305.60 241.0h8.12v2.2H305.60zM360.67 241.0h8.12v2.2H360.67zM415.73 241.0h8.12v2.2H415.73zM423.60 241.0h8.12v2.2H423.60zM431.47 241.0h8.12v2.2H431.47zM187.60 243.0h8.12v2.2H187.60zM274.13 243.0h8.12v2.2H274.13zM313.47 243.0h8.12v2.2H313.47zM321.33 243.0h8.12v2.2H321.33zM329.20 243.0h8.12v2.2H329.20zM352.80 243.0h8.12v2.2H352.80zM368.53 243.0h8.12v2.2H368.53zM376.40 243.0h8.12v2.2H376.40zM407.87 243.0h8.12v2.2H407.87zM415.73 243.0h8.12v2.2H415.73zM242.67 245.0h8.12v2.2H242.67zM250.53 245.0h8.12v2.2H250.53zM274.13 245.0h8.12v2.2H274.13zM297.73 245.0h8.12v2.2H297.73zM344.93 245.0h8.12v2.2H344.93zM400.00 245.0h8.12v2.2H400.00zM407.87 245.0h8.12v2.2H407.87zM439.33 245.0h8.12v2.2H439.33zM455.07 245.0h8.12v2.2H455.07zM486.53 245.0h8.12v2.2H486.53zM61.73 247.0h8.12v2.2H61.73zM101.07 247.0h8.12v2.2H101.07zM108.93 247.0h8.12v2.2H108.93zM132.53 247.0h8.12v2.2H132.53zM195.47 247.0h8.12v2.2H195.47zM226.93 247.0h8.12v2.2H226.93zM313.47 247.0h8.12v2.2H313.47zM384.27 247.0h8.12v2.2H384.27zM455.07 247.0h8.12v2.2H455.07zM478.67 247.0h8.12v2.2H478.67zM132.53 249.0h8.12v2.2H132.53zM164.00 249.0h8.12v2.2H164.00zM282.00 249.0h8.12v2.2H282.00zM297.73 249.0h8.12v2.2H297.73zM321.33 249.0h8.12v2.2H321.33zM337.07 249.0h8.12v2.2H337.07zM392.13 249.0h8.12v2.2H392.13zM400.00 249.0h8.12v2.2H400.00zM423.60 249.0h8.12v2.2H423.60zM77.47 251.0h8.12v2.2H77.47zM195.47 251.0h8.12v2.2H195.47zM282.00 251.0h8.12v2.2H282.00zM305.60 251.0h8.12v2.2H305.60zM400.00 251.0h8.12v2.2H400.00zM407.87 251.0h8.12v2.2H407.87zM415.73 251.0h8.12v2.2H415.73zM439.33 251.0h8.12v2.2H439.33zM462.93 251.0h8.12v2.2H462.93zM486.53 251.0h8.12v2.2H486.53zM164.00 253.0h8.12v2.2H164.00zM203.33 253.0h8.12v2.2H203.33zM266.27 253.0h8.12v2.2H266.27zM305.60 253.0h8.12v2.2H305.60zM313.47 253.0h8.12v2.2H313.47zM329.20 253.0h8.12v2.2H329.20zM337.07 253.0h8.12v2.2H337.07zM415.73 253.0h8.12v2.2H415.73zM431.47 253.0h8.12v2.2H431.47zM447.20 253.0h8.12v2.2H447.20zM470.80 253.0h8.12v2.2H470.80zM486.53 253.0h8.12v2.2H486.53zM93.20 255.0h8.12v2.2H93.20zM242.67 255.0h8.12v2.2H242.67zM250.53 255.0h8.12v2.2H250.53zM282.00 255.0h8.12v2.2H282.00zM321.33 255.0h8.12v2.2H321.33zM360.67 255.0h8.12v2.2H360.67zM439.33 255.0h8.12v2.2H439.33zM455.07 255.0h8.12v2.2H455.07zM494.40 255.0h8.12v2.2H494.40zM502.27 255.0h8.12v2.2H502.27zM510.13 255.0h8.12v2.2H510.13zM140.40 257.0h8.12v2.2H140.40zM179.73 257.0h8.12v2.2H179.73zM211.20 257.0h8.12v2.2H211.20zM305.60 257.0h8.12v2.2H305.60zM344.93 257.0h8.12v2.2H344.93zM384.27 257.0h8.12v2.2H384.27zM447.20 257.0h8.12v2.2H447.20zM462.93 257.0h8.12v2.2H462.93zM486.53 257.0h8.12v2.2H486.53zM203.33 259.0h8.12v2.2H203.33zM266.27 259.0h8.12v2.2H266.27zM297.73 259.0h8.12v2.2H297.73zM344.93 259.0h8.12v2.2H344.93zM352.80 259.0h8.12v2.2H352.80zM400.00 259.0h8.12v2.2H400.00zM431.47 259.0h8.12v2.2H431.47zM447.20 259.0h8.12v2.2H447.20zM486.53 259.0h8.12v2.2H486.53z"/>
<path fill="rgb(39, 40, 0)" d="M226.93 71.0h8.12v2.2H226.93zM297.73 71.0h8.12v2.2H297.73zM148.27 73.0h8.12v2.2H148.27zM258.40 73.0h8.12v2.2H258.40zM108.93 75.0h8.12v2.2H108.93zM148.27 75.0h8.12v2.2H148.27zM211.20 75.0h8.12v2.2H211.20zM203.33 77.0h8.12v2.2H203.33zM226.93 77.0h8.12v2.2H226.93zM164.00 79.0h8.12v2.2H164.00zM258.40 79.0h8.12v2.2H258.40zM266.27 79.0h8.12v2.2H266.27zM203.33 81.0h8.12v2.2H203.33zM219.07 81.0h8.12v2.2H219.07zM203.33 83.0h8.12v2.2H203.33zM226.93 83.0h8.12v2.2H226.93zM266.27 83.0h8.12v2.2H266.27zM187.60 85.0h8.12v2.2H187.60zM226.93 85.0h8.12v2.2H226.93zM211.20 87.0h8.12v2.2H211.20zM226.93 87.0h8.12v2.2H226.93zM344.93 87.0h8.12v2.2H344.93zM179.73 89.0h8.12v2.2H179.73zM211.20 89.0h8.12v2.2H211.20zM219.07 89.0h8.12v2.2H219.07zM226.93 89.0h8.12v2.2H226.93zM179.73 91.0h8.12v2.2H179.73zM203.33 91.0h8.12v2.2H203.33zM266.27 91.0h8.12v2.2H266.27zM179.73 93.0h8.12v2.2H179.73zM187.60 93.0h8.12v2.2H187.60zM226.93 93.0h8.12v2.2H226.93zM266.27 93.0h8.12v2.2H266.27zM179.73 95.0h8.12v2.2H179.73zM195.47 95.0h8.12v2.2H195.47zM258.40 95.0h8.12v2.2H258.40zM242.67 97.0h8.12v2.2H242.67zM187.60 99.0h8.12v2.2H187.60zM203.33 99.0h8.12v2.2H203.33zM250.53 99.0h8.12v2.2H250.53zM148.27 101.0h8.12v2.2H148.27zM187.60 101.0h8.12v2.2H187.60zM203.33 101.0h8.12v2.2H203.33zM219.07 101.0h8.12v2.2H219.07zM242.67 101.0h8.12v2.2H242.67zM234.80 103.0h8.12v2.2H234.80zM242.67 103.0h8.12v2.2H242.67zM455.07 105.0h8.12v2.2H455.07zM203.33 107.0h8.12v2.2H203.33zM258.40 107.0h8.12v2.2H258.40zM203.33 109.0h8.12v2.2H203.33zM242.67 109.0h8.12v2.2H242.67zM344.93 109.0h8.12v2.2H344.93zM219.07 111.0h8.12v2.2H219.07zM258.40 111.0h8.12v2.2H258.40zM266.27 111.0h8.12v2.2H266.27zM289.87 111.0h8.12v2.2H289.87zM108.93 113.0h8.12v2.2H108.93zM195.47 113.0h8.12v2.2H195.47zM179.73 115.0h8.12v2.2H179.73zM211.20 115.0h8.12v2.2H211.20zM226.93 115.0h8.12v2.2H226.93zM140.40 117.0h8.12v2.2H140.40zM226.93 117.0h8.12v2.2H226.93zM431.47 117.0h8.12v2.2H431.47zM124.67 119.0h8.12v2.2H124.67zM274.13 119.0h8.12v2.2H274.13zM289.87 119.0h8.12v2.2H289.87zM297.73 119.0h8.12v2.2H297.73zM321.33 119.0h8.12v2.2H321.33zM164.00 121.0h8.12v2.2H164.00zM179.73 121.0h8.12v2.2H179.73zM69.60 123.0h8.12v2.2H69.60zM93.20 123.0h8.12v2.2H93.20zM108.93 123.0h8.12v2.2H108.93zM140.40 123.0h8.12v2.2H140.40zM164.00 123.0h8.12v2.2H164.00zM226.93 123.0h8.12v2.2H226.93zM234.80 123.0h8.12v2.2H234.80zM242.67 123.0h8.12v2.2H242.67zM352.80 123.0h8.12v2.2H352.80zM368.53 123.0h8.12v2.2H368.53zM384.27 123.0h8.12v2.2H384.27zM431.47 123.0h8.12v2.2H431.47zM455.07 123.0h8.12v2.2H455.07zM486.53 123.0h8.12v2.2H486.53zM494.40 123.0h8.12v2.2H494.40zM61.73 125.0h8.12v2.2H61.73zM132.53 125.0h8.12v2.2H132.53zM195.47 125.0h8.12v2.2H195.47zM258.40 125.0h8.12v2.2H258.40zM266.27 125.0h8.12v2.2H266.27zM289.87 125.0h8.12v2.2H289.87zM305.60 125.0h8.12v2.2H305.60zM344.93 125.0h8.12v2.2H344.93zM360.67 125.0h8.12v2.2H360.67zM423.60 125.0h8.12v2.2H423.60zM447.20 125.0h8.12v2.2H447.20zM478.67 125.0h8.12v2.2H478.67zM53.87 127.0h8.12v2.2H53.87zM61.73 127.0h8.12v2.2H61.73zM69.60 127.0h8.12v2.2H69.60zM77.47 127.0h8.12v2.2H77.47zM132.53 127.0h8.12v2.2H132.53zM352.80 127.0h8.12v2.2H352.80zM400.00 127.0h8.12v2.2H400.00zM423.60 127.0h8.12v2.2H423.60zM447.20 127.0h8.12v2.2H447.20zM462.93 127.0h8.12v2.2H462.93zM486.53 127.0h8.12v2.2H486.53zM53.87 129.0h8.12v2.2H53.87zM93.20 129.0h8.12v2.2H93.20zM108.93 129.0h8.12v2.2H108.93zM140.40 129.0h8.12v2.2H140.40zM171.87 129.0h8.12v2.2H171.87zM219.07 129.0h8.12v2.2H219.07zM250.53 129.0h8.12v2.2H250.53zM258.40 129.0h8.12v2.2H258.40zM305.60 129.0h8.12v2.2H305.60zM337.07 129.0h8.12v2.2H337.07zM344.93 129.0h8.12v2.2H344.93zM376.40 129.0h8.12v2.2H376.40zM384.27 129.0h8.12v2.2H384.27zM400.00 129.0h8.12v2.2H400.00zM510.13 129.0h8.12v2.2H510.13zM203.33 131.0h8.12v2.2H203.33zM329.20 131.0h8.12v2.2H329.20zM407.87 131.0h8.12v2.2H407.87zM423.60 131.0h8.12v2.2H423.60zM431.47 131.0h8.12v2.2H431.47zM470.80 131.0h8.12v2.2H470.80zM108.93 133.0h8.12v2.2H108.93zM140.40 133.0h8.12v2.2H140.40zM250.53 133.0h8.12v2.2H250.53zM329.20 133.0h8.12v2.2H329.20zM384.27 133.0h8.12v2.2H384.27zM407.87 133.0h8.12v2.2H407.87zM439.33 133.0h8.12v2.2H439.33zM486.53 133.0h8.12v2.2H486.53zM179.73 135.0h8.12v2.2H179.73zM250.53 135.0h8.12v2.2H250.53zM352.80 135.0h8.12v2.2H352.80zM360.67 135.0h8.12v2.2H360.67zM439.33 135.0h8.12v2.2H439.33zM455.07 135.0h8.12v2.2H455.07zM462.93 135.0h8.12v2.2H462.93zM494.40 135.0h8.12v2.2H494.40zM101.07 137.0h8.12v2.2H101.07zM266.27 137.0h8.12v2.2H266.27zM329.20 137.0h8.12v2.2H329.20zM344.93 137.0h8.12v2.2H344.93zM368.53 137.0h8.12v2.2H368.53zM384.27 137.0h8.12v2.2H384.27zM415.73 137.0h8.12v2.2H415.73zM423.60 137.0h8.12v2.2H423.60zM431.47 137.0h8.12v2.2H431.47zM439.33 137.0h8.12v2.2H439.33zM470.80 137.0h8.12v2.2H470.80zM486.53 137.0h8.12v2.2H486.53zM101.07 139.0h8.12v2.2H101.07zM219.07 139.0h8.12v2.2H219.07zM242.67 139.0h8.12v2.2H242.67zM250.53 139.0h8.12v2.2H250.53zM297.73 139.0h8.12v2.2H297.73zM305.60 139.0h8.12v2.2H305.60zM321.33 139.0h8.12v2.2H321.33zM400.00 139.0h8.12v2.2H400.00zM478.67 139.0h8.12v2.2H478.67zM494.40 139.0h8.12v2.2H494.40zM164.00 141.0h8.12v2.2H164.00zM179.73 141.0h8.12v2.2H179.73zM195.47 141.0h8.12v2.2H195.47zM392.13 141.0h8.12v2.2H392.13zM415.73 141.0h8.12v2.2H415.73zM439.33 141.0h8.12v2.2H439.33zM455.07 141.0h8.12v2.2H455.07zM478.67 141.0h8.12v2.2H478.67zM502.27 141.0h8.12v2.2H502.27zM164.00 143.0h8.12v2.2H164.00zM234.80 143.0h8.12v2.2H234.80zM250.53 143.0h8.12v2.2H250.53zM352.80 143.0h8.12v2.2H352.80zM470.80 143.0h8.12v2.2H470.80zM494.40 143.0h8.12v2.2H494.40zM502.27 143.0h8.12v2.2H502.27zM187.60 145.0h8.12v2.2H187.60zM250.53 145.0h8.12v2.2H250.53zM360.67 145.0h8.12v2.2H360.67zM392.13 145.0h8.12v2.2H392.13zM462.93 145.0h8.12v2.2H462.93zM478.67 145.0h8.12v2.2H478.67zM510.13 145.0h8.12v2.2H510.13zM69.60 147.0h8.12v2.2H69.60zM101.07 147.0h8.12v2.2H101.07zM140.40 147.0h8.12v2.2H140.40zM171.87 147.0h8.12v2.2H171.87zM179.73 147.0h8.12v2.2H179.73zM195.47 147.0h8.12v2.2H195.47zM226.93 147.0h8.12v2.2H226.93zM344.93 147.0h8.12v2.2H344.93zM360.67 147.0h8.12v2.2H360.67zM462.93 147.0h8.12v2.2H462.93zM61.73 149.0h8.12v2.2H61.73zM77.47 149.0h8.12v2.2H77.47zM140.40 149.0h8.12v2.2H140.40zM164.00 149.0h8.12v2.2H164.00zM187.60 149.0h8.12v2.2H187.60zM195.47 149.0h8.12v2.2H195.47zM234.80 149.0h8.12v2.2H234.80zM282.00 149.0h8.12v2.2H282.00zM415.73 149.0h8.12v2.2H415.73zM431.47 149.0h8.12v2.2H431.47zM462.93 149.0h8.12v2.2H462.93zM486.53 149.0h8.12v2.2H486.53zM510.13 149.0h8.12v2.2H510.13zM61.73 151.0h8.12v2.2H61.73zM77.47 151.0h8.12v2.2H77.47zM164.00 151.0h8.12v2.2H164.00zM171.87 151.0h8.12v2.2H171.87zM187.60 151.0h8.12v2.2H187.60zM219.07 151.0h8.12v2.2H219.07zM305.60 151.0h8.12v2.2H305.60zM376.40 151.0h8.12v2.2H376.40zM400.00 151.0h8.12v2.2H400.00zM415.73 151.0h8.12v2.2H415.73zM431.47 151.0h8.12v2.2H431.47zM439.33 151.0h8.12v2.2H439.33zM93.20 153.0h8.12v2.2H93.20zM164.00 153.0h8.12v2.2H164.00zM171.87 153.0h8.12v2.2H171.87zM219.07 153.0h8.12v2.2H219.07zM242.67 153.0h8.12v2.2H242.67zM258.40 153.0h8.12v2.2H258.40zM266.27 153.0h8.12v2.2H266.27zM274.13 153.0h8.12v2.2H274.13zM297.73 153.0h8.12v2.2H297.73zM376.40 153.0h8.12v2.2H376.40zM447.20 153.0h8.12v2.2H447.20zM455.07 153.0h8.12v2.2H455.07zM470.80 153.0h8.12v2.2H470.80zM108.93 155.0h8.12v2.2H108.93zM116.80 155.0h8.12v2.2H116.80zM203.33 155.0h8.12v2.2H203.33zM376.40 155.0h8.12v2.2H376.40zM384.27 155.0h8.12v2.2H384.27zM400.00 155.0h8.12v2.2H400.00zM447.20 155.0h8.12v2.2H447.20zM462.93 155.0h8.12v2.2H462.93zM478.67 155.0h8.12v2.2H478.67zM502.27 155.0h8.12v2.2H502.27zM132.53 157.0h8.12v2.2H132.53zM171.87 157.0h8.12v2.2H171.87zM195.47 157.0h8.12v2.2H195.47zM203.33 157.0h8.12v2.2H203.33zM211.20 157.0h8.12v2.2H211.20zM305.60 157.0h8.12v2.2H305.60zM313.47 157.0h8.12v2.2H313.47zM329.20 157.0h8.12v2.2H329.20zM384.27 157.0h8.12v2.2H384.27zM392.13 157.0h8.12v2.2H392.13zM455.07 157.0h8.12v2.2H455.07zM470.80 157.0h8.12v2.2H470.80zM510.13 157.0h8.12v2.2H510.13zM61.73 159.0h8.12v2.2H61.73zM148.27 159.0h8.12v2.2H148.27zM226.93 159.0h8.12v2.2H226.93zM234.80 159.0h8.12v2.2H234.80zM266.27 159.0h8.12v2.2H266.27zM297.73 159.0h8.12v2.2H297.73zM321.33 159.0h8.12v2.2H321.33zM384.27 159.0h8.12v2.2H384.27zM439.33 159.0h8.12v2.2H439.33zM455.07 159.0h8.12v2.2H455.07zM156.13 161.0h8.12v2.2H156.13zM250.53 161.0h8.12v2.2H250.53zM282.00 161.0h8.12v2.2H282.00zM368.53 161.0h8.12v2.2H368.53zM423.60 161.0h8.12v2.2H423.60zM431.47 161.0h8.12v2.2H431.47zM455.07 161.0h8.12v2.2H455.07zM510.13 161.0h8.12v2.2H510.13zM195.47 163.0h8.12v2.2H195.47zM219.07 163.0h8.12v2.2H219.07zM266.27 163.0h8.12v2.2H266.27zM297.73 163.0h8.12v2.2H297.73zM321.33 163.0h8.12v2.2H321.33zM344.93 163.0h8.12v2.2H344.93zM455.07 163.0h8.12v2.2H455.07zM93.20 165.0h8.12v2.2H93.20zM305.60 165.0h8.12v2.2H305.60zM313.47 165.0h8.12v2.2H313.47zM360.67 165.0h8.12v2.2H360.67zM392.13 165.0h8.12v2.2H392.13zM407.87 165.0h8.12v2.2H407.87zM439.33 165.0h8.12v2.2H439.33zM447.20 165.0h8.12v2.2H447.20zM486.53 165.0h8.12v2.2H486.53zM164.00 167.0h8.12v2.2H164.00zM219.07 167.0h8.12v2.2H219.07zM274.13 167.0h8.12v2.2H274.13zM329.20 167.0h8.12v2.2H329.20zM352.80 167.0h8.12v2.2H352.80zM360.67 167.0h8.12v2.2H360.67zM376.40 167.0h8.12v2.2H376.40zM423.60 167.0h8.12v2.2H423.60zM462.93 167.0h8.12v2.2H462.93zM494.40 167.0h8.12v2.2H494.40zM502.27 167.0h8.12v2.2H502.27zM164.00 169.0h8.12v2.2H164.00zM179.73 169.0h8.12v2.2H179.73zM368.53 169.0h8.12v2.2H368.53zM470.80 169.0h8.12v2.2H470.80zM187.60 171.0h8.12v2.2H187.60zM219.07 171.0h8.12v2.2H219.07zM226.93 171.0h8.12v2.2H226.93zM289.87 171.0h8.12v2.2H289.87zM313.47 171.0h8.12v2.2H313.47zM329.20 171.0h8.12v2.2H329.20zM376.40 171.0h8.12v2.2H376.40zM384.27 171.0h8.12v2.2H384.27zM431.47 171.0h8.12v2.2H431.47zM447.20 171.0h8.12v2.2H447.20zM266.27 173.0h8.12v2.2H266.27zM329.20 173.0h8.12v2.2H329.20zM376.40 173.0h8.12v2.2H376.40zM407.87 173.0h8.12v2.2H407.87zM502.27 173.0h8.12v2.2H502.27zM510.13 173.0h8.12v2.2H510.13zM219.07 175.0h8.12v2.2H219.07zM226.93 175.0h8.12v2.2H226.93zM234.80 175.0h8.12v2.2H234.80zM274.13 175.0h8.12v2.2H274.13zM415.73 175.0h8.12v2.2H415.73zM423.60 175.0h8.12v2.2H423.60zM455.07 175.0h8.12v2.2H455.07zM164.00 177.0h8.12v2.2H164.00zM171.87 177.0h8.12v2.2H171.87zM344.93 177.0h8.12v2.2H344.93zM392.13 177.0h8.12v2.2H392.13zM439.33 177.0h8.12v2.2H439.33zM478.67 177.0h8.12v2.2H478.67zM510.13 177.0h8.12v2.2H510.13zM140.40 179.0h8.12v2.2H140.40zM164.00 179.0h8.12v2.2H164.00zM234.80 179.0h8.12v2.2H234.80zM266.27 179.0h8.12v2.2H266.27zM321.33 179.0h8.12v2.2H321.33zM368.53 179.0h8.12v2.2H368.53zM415.73 179.0h8.12v2.2H415.73zM431.47 179.0h8.12v2.2H431.47zM439.33 179.0h8.12v2.2H439.33zM470.80 179.0h8.12v2.2H470.80zM502.27 179.0h8.12v2.2H502.27zM156.13 181.0h8.12v2.2H156.13zM171.87 181.0h8.12v2.2H171.87zM329.20 181.0h8.12v2.2H329.20zM423.60 181.0h8.12v2.2H423.60zM447.20 181.0h8.12v2.2H447.20zM462.93 181.0h8.12v2.2H462.93zM478.67 181.0h8.12v2.2H478.67zM486.53 181.0h8.12v2.2H486.53zM211.20 183.0h8.12v2.2H211.20zM266.27 183.0h8.12v2.2H266.27zM282.00 183.0h8.12v2.2H282.00zM337.07 183.0h8.12v2.2H337.07zM344.93 183.0h8.12v2.2H344.93zM352.80 183.0h8.12v2.2H352.80zM423.60 183.0h8.12v2.2H423.60zM455.07 183.0h8.12v2.2H455.07zM478.67 183.0h8.12v2.2H478.67zM313.47 185.0h8.12v2.2H313.47zM360.67 185.0h8.12v2.2H360.67zM400.00 185.0h8.12v2.2H400.00zM407.87 185.0h8.12v2.2H407.87zM431.47 185.0h8.12v2.2H431.47zM494.40 185.0h8.12v2.2H494.40zM179.73 187.0h8.12v2.2H179.73zM187.60 187.0h8.12v2.2H187.60zM368.53 187.0h8.12v2.2H368.53zM376.40 187.0h8.12v2.2H376.40zM392.13 187.0h8.12v2.2H392.13zM415.73 187.0h8.12v2.2H415.73zM455.07 187.0h8.12v2.2H455.07zM478.67 187.0h8.12v2.2H478.67zM486.53 187.0h8.12v2.2H486.53zM156.13 189.0h8.12v2.2H156.13zM211.20 189.0h8.12v2.2H211.20zM313.47 189.0h8.12v2.2H313.47zM352.80 189.0h8.12v2.2H352.80zM376.40 189.0h8.12v2.2H376.40zM400.00 189.0h8.12v2.2H400.00zM431.47 189.0h8.12v2.2H431.47zM494.40 189.0h8.12v2.2H494.40zM282.00 191.0h8.12v2.2H282.00zM289.87 191.0h8.12v2.2H289.87zM455.07 191.0h8.12v2.2H455.07zM470.80 191.0h8.12v2.2H470.80zM486.53 191.0h8.12v2.2H486.53zM494.40 191.0h8.12v2.2H494.40zM69.60 193.0h8.12v2.2H69.60zM203.33 193.0h8.12v2.2H203.33zM211.20 193.0h8.12v2.2H211.20zM392.13 193.0h8.12v2.2H392.13zM431.47 193.0h8.12v2.2H431.47zM478.67 193.0h8.12v2.2H478.67zM226.93 195.0h8.12v2.2H226.93zM234.80 195.0h8.12v2.2H234.80zM305.60 195.0h8.12v2.2H305.60zM329.20 195.0h8.12v2.2H329.20zM415.73 195.0h8.12v2.2H415.73zM431.47 195.0h8.12v2.2H431.47zM455.07 195.0h8.12v2.2H455.07zM164.00 197.0h8.12v2.2H164.00zM203.33 197.0h8.12v2.2H203.33zM258.40 197.0h8.12v2.2H258.40zM289.87 197.0h8.12v2.2H289.87zM337.07 197.0h8.12v2.2H337.07zM368.53 197.0h8.12v2.2H368.53zM423.60 197.0h8.12v2.2H423.60zM462.93 197.0h8.12v2.2H462.93zM258.40 199.0h8.12v2.2H258.40zM274.13 199.0h8.12v2.2H274.13zM289.87 199.0h8.12v2.2H289.87zM321.33 199.0h8.12v2.2H321.33zM360.67 199.0h8.12v2.2H360.67zM407.87 199.0h8.12v2.2H407.87zM415.73 199.0h8.12v2.2H415.73zM431.47 199.0h8.12v2.2H431.47zM478.67 199.0h8.12v2.2H478.67zM494.40 199.0h8.12v2.2H494.40zM195.47 201.0h8.12v2.2H195.47zM250.53 201.0h8.12v2.2H250.53zM289.87 201.0h8.12v2.2H289.87zM360.67 201.0h8.12v2.2H360.67zM376.40 201.0h8.12v2.2H376.40zM392.13 201.0h8.12v2.2H392.13zM266.27 203.0h8.12v2.2H266.27zM321.33 203.0h8.12v2.2H321.33zM337.07 203.0h8.12v2.2H337.07zM486.53 203.0h8.12v2.2H486.53zM502.27 203.0h8.12v2.2H502.27zM156.13 205.0h8.12v2.2H156.13zM171.87 205.0h8.12v2.2H171.87zM274.13 205.0h8.12v2.2H274.13zM289.87 205.0h8.12v2.2H289.87zM187.60 207.0h8.12v2.2H187.60zM305.60 207.0h8.12v2.2H305.60zM368.53 207.0h8.12v2.2H368.53zM400.00 207.0h8.12v2.2H400.00zM407.87 207.0h8.12v2.2H407.87zM415.73 207.0h8.12v2.2H415.73zM431.47 207.0h8.12v2.2H431.47zM494.40 207.0h8.12v2.2H494.40zM164.00 209.0h8.12v2.2H164.00zM203.33 209.0h8.12v2.2H203.33zM368.53 209.0h8.12v2.2H368.53zM400.00 209.0h8.12v2.2H400.00zM423.60 209.0h8.12v2.2H423.60zM447.20 209.0h8.12v2.2H447.20zM510.13 209.0h8.12v2.2H510.13zM69.60 211.0h8.12v2.2H69.60zM187.60 211.0h8.12v2.2H187.60zM211.20 211.0h8.12v2.2H211.20zM242.67 211.0h8.12v2.2H242.67zM321.33 211.0h8.12v2.2H321.33zM407.87 211.0h8.12v2.2H407.87zM179.73 213.0h8.12v2.2H179.73zM211.20 213.0h8.12v2.2H211.20zM274.13 213.0h8.12v2.2H274.13zM289.87 213.0h8.12v2.2H289.87zM305.60 213.0h8.12v2.2H305.60zM313.47 213.0h8.12v2.2H313.47zM321.33 213.0h8.12v2.2H321.33zM360.67 213.0h8.12v2.2H360.67zM384.27 213.0h8.12v2.2H384.27zM415.73 213.0h8.12v2.2H415.73zM447.20 213.0h8.12v2.2H447.20zM502.27 213.0h8.12v2.2H502.27zM337.07 215.0h8.12v2.2H337.07zM368.53 215.0h8.12v2.2H368.53zM376.40 215.0h8.12v2.2H376.40zM439.33 215.0h8.12v2.2H439.33zM171.87 217.0h8.12v2.2H171.87zM179.73 217.0h8.12v2.2H179.73zM211.20 217.0h8.12v2.2H211.20zM219.07 217.0h8.12v2.2H219.07zM242.67 217.0h8.12v2.2H242.67zM337.07 217.0h8.12v2.2H337.07zM368.53 217.0h8.12v2.2H368.53zM384.27 217.0h8.12v2.2H384.27zM439.33 217.0h8.12v2.2H439.33zM164.00 219.0h8.12v2.2H164.00zM226.93 219.0h8.12v2.2H226.93zM329.20 219.0h8.12v2.2H329.20zM376.40 219.0h8.12v2.2H376.40zM415.73 219.0h8.12v2.2H415.73zM431.47 219.0h8.12v2.2H431.47zM455.07 219.0h8.12v2.2H455.07zM494.40 219.0h8.12v2.2H494.40zM179.73 221.0h8.12v2.2H179.73zM274.13 221.0h8.12v2.2H274.13zM337.07 221.0h8.12v2.2H337.07zM360.67 221.0h8.12v2.2H360.67zM407.87 221.0h8.12v2.2H407.87zM415.73 221.0h8.12v2.2H415.73zM431.47 221.0h8.12v2.2H431.47zM478.67 221.0h8.12v2.2H478.67zM510.13 221.0h8.12v2.2H510.13zM219.07 223.0h8.12v2.2H219.07zM234.80 223.0h8.12v2.2H234.80zM258.40 223.0h8.12v2.2H258.40zM415.73 223.0h8.12v2.2H415.73zM455.07 223.0h8.12v2.2H455.07zM486.53 223.0h8.12v2.2H486.53zM502.27 223.0h8.12v2.2H502.27zM179.73 225.0h8.12v2.2H179.73zM242.67 225.0h8.12v2.2H242.67zM266.27 225.0h8.12v2.2H266.27zM384.27 225.0h8.12v2.2H384.27zM400.00 225.0h8.12v2.2H400.00zM439.33 225.0h8.12v2.2H439.33zM171.87 227.0h8.12v2.2H171.87zM384.27 227.0h8.12v2.2H384.27zM407.87 227.0h8.12v2.2H407.87zM462.93 227.0h8.12v2.2H462.93zM164.00 229.0h8.12v2.2H164.00zM226.93 229.0h8.12v2.2H226.93zM376.40 229.0h8.12v2.2H376.40zM407.87 229.0h8.12v2.2H407.87zM415.73 229.0h8.12v2.2H415.73zM502.27 229.0h8.12v2.2H502.27zM164.00 231.0h8.12v2.2H164.00zM297.73 231.0h8.12v2.2H297.73zM352.80 231.0h8.12v2.2H352.80zM368.53 231.0h8.12v2.2H368.53zM447.20 231.0h8.12v2.2H447.20zM486.53 231.0h8.12v2.2H486.53zM494.40 231.0h8.12v2.2H494.40zM297.73 233.0h8.12v2.2H297.73zM368.53 233.0h8.12v2.2H368.53zM439.33 233.0h8.12v2.2H439.33zM494.40 233.0h8.12v2.2H494.40zM502.27 233.0h8.12v2.2H502.27zM171.87 235.0h8.12v2.2H171.87zM282.00 235.0h8.12v2.2H282.00zM321.33 235.0h8.12v2.2H321.33zM337.07 235.0h8.12v2.2H337.07zM407.87 235.0h8.12v2.2H407.87zM179.73 237.0h8.12v2.2H179.73zM242.67 237.0h8.12v2.2H242.67zM344.93 237.0h8.12v2.2H344.93zM376.40 237.0h8.12v2.2H376.40zM392.13 237.0h8.12v2.2H392.13zM423.60 237.0h8.12v2.2H423.60zM431.47 237.0h8.12v2.2H431.47zM447.20 237.0h8.12v2.2H447.20zM455.07 237.0h8.12v2.2H455.07zM494.40 237.0h8.12v2.2H494.40zM250.53 239.0h8.12v2.2H250.53zM266.27 239.0h8.12v2.2H266.27zM376.40 239.0h8.12v2.2H376.40zM384.27 239.0h8.12v2.2H384.27zM400.00 239.0h8.12v2.2H400.00zM282.00 241.0h8.12v2.2H282.00zM297.73 241.0h8.12v2.2H297.73zM313.47 241.0h8.12v2.2H313.47zM352.80 241.0h8.12v2.2H352.80zM384.27 241.0h8.12v2.2H384.27zM392.13 241.0h8.12v2.2H392.13zM407.87 241.0h8.12v2.2H407.87zM462.93 241.0h8.12v2.2H462.93zM486.53 241.0h8.12v2.2H486.53zM510.13 241.0h8.12v2.2H510.13zM203.33 243.0h8.12v2.2H203.33zM242.67 243.0h8.12v2.2H242.67zM250.53 243.0h8.12v2.2H250.53zM400.00 243.0h8.12v2.2H400.00zM439.33 243.0h8.12v2.2H439.33zM462.93 243.0h8.12v2.2H462.93zM486.53 243.0h8.12v2.2H486.53zM494.40 243.0h8.12v2.2H494.40zM502.27 243.0h8.12v2.2H502.27zM171.87 245.0h8.12v2.2H171.87zM187.60 245.0h8.12v2.2H187.60zM203.33 245.0h8.12v2.2H203.33zM234.80 245.0h8.12v2.2H234.80zM337.07 245.0h8.12v2.2H337.07zM384.27 245.0h8.12v2.2H384.27zM478.67 245.0h8.12v2.2H478.67zM124.67 247.0h8.12v2.2H124.67zM274.13 247.0h8.12v2.2H274.13zM494.40 247.0h8.12v2.2H494.40zM101.07 249.0h8.12v2.2H101.07zM171.87 249.0h8.12v2.2H171.87zM384.27 249.0h8.12v2.2H384.27zM447.20 249.0h8.12v2.2H447.20zM486.53 249.0h8.12v2.2H486.53zM171.87 251.0h8.12v2.2H171.87zM219.07 251.0h8.12v2.2H219.07zM274.13 251.0h8.12v2.2H274.13zM297.73 251.0h8.12v2.2H297.73zM313.47 251.0h8.12v2.2H313.47zM321.33 251.0h8.12v2.2H321.33zM352.80 251.0h8.12v2.2H352.80zM376.40 251.0h8.12v2.2H376.40zM423.60 251.0h8.12v2.2H423.60zM431.47 251.0h8.12v2.2H431.47zM478.67 251.0h8.12v2.2H478.67zM494.40 251.0h8.12v2.2H494.40zM179.73 253.0h8.12v2.2H179.73zM211.20 253.0h8.12v2.2H211.20zM400.00 253.0h8.12v2.2H400.00zM478.67 253.0h8.12v2.2H478.67zM510.13 253.0h8.12v2.2H510.13zM140.40 255.0h8.12v2.2H140.40zM164.00 255.0h8.12v2.2H164.00zM211.20 255.0h8.12v2.2H211.20zM289.87 255.0h8.12v2.2H289.87zM344.93 255.0h8.12v2.2H344.93zM376.40 255.0h8.12v2.2H376.40zM423.60 255.0h8.12v2.2H423.60zM470.80 255.0h8.12v2.2H470.80zM486.53 255.0h8.12v2.2H486.53zM156.13 257.0h8.12v2.2H156.13zM164.00 257.0h8.12v2.2H164.00zM195.47 257.0h8.12v2.2H195.47zM258.40 257.0h8.12v2.2H258.40zM329.20 257.0h8.12v2.2H329.20zM376.40 257.0h8.12v2.2H376.40zM400.00 257.0h8.12v2.2H400.00zM415.73 257.0h8.12v2.2H415.73zM455.07 257.0h8.12v2.2H455.07zM510.13 257.0h8.12v2.2H510.13zM164.00 259.0h8.12v2.2H164.00zM289.87 259.0h8.12v2.2H289.87zM337.07 259.0h8.12v2.2H337.07zM392.13 259.0h8.12v2.2H392.13zM439.33 259.0h8.12v2.2H439.33z"/>
<path fill="rgb(79, 80, 0)" d="M148.27 71.0h8.12v2.2H148.27zM171.87 71.0h8.12v2.2H171.87zM187.60 71.0h8.12v2.2H187.60zM274.13 71.0h8.12v2.2H274.13zM108.93 73.0h8.12v2.2H108.93zM187.60 73.0h8.12v2.2H187.60zM124.67 75.0h8.12v2.2H124.67zM164.00 75.0h8.12v2.2H164.00zM187.60 77.0h8.12v2.2H187.60zM211.20 77.0h8.12v2.2H211.20zM250.53 77.0h8.12v2.2H250.53zM258.40 77.0h8.12v2.2H258.40zM226.93 81.0h8.12v2.2H226.93zM266.27 81.0h8.12v2.2H266.27zM164.00 83.0h8.12v2.2H164.00zM187.60 83.0h8.12v2.2H187.60zM258.40 83.0h8.12v2.2H258.40zM203.33 85.0h8.12v2.2H203.33zM242.67 85.0h8.12v2.2H242.67zM258.40 85.0h8.12v2.2H258.40zM187.60 87.0h8.12v2.2H187.60zM148.27 89.0h8.12v2.2H148.27zM195.47 89.0h8.12v2.2H195.47zM116.80 91.0h8.12v2.2H116.80zM148.27 91.0h8.12v2.2H148.27zM164.00 91.0h8.12v2.2H164.00zM171.87 91.0h8.12v2.2H171.87zM187.60 91.0h8.12v2.2H187.60zM226.93 91.0h8.12v2.2H226.93zM116.80 93.0h8.12v2.2H116.80zM164.00 93.0h8.12v2.2H164.00zM195.47 93.0h8.12v2.2H195.47zM203.33 93.0h8.12v2.2H203.33zM258.40 93.0h8.12v2.2H258.40zM148.27 95.0h8.12v2.2H148.27zM187.60 95.0h8.12v2.2H187.60zM203.33 95.0h8.12v2.2H203.33zM219.07 95.0h8.12v2.2H219.07zM116.80 97.0h8.12v2.2H116.80zM148.27 97.0h8.12v2.2H148.27zM164.00 97.0h8.12v2.2H164.00zM171.87 97.0h8.12v2.2H171.87zM187.60 97.0h8.12v2.2H187.60zM258.40 97.0h8.12v2.2H258.40zM148.27 99.0h8.12v2.2H148.27zM164.00 99.0h8.12v2.2H164.00zM179.73 99.0h8.12v2.2H179.73zM195.47 99.0h8.12v2.2H195.47zM211.20 99.0h8.12v2.2H211.20zM171.87 101.0h8.12v2.2H171.87zM195.47 101.0h8.12v2.2H195.47zM226.93 101.0h8.12v2.2H226.93zM187.60 103.0h8.12v2.2H187.60zM258.40 103.0h8.12v2.2H258.40zM179.73 105.0h8.12v2.2H179.73zM187.60 105.0h8.12v2.2H187.60zM226.93 105.0h8.12v2.2H226.93zM140.40 107.0h8.12v2.2H140.40zM148.27 107.0h8.12v2.2H148.27zM164.00 107.0h8.12v2.2H164.00zM179.73 107.0h8.12v2.2H179.73zM226.93 107.0h8.12v2.2H226.93zM234.80 107.0h8.12v2.2H234.80zM274.13 107.0h8.12v2.2H274.13zM140.40 109.0h8.12v2.2H140.40zM148.27 109.0h8.12v2.2H148.27zM179.73 109.0h8.12v2.2H179.73zM195.47 109.0h8.12v2.2H195.47zM148.27 111.0h8.12v2.2H148.27zM179.73 111.0h8.12v2.2H179.73zM203.33 111.0h8.12v2.2H203.33zM242.67 111.0h8.12v2.2H242.67zM46.00 113.0h8.12v2.2H46.00zM132.53 113.0h8.12v2.2H132.53zM140.40 113.0h8.12v2.2H140.40zM171.87 113.0h8.12v2.2H171.87zM124.67 115.0h8.12v2.2H124.67zM140.40 115.0h8.12v2.2H140.40zM171.87 115.0h8.12v2.2H171.87zM195.47 115.0h8.12v2.2H195.47zM219.07 115.0h8.12v2.2H219.07zM108.93 117.0h8.12v2.2H108.93zM124.67 117.0h8.12v2.2H124.67zM164.00 117.0h8.12v2.2H164.00zM203.33 117.0h8.12v2.2H203.33zM211.20 117.0h8.12v2.2H211.20zM219.07 117.0h8.12v2.2H219.07zM77.47 119.0h8.12v2.2H77.47zM156.13 119.0h8.12v2.2H156.13zM164.00 119.0h8.12v2.2H164.00zM258.40 119.0h8.12v2.2H258.40zM156.13 121.0h8.12v2.2H156.13zM132.53 123.0h8.12v2.2H132.53zM274.13 123.0h8.12v2.2H274.13zM376.40 123.0h8.12v2.2H376.40zM478.67 123.0h8.12v2.2H478.67zM502.27 123.0h8.12v2.2H502.27zM337.07 125.0h8.12v2.2H337.07zM392.13 125.0h8.12v2.2H392.13zM415.73 125.0h8.12v2.2H415.73zM486.53 125.0h8.12v2.2H486.53zM93.20 127.0h8.12v2.2H93.20zM140.40 127.0h8.12v2.2H140.40zM289.87 127.0h8.12v2.2H289.87zM313.47 127.0h8.12v2.2H313.47zM329.20 127.0h8.12v2.2H329.20zM392.13 127.0h8.12v2.2H392.13zM431.47 127.0h8.12v2.2H431.47zM455.07 127.0h8.12v2.2H455.07zM478.67 127.0h8.12v2.2H478.67zM502.27 127.0h8.12v2.2H502.27zM226.93 129.0h8.12v2.2H226.93zM274.13 129.0h8.12v2.2H274.13zM297.73 129.0h8.12v2.2H297.73zM407.87 129.0h8.12v2.2H407.87zM140.40 131.0h8.12v2.2H140.40zM219.07 131.0h8.12v2.2H219.07zM297.73 131.0h8.12v2.2H297.73zM384.27 131.0h8.12v2.2H384.27zM392.13 131.0h8.12v2.2H392.13zM415.73 131.0h8.12v2.2H415.73zM148.27 133.0h8.12v2.2H148.27zM179.73 133.0h8.12v2.2H179.73zM195.47 133.0h8.12v2.2H195.47zM423.60 133.0h8.12v2.2H423.60zM478.67 133.0h8.12v2.2H478.67zM494.40 133.0h8.12v2.2H494.40zM219.07 135.0h8.12v2.2H219.07zM242.67 135.0h8.12v2.2H242.67zM313.47 135.0h8.12v2.2H313.47zM337.07 135.0h8.12v2.2H337.07zM368.53 135.0h8.12v2.2H368.53zM431.47 135.0h8.12v2.2H431.47zM164.00 137.0h8.12v2.2H164.00zM179.73 137.0h8.12v2.2H179.73zM187.60 137.0h8.12v2.2H187.60zM234.80 137.0h8.12v2.2H234.80zM250.53 137.0h8.12v2.2H250.53zM274.13 137.0h8.12v2.2H274.13zM455.07 137.0h8.12v2.2H455.07zM462.93 137.0h8.12v2.2H462.93zM494.40 137.0h8.12v2.2H494.40zM510.13 137.0h8.12v2.2H510.13zM226.93 139.0h8.12v2.2H226.93zM266.27 139.0h8.12v2.2H266.27zM313.47 139.0h8.12v2.2H313.47zM368.53 139.0h8.12v2.2H368.53zM439.33 139.0h8.12v2.2H439.33zM447.20 139.0h8.12v2.2H447.20zM455.07 139.0h8.12v2.2H455.07zM203.33 141.0h8.12v2.2H203.33zM226.93 141.0h8.12v2.2H226.93zM400.00 141.0h8.12v2.2H400.00zM203.33 143.0h8.12v2.2H203.33zM337.07 143.0h8.12v2.2H337.07zM376.40 143.0h8.12v2.2H376.40zM423.60 143.0h8.12v2.2H423.60zM447.20 143.0h8.12v2.2H447.20zM101.07 145.0h8.12v2.2H101.07zM195.47 145.0h8.12v2.2H195.47zM203.33 145.0h8.12v2.2H203.33zM274.13 145.0h8.12v2.2H274.13zM282.00 145.0h8.12v2.2H282.00zM297.73 145.0h8.12v2.2H297.73zM164.00 147.0h8.12v2.2H164.00zM234.80 147.0h8.12v2.2H234.80zM250.53 147.0h8.12v2.2H250.53zM313.47 147.0h8.12v2.2H313.47zM376.40 147.0h8.12v2.2H376.40zM431.47 147.0h8.12v2.2H431.47zM455.07 147.0h8.12v2.2H455.07zM494.40 147.0h8.12v2.2H494.40zM242.67 149.0h8.12v2.2H242.67zM274.13 149.0h8.12v2.2H274.13zM305.60 149.0h8.12v2.2H305.60zM313.47 149.0h8.12v2.2H313.47zM344.93 149.0h8.12v2.2H344.93zM384.27 149.0h8.12v2.2H384.27zM407.87 149.0h8.12v2.2H407.87zM423.60 149.0h8.12v2.2H423.60zM439.33 149.0h8.12v2.2H439.33zM384.27 151.0h8.12v2.2H384.27zM478.67 151.0h8.12v2.2H478.67zM510.13 151.0h8.12v2.2H510.13zM305.60 153.0h8.12v2.2H305.60zM352.80 153.0h8.12v2.2H352.80zM384.27 153.0h8.12v2.2H384.27zM407.87 153.0h8.12v2.2H407.87zM439.33 153.0h8.12v2.2H439.33zM502.27 153.0h8.12v2.2H502.27zM93.20 155.0h8.12v2.2H93.20zM179.73 155.0h8.12v2.2H179.73zM226.93 155.0h8.12v2.2H226.93zM282.00 155.0h8.12v2.2H282.00zM297.73 155.0h8.12v2.2H297.73zM313.47 155.0h8.12v2.2H313.47zM352.80 155.0h8.12v2.2H352.80zM360.67 155.0h8.12v2.2H360.67zM392.13 155.0h8.12v2.2H392.13zM415.73 155.0h8.12v2.2H415.73zM439.33 157.0h8.12v2.2H439.33zM447.20 157.0h8.12v2.2H447.20zM179.73 159.0h8.12v2.2H179.73zM195.47 159.0h8.12v2.2H195.47zM250.53 159.0h8.12v2.2H250.53zM352.80 159.0h8.12v2.2H352.80zM392.13 159.0h8.12v2.2H392.13zM415.73 159.0h8.12v2.2H415.73zM423.60 159.0h8.12v2.2H423.60zM470.80 159.0h8.12v2.2H470.80zM486.53 159.0h8.12v2.2H486.53zM494.40 159.0h8.12v2.2H494.40zM510.13 159.0h8.12v2.2H510.13zM219.07 161.0h8.12v2.2H219.07zM274.13 161.0h8.12v2.2H274.13zM289.87 161.0h8.12v2.2H289.87zM297.73 161.0h8.12v2.2H297.73zM352.80 161.0h8.12v2.2H352.80zM400.00 161.0h8.12v2.2H400.00zM407.87 161.0h8.12v2.2H407.87zM415.73 161.0h8.12v2.2H415.73zM494.40 161.0h8.12v2.2H494.40zM502.27 161.0h8.12v2.2H502.27zM69.60 163.0h8.12v2.2H69.60zM305.60 163.0h8.12v2.2H305.60zM384.27 163.0h8.12v2.2H384.27zM431.47 163.0h8.12v2.2H431.47zM439.33 163.0h8.12v2.2H439.33zM470.80 163.0h8.12v2.2H470.80zM510.13 163.0h8.12v2.2H510.13zM226.93 165.0h8.12v2.2H226.93zM242.67 165.0h8.12v2.2H242.67zM250.53 165.0h8.12v2.2H250.53zM329.20 165.0h8.12v2.2H329.20zM337.07 165.0h8.12v2.2H337.07zM368.53 165.0h8.12v2.2H368.53zM400.00 165.0h8.12v2.2H400.00zM455.07 165.0h8.12v2.2H455.07zM242.67 167.0h8.12v2.2H242.67zM282.00 167.0h8.12v2.2H282.00zM297.73 167.0h8.12v2.2H297.73zM384.27 167.0h8.12v2.2H384.27zM400.00 167.0h8.12v2.2H400.00zM415.73 167.0h8.12v2.2H415.73zM455.07 167.0h8.12v2.2H455.07zM478.67 167.0h8.12v2.2H478.67zM486.53 167.0h8.12v2.2H486.53zM226.93 169.0h8.12v2.2H226.93zM289.87 169.0h8.12v2.2H289.87zM337.07 169.0h8.12v2.2H337.07zM431.47 169.0h8.12v2.2H431.47zM337.07 171.0h8.12v2.2H337.07zM344.93 171.0h8.12v2.2H344.93zM352.80 171.0h8.12v2.2H352.80zM297.73 173.0h8.12v2.2H297.73zM368.53 173.0h8.12v2.2H368.53zM439.33 173.0h8.12v2.2H439.33zM462.93 173.0h8.12v2.2H462.93zM486.53 173.0h8.12v2.2H486.53zM494.40 173.0h8.12v2.2H494.40zM179.73 175.0h8.12v2.2H179.73zM242.67 175.0h8.12v2.2H242.67zM250.53 175.0h8.12v2.2H250.53zM289.87 175.0h8.12v2.2H289.87zM337.07 175.0h8.12v2.2H337.07zM368.53 175.0h8.12v2.2H368.53zM392.13 175.0h8.12v2.2H392.13zM431.47 175.0h8.12v2.2H431.47zM439.33 175.0h8.12v2.2H439.33zM195.47 177.0h8.12v2.2H195.47zM219.07 177.0h8.12v2.2H219.07zM234.80 177.0h8.12v2.2H234.80zM242.67 177.0h8.12v2.2H242.67zM250.53 177.0h8.12v2.2H250.53zM266.27 177.0h8.12v2.2H266.27zM297.73 177.0h8.12v2.2H297.73zM305.60 177.0h8.12v2.2H305.60zM329.20 177.0h8.12v2.2H329.20zM337.07 177.0h8.12v2.2H337.07zM368.53 177.0h8.12v2.2H368.53zM431.47 177.0h8.12v2.2H431.47zM219.07 179.0h8.12v2.2H219.07zM242.67 179.0h8.12v2.2H242.67zM274.13 179.0h8.12v2.2H274.13zM344.93 179.0h8.12v2.2H344.93zM352.80 179.0h8.12v2.2H352.80zM407.87 179.0h8.12v2.2H407.87zM455.07 179.0h8.12v2.2H455.07zM203.33 181.0h8.12v2.2H203.33zM274.13 181.0h8.12v2.2H274.13zM282.00 181.0h8.12v2.2H282.00zM337.07 181.0h8.12v2.2H337.07zM384.27 181.0h8.12v2.2H384.27zM400.00 181.0h8.12v2.2H400.00zM439.33 181.0h8.12v2.2H439.33zM494.40 181.0h8.12v2.2H494.40zM274.13 183.0h8.12v2.2H274.13zM321.33 183.0h8.12v2.2H321.33zM368.53 183.0h8.12v2.2H368.53zM384.27 183.0h8.12v2.2H384.27zM486.53 183.0h8.12v2.2H486.53zM502.27 183.0h8.12v2.2H502.27zM179.73 185.0h8.12v2.2H179.73zM203.33 185.0h8.12v2.2H203.33zM266.27 187.0h8.12v2.2H266.27zM313.47 187.0h8.12v2.2H313.47zM337.07 187.0h8.12v2.2H337.07zM234.80 189.0h8.12v2.2H234.80zM282.00 189.0h8.12v2.2H282.00zM289.87 189.0h8.12v2.2H289.87zM384.27 189.0h8.12v2.2H384.27zM234.80 191.0h8.12v2.2H234.80zM242.67 191.0h8.12v2.2H242.67zM305.60 191.0h8.12v2.2H305.60zM321.33 191.0h8.12v2.2H321.33zM376.40 191.0h8.12v2.2H376.40zM392.13 191.0h8.12v2.2H392.13zM164.00 193.0h8.12v2.2H164.00zM179.73 193.0h8.12v2.2H179.73zM321.33 193.0h8.12v2.2H321.33zM376.40 193.0h8.12v2.2H376.40zM274.13 195.0h8.12v2.2H274.13zM321.33 195.0h8.12v2.2H321.33zM352.80 195.0h8.12v2.2H352.80zM368.53 195.0h8.12v2.2H368.53zM376.40 195.0h8.12v2.2H376.40zM478.67 195.0h8.12v2.2H478.67zM502.27 195.0h8.12v2.2H502.27zM344.93 197.0h8.12v2.2H344.93zM384.27 197.0h8.12v2.2H384.27zM439.33 197.0h8.12v2.2H439.33zM478.67 197.0h8.12v2.2H478.67zM502.27 197.0h8.12v2.2H502.27zM510.13 197.0h8.12v2.2H510.13zM266.27 199.0h8.12v2.2H266.27zM297.73 199.0h8.12v2.2H297.73zM313.47 199.0h8.12v2.2H313.47zM329.20 199.0h8.12v2.2H329.20zM337.07 199.0h8.12v2.2H337.07zM344.93 199.0h8.12v2.2H344.93zM368.53 199.0h8.12v2.2H368.53zM384.27 199.0h8.12v2.2H384.27zM392.13 199.0h8.12v2.2H392.13zM439.33 199.0h8.12v2.2H439.33zM462.93 199.0h8.12v2.2H462.93zM470.80 199.0h8.12v2.2H470.80zM502.27 199.0h8.12v2.2H502.27zM179.73 201.0h8.12v2.2H179.73zM203.33 201.0h8.12v2.2H203.33zM258.40 201.0h8.12v2.2H258.40zM274.13 201.0h8.12v2.2H274.13zM297.73 201.0h8.12v2.2H297.73zM321.33 201.0h8.12v2.2H321.33zM400.00 201.0h8.12v2.2H400.00zM407.87 201.0h8.12v2.2H407.87zM447.20 201.0h8.12v2.2H447.20zM494.40 201.0h8.12v2.2H494.40zM502.27 201.0h8.12v2.2H502.27zM510.13 201.0h8.12v2.2H510.13zM219.07 203.0h8.12v2.2H219.07zM226.93 203.0h8.12v2.2H226.93zM305.60 203.0h8.12v2.2H305.60zM384.27 203.0h8.12v2.2H384.27zM423.60 203.0h8.12v2.2H423.60zM164.00 205.0h8.12v2.2H164.00zM226.93 205.0h8.12v2.2H226.93zM250.53 205.0h8.12v2.2H250.53zM305.60 205.0h8.12v2.2H305.60zM321.33 205.0h8.12v2.2H321.33zM344.93 205.0h8.12v2.2H344.93zM376.40 205.0h8.12v2.2H376.40zM407.87 205.0h8.12v2.2H407.87zM462.93 205.0h8.12v2.2H462.93zM470.80 205.0h8.12v2.2H470.80zM478.67 205.0h8.12v2.2H478.67zM486.53 205.0h8.12v2.2H486.53zM494.40 205.0h8.12v2.2H494.40zM179.73 207.0h8.12v2.2H179.73zM226.93 207.0h8.12v2.2H226.93zM282.00 207.0h8.12v2.2H282.00zM329.20 207.0h8.12v2.2H329.20zM352.80 207.0h8.12v2.2H352.80zM360.67 207.0h8.12v2.2H360.67zM470.80 207.0h8.12v2.2H470.80zM486.53 207.0h8.12v2.2H486.53zM179.73 209.0h8.12v2.2H179.73zM329.20 209.0h8.12v2.2H329.20zM478.67 209.0h8.12v2.2H478.67zM494.40 209.0h8.12v2.2H494.40zM179.73 211.0h8.12v2.2H179.73zM234.80 211.0h8.12v2.2H234.80zM478.67 211.0h8.12v2.2H478.67zM219.07 213.0h8.12v2.2H219.07zM431.47 213.0h8.12v2.2H431.47zM439.33 213.0h8.12v2.2H439.33zM329.20 215.0h8.12v2.2H329.20zM478.67 215.0h8.12v2.2H478.67zM486.53 215.0h8.12v2.2H486.53zM140.40 217.0h8.12v2.2H140.40zM195.47 217.0h8.12v2.2H195.47zM226.93 217.0h8.12v2.2H226.93zM234.80 217.0h8.12v2.2H234.80zM344.93 217.0h8.12v2.2H344.93zM392.13 217.0h8.12v2.2H392.13zM494.40 217.0h8.12v2.2H494.40zM195.47 219.0h8.12v2.2H195.47zM250.53 219.0h8.12v2.2H250.53zM289.87 219.0h8.12v2.2H289.87zM392.13 219.0h8.12v2.2H392.13zM407.87 219.0h8.12v2.2H407.87zM439.33 219.0h8.12v2.2H439.33zM368.53 221.0h8.12v2.2H368.53zM376.40 221.0h8.12v2.2H376.40zM384.27 221.0h8.12v2.2H384.27zM439.33 221.0h8.12v2.2H439.33zM486.53 221.0h8.12v2.2H486.53zM494.40 221.0h8.12v2.2H494.40zM400.00 223.0h8.12v2.2H400.00zM423.60 223.0h8.12v2.2H423.60zM439.33 223.0h8.12v2.2H439.33zM494.40 223.0h8.12v2.2H494.40zM219.07 225.0h8.12v2.2H219.07zM337.07 225.0h8.12v2.2H337.07zM392.13 225.0h8.12v2.2H392.13zM447.20 225.0h8.12v2.2H447.20zM179.73 227.0h8.12v2.2H179.73zM329.20 227.0h8.12v2.2H329.20zM376.40 227.0h8.12v2.2H376.40zM455.07 227.0h8.12v2.2H455.07zM478.67 227.0h8.12v2.2H478.67zM478.67 229.0h8.12v2.2H478.67zM384.27 231.0h8.12v2.2H384.27zM415.73 231.0h8.12v2.2H415.73zM187.60 233.0h8.12v2.2H187.60zM219.07 233.0h8.12v2.2H219.07zM234.80 233.0h8.12v2.2H234.80zM313.47 233.0h8.12v2.2H313.47zM486.53 233.0h8.12v2.2H486.53zM478.67 235.0h8.12v2.2H478.67zM250.53 237.0h8.12v2.2H250.53zM258.40 237.0h8.12v2.2H258.40zM282.00 237.0h8.12v2.2H282.00zM321.33 237.0h8.12v2.2H321.33zM337.07 237.0h8.12v2.2H337.07zM470.80 237.0h8.12v2.2H470.80zM510.13 237.0h8.12v2.2H510.13zM171.87 239.0h8.12v2.2H171.87zM242.67 239.0h8.12v2.2H242.67zM352.80 239.0h8.12v2.2H352.80zM486.53 239.0h8.12v2.2H486.53zM242.67 241.0h8.12v2.2H242.67zM321.33 241.0h8.12v2.2H321.33zM344.93 241.0h8.12v2.2H344.93zM376.40 241.0h8.12v2.2H376.40zM478.67 241.0h8.12v2.2H478.67zM494.40 241.0h8.12v2.2H494.40zM455.07 243.0h8.12v2.2H455.07zM211.20 245.0h8.12v2.2H211.20zM219.07 245.0h8.12v2.2H219.07zM266.27 245.0h8.12v2.2H266.27zM352.80 245.0h8.12v2.2H352.80zM368.53 245.0h8.12v2.2H368.53zM376.40 245.0h8.12v2.2H376.40zM219.07 247.0h8.12v2.2H219.07zM282.00 247.0h8.12v2.2H282.00zM352.80 247.0h8.12v2.2H352.80zM392.13 247.0h8.12v2.2H392.13zM415.73 249.0h8.12v2.2H415.73zM431.47 249.0h8.12v2.2H431.47zM455.07 249.0h8.12v2.2H455.07zM462.93 249.0h8.12v2.2H462.93zM164.00 251.0h8.12v2.2H164.00zM392.13 251.0h8.12v2.2H392.13zM470.80 251.0h8.12v2.2H470.80zM423.60 253.0h8.12v2.2H423.60zM297.73 255.0h8.12v2.2H297.73zM305.60 255.0h8.12v2.2H305.60zM313.47 255.0h8.12v2.2H313.47zM337.07 255.0h8.12v2.2H337.07zM384.27 255.0h8.12v2.2H384.27zM392.13 255.0h8.12v2.2H392.13zM313.47 257.0h8.12v2.2H313.47zM321.33 257.0h8.12v2.2H321.33zM478.67 257.0h8.12v2.2H478.67zM187.60 259.0h8.12v2.2H187.60zM211.20 259.0h8.12v2.2H211.20zM329.20 259.0h8.12v2.2H329.20zM368.53 259.0h8.12v2.2H368.53z"/>
<path fill="rgb(119, 121, 0)" d="M46.00 71.0h8.12v2.2H46.00zM93.20 71.0h8.12v2.2H93.20zM108.93 71.0h8.12v2.2H108.93zM124.67 71.0h8.12v2.2H124.67zM156.13 71.0h8.12v2.2H156.13zM164.00 71.0h8.12v2.2H164.00zM46.00 73.0h8.12v2.2H46.00zM53.87 73.0h8.12v2.2H53.87zM124.67 73.0h8.12v2.2H124.67zM132.53 73.0h8.12v2.2H132.53zM140.40 73.0h8.12v2.2H140.40zM171.87 73.0h8.12v2.2H171.87zM195.47 73.0h8.12v2.2H195.47zM46.00 75.0h8.12v2.2H46.00zM53.87 75.0h8.12v2.2H53.87zM61.73 75.0h8.12v2.2H61.73zM77.47 75.0h8.12v2.2H77.47zM132.53 75.0h8.12v2.2H132.53zM140.40 75.0h8.12v2.2H140.40zM171.87 75.0h8.12v2.2H171.87zM195.47 75.0h8.12v2.2H195.47zM164.00 77.0h8.12v2.2H164.00zM171.87 77.0h8.12v2.2H171.87zM242.67 77.0h8.12v2.2H242.67zM179.73 79.0h8.12v2.2H179.73zM187.60 79.0h8.12v2.2H187.60zM195.47 79.0h8.12v2.2H195.47zM211.20 79.0h8.12v2.2H211.20zM85.33 81.0h8.12v2.2H85.33zM164.00 81.0h8.12v2.2H164.00zM187.60 81.0h8.12v2.2H187.60zM258.40 81.0h8.12v2.2H258.40zM195.47 83.0h8.12v2.2H195.47zM242.67 83.0h8.12v2.2H242.67zM140.40 85.0h8.12v2.2H140.40zM211.20 85.0h8.12v2.2H211.20zM69.60 87.0h8.12v2.2H69.60zM108.93 87.0h8.12v2.2H108.93zM116.80 87.0h8.12v2.2H116.80zM140.40 87.0h8.12v2.2H140.40zM148.27 87.0h8.12v2.2H148.27zM179.73 87.0h8.12v2.2H179.73zM242.67 87.0h8.12v2.2H242.67zM69.60 89.0h8.12v2.2H69.60zM116.80 89.0h8.12v2.2H116.80zM124.67 89.0h8.12v2.2H124.67zM140.40 89.0h8.12v2.2H140.40zM164.00 89.0h8.12v2.2H164.00zM258.40 89.0h8.12v2.2H258.40zM46.00 91.0h8.12v2.2H46.00zM108.93 91.0h8.12v2.2H108.93zM140.40 91.0h8.12v2.2H140.40zM61.73 93.0h8.12v2.2H61.73zM124.67 93.0h8.12v2.2H124.67zM132.53 93.0h8.12v2.2H132.53zM140.40 93.0h8.12v2.2H140.40zM148.27 93.0h8.12v2.2H148.27zM171.87 95.0h8.12v2.2H171.87zM46.00 97.0h8.12v2.2H46.00zM61.73 97.0h8.12v2.2H61.73zM93.20 97.0h8.12v2.2H93.20zM124.67 97.0h8.12v2.2H124.67zM156.13 97.0h8.12v2.2H156.13zM156.13 99.0h8.12v2.2H156.13zM46.00 101.0h8.12v2.2H46.00zM108.93 101.0h8.12v2.2H108.93zM116.80 101.0h8.12v2.2H116.80zM124.67 101.0h8.12v2.2H124.67zM140.40 101.0h8.12v2.2H140.40zM211.20 101.0h8.12v2.2H211.20zM124.67 103.0h8.12v2.2H124.67zM148.27 103.0h8.12v2.2H148.27zM179.73 103.0h8.12v2.2H179.73zM219.07 103.0h8.12v2.2H219.07zM148.27 105.0h8.12v2.2H148.27zM171.87 105.0h8.12v2.2H171.87zM219.07 105.0h8.12v2.2H219.07zM234.80 105.0h8.12v2.2H234.80zM258.40 105.0h8.12v2.2H258.40zM171.87 107.0h8.12v2.2H171.87zM211.20 107.0h8.12v2.2H211.20zM164.00 109.0h8.12v2.2H164.00zM226.93 109.0h8.12v2.2H226.93zM61.73 113.0h8.12v2.2H61.73zM69.60 113.0h8.12v2.2H69.60zM77.47 113.0h8.12v2.2H77.47zM101.07 113.0h8.12v2.2H101.07zM116.80 113.0h8.12v2.2H116.80zM156.13 113.0h8.12v2.2H156.13zM164.00 113.0h8.12v2.2H164.00zM187.60 113.0h8.12v2.2H187.60zM46.00 115.0h8.12v2.2H46.00zM108.93 115.0h8.12v2.2H108.93zM132.53 115.0h8.12v2.2H132.53zM164.00 115.0h8.12v2.2H164.00zM187.60 115.0h8.12v2.2H187.60zM203.33 115.0h8.12v2.2H203.33zM46.00 117.0h8.12v2.2H46.00zM61.73 117.0h8.12v2.2H61.73zM156.13 117.0h8.12v2.2H156.13zM171.87 117.0h8.12v2.2H171.87zM179.73 117.0h8.12v2.2H179.73zM187.60 117.0h8.12v2.2H187.60zM46.00 119.0h8.12v2.2H46.00zM61.73 119.0h8.12v2.2H61.73zM85.33 119.0h8.12v2.2H85.33zM116.80 119.0h8.12v2.2H116.80zM140.40 119.0h8.12v2.2H140.40zM148.27 119.0h8.12v2.2H148.27zM171.87 119.0h8.12v2.2H171.87zM195.47 119.0h8.12v2.2H195.47zM46.00 121.0h8.12v2.2H46.00zM61.73 121.0h8.12v2.2H61.73zM116.80 121.0h8.12v2.2H116.80zM124.67 121.0h8.12v2.2H124.67zM132.53 121.0h8.12v2.2H132.53zM171.87 121.0h8.12v2.2H171.87zM195.47 121.0h8.12v2.2H195.47zM337.07 123.0h8.12v2.2H337.07zM392.13 123.0h8.12v2.2H392.13zM407.87 123.0h8.12v2.2H407.87zM69.60 125.0h8.12v2.2H69.60zM510.13 125.0h8.12v2.2H510.13zM266.27 127.0h8.12v2.2H266.27zM321.33 127.0h8.12v2.2H321.33zM164.00 129.0h8.12v2.2H164.00zM203.33 129.0h8.12v2.2H203.33zM368.53 129.0h8.12v2.2H368.53zM392.13 129.0h8.12v2.2H392.13zM423.60 129.0h8.12v2.2H423.60zM439.33 129.0h8.12v2.2H439.33zM321.33 131.0h8.12v2.2H321.33zM439.33 131.0h8.12v2.2H439.33zM455.07 131.0h8.12v2.2H455.07zM462.93 131.0h8.12v2.2H462.93zM478.67 131.0h8.12v2.2H478.67zM219.07 133.0h8.12v2.2H219.07zM234.80 133.0h8.12v2.2H234.80zM313.47 133.0h8.12v2.2H313.47zM337.07 133.0h8.12v2.2H337.07zM305.60 135.0h8.12v2.2H305.60zM321.33 135.0h8.12v2.2H321.33zM415.73 135.0h8.12v2.2H415.73zM423.60 135.0h8.12v2.2H423.60zM93.20 137.0h8.12v2.2H93.20zM282.00 137.0h8.12v2.2H282.00zM297.73 137.0h8.12v2.2H297.73zM305.60 137.0h8.12v2.2H305.60zM313.47 137.0h8.12v2.2H313.47zM321.33 137.0h8.12v2.2H321.33zM352.80 137.0h8.12v2.2H352.80zM400.00 137.0h8.12v2.2H400.00zM478.67 137.0h8.12v2.2H478.67zM502.27 137.0h8.12v2.2H502.27zM234.80 139.0h8.12v2.2H234.80zM282.00 139.0h8.12v2.2H282.00zM384.27 139.0h8.12v2.2H384.27zM392.13 139.0h8.12v2.2H392.13zM431.47 139.0h8.12v2.2H431.47zM234.80 141.0h8.12v2.2H234.80zM297.73 141.0h8.12v2.2H297.73zM337.07 141.0h8.12v2.2H337.07zM226.93 143.0h8.12v2.2H226.93zM305.60 143.0h8.12v2.2H305.60zM329.20 143.0h8.12v2.2H329.20zM392.13 143.0h8.12v2.2H392.13zM431.47 143.0h8.12v2.2H431.47zM439.33 143.0h8.12v2.2H439.33zM455.07 143.0h8.12v2.2H455.07zM164.00 145.0h8.12v2.2H164.00zM226.93 145.0h8.12v2.2H226.93zM234.80 145.0h8.12v2.2H234.80zM313.47 145.0h8.12v2.2H313.47zM321.33 145.0h8.12v2.2H321.33zM329.20 145.0h8.12v2.2H329.20zM384.27 145.0h8.12v2.2H384.27zM400.00 145.0h8.12v2.2H400.00zM431.47 145.0h8.12v2.2H431.47zM447.20 145.0h8.12v2.2H447.20zM470.80 145.0h8.12v2.2H470.80zM384.27 147.0h8.12v2.2H384.27zM407.87 147.0h8.12v2.2H407.87zM478.67 147.0h8.12v2.2H478.67zM297.73 149.0h8.12v2.2H297.73zM337.07 149.0h8.12v2.2H337.07zM352.80 149.0h8.12v2.2H352.80zM360.67 149.0h8.12v2.2H360.67zM400.00 149.0h8.12v2.2H400.00zM447.20 149.0h8.12v2.2H447.20zM455.07 149.0h8.12v2.2H455.07zM470.80 149.0h8.12v2.2H470.80zM494.40 149.0h8.12v2.2H494.40zM203.33 151.0h8.12v2.2H203.33zM250.53 151.0h8.12v2.2H250.53zM274.13 151.0h8.12v2.2H274.13zM282.00 151.0h8.12v2.2H282.00zM289.87 151.0h8.12v2.2H289.87zM392.13 151.0h8.12v2.2H392.13zM455.07 151.0h8.12v2.2H455.07zM203.33 153.0h8.12v2.2H203.33zM289.87 153.0h8.12v2.2H289.87zM392.13 153.0h8.12v2.2H392.13zM415.73 153.0h8.12v2.2H415.73zM431.47 153.0h8.12v2.2H431.47zM478.67 153.0h8.12v2.2H478.67zM368.53 155.0h8.12v2.2H368.53zM407.87 155.0h8.12v2.2H407.87zM439.33 155.0h8.12v2.2H439.33zM219.07 157.0h8.12v2.2H219.07zM337.07 157.0h8.12v2.2H337.07zM164.00 159.0h8.12v2.2H164.00zM219.07 159.0h8.12v2.2H219.07zM368.53 159.0h8.12v2.2H368.53zM376.40 159.0h8.12v2.2H376.40zM478.67 159.0h8.12v2.2H478.67zM502.27 159.0h8.12v2.2H502.27zM179.73 161.0h8.12v2.2H179.73zM329.20 161.0h8.12v2.2H329.20zM344.93 161.0h8.12v2.2H344.93zM392.13 161.0h8.12v2.2H392.13zM447.20 161.0h8.12v2.2H447.20zM250.53 163.0h8.12v2.2H250.53zM258.40 163.0h8.12v2.2H258.40zM368.53 163.0h8.12v2.2H368.53zM376.40 163.0h8.12v2.2H376.40zM400.00 163.0h8.12v2.2H400.00zM423.60 163.0h8.12v2.2H423.60zM447.20 163.0h8.12v2.2H447.20zM462.93 163.0h8.12v2.2H462.93zM502.27 163.0h8.12v2.2H502.27zM289.87 165.0h8.12v2.2H289.87zM376.40 165.0h8.12v2.2H376.40zM478.67 165.0h8.12v2.2H478.67zM250.53 167.0h8.12v2.2H250.53zM289.87 167.0h8.12v2.2H289.87zM392.13 167.0h8.12v2.2H392.13zM431.47 167.0h8.12v2.2H431.47zM447.20 167.0h8.12v2.2H447.20zM392.13 169.0h8.12v2.2H392.13zM164.00 171.0h8.12v2.2H164.00zM219.07 173.0h8.12v2.2H219.07zM282.00 173.0h8.12v2.2H282.00zM289.87 173.0h8.12v2.2H289.87zM400.00 173.0h8.12v2.2H400.00zM423.60 173.0h8.12v2.2H423.60zM431.47 173.0h8.12v2.2H431.47zM447.20 173.0h8.12v2.2H447.20zM455.07 173.0h8.12v2.2H455.07zM344.93 175.0h8.12v2.2H344.93zM282.00 177.0h8.12v2.2H282.00zM289.87 177.0h8.12v2.2H289.87zM376.40 177.0h8.12v2.2H376.40zM447.20 177.0h8.12v2.2H447.20zM470.80 177.0h8.12v2.2H470.80zM195.47 179.0h8.12v2.2H195.47zM226.93 179.0h8.12v2.2H226.93zM297.73 179.0h8.12v2.2H297.73zM329.20 179.0h8.12v2.2H329.20zM376.40 179.0h8.12v2.2H376.40zM423.60 179.0h8.12v2.2H423.60zM486.53 179.0h8.12v2.2H486.53zM179.73 181.0h8.12v2.2H179.73zM219.07 181.0h8.12v2.2H219.07zM305.60 181.0h8.12v2.2H305.60zM368.53 181.0h8.12v2.2H368.53zM376.40 181.0h8.12v2.2H376.40zM431.47 181.0h8.12v2.2H431.47zM234.80 183.0h8.12v2.2H234.80zM242.67 183.0h8.12v2.2H242.67zM313.47 183.0h8.12v2.2H313.47zM329.20 183.0h8.12v2.2H329.20zM392.13 183.0h8.12v2.2H392.13zM431.47 183.0h8.12v2.2H431.47zM447.20 183.0h8.12v2.2H447.20zM211.20 185.0h8.12v2.2H211.20zM219.07 185.0h8.12v2.2H219.07zM274.13 185.0h8.12v2.2H274.13zM305.60 185.0h8.12v2.2H305.60zM321.33 185.0h8.12v2.2H321.33zM203.33 187.0h8.12v2.2H203.33zM289.87 187.0h8.12v2.2H289.87zM384.27 187.0h8.12v2.2H384.27zM242.67 189.0h8.12v2.2H242.67zM305.60 189.0h8.12v2.2H305.60zM368.53 189.0h8.12v2.2H368.53zM478.67 189.0h8.12v2.2H478.67zM486.53 189.0h8.12v2.2H486.53zM400.00 191.0h8.12v2.2H400.00zM219.07 193.0h8.12v2.2H219.07zM234.80 193.0h8.12v2.2H234.80zM337.07 193.0h8.12v2.2H337.07zM203.33 195.0h8.12v2.2H203.33zM242.67 195.0h8.12v2.2H242.67zM282.00 195.0h8.12v2.2H282.00zM384.27 195.0h8.12v2.2H384.27zM266.27 197.0h8.12v2.2H266.27zM305.60 197.0h8.12v2.2H305.60zM376.40 197.0h8.12v2.2H376.40zM392.13 197.0h8.12v2.2H392.13zM470.80 197.0h8.12v2.2H470.80zM305.60 199.0h8.12v2.2H305.60zM352.80 199.0h8.12v2.2H352.80zM423.60 199.0h8.12v2.2H423.60zM486.53 199.0h8.12v2.2H486.53zM242.67 201.0h8.12v2.2H242.67zM282.00 201.0h8.12v2.2H282.00zM313.47 201.0h8.12v2.2H313.47zM415.73 201.0h8.12v2.2H415.73zM423.60 201.0h8.12v2.2H423.60zM486.53 201.0h8.12v2.2H486.53zM179.73 203.0h8.12v2.2H179.73zM313.47 203.0h8.12v2.2H313.47zM376.40 203.0h8.12v2.2H376.40zM407.87 203.0h8.12v2.2H407.87zM431.47 203.0h8.12v2.2H431.47zM203.33 205.0h8.12v2.2H203.33zM219.07 205.0h8.12v2.2H219.07zM297.73 205.0h8.12v2.2H297.73zM313.47 205.0h8.12v2.2H313.47zM329.20 205.0h8.12v2.2H329.20zM368.53 205.0h8.12v2.2H368.53zM423.60 205.0h8.12v2.2H423.60zM439.33 205.0h8.12v2.2H439.33zM337.07 207.0h8.12v2.2H337.07zM376.40 207.0h8.12v2.2H376.40zM439.33 207.0h8.12v2.2H439.33zM447.20 207.0h8.12v2.2H447.20zM478.67 207.0h8.12v2.2H478.67zM502.27 207.0h8.12v2.2H502.27zM226.93 209.0h8.12v2.2H226.93zM234.80 209.0h8.12v2.2H234.80zM407.87 213.0h8.12v2.2H407.87zM164.00 217.0h8.12v2.2H164.00zM321.33 217.0h8.12v2.2H321.33zM203.33 219.0h8.12v2.2H203.33zM305.60 219.0h8.12v2.2H305.60zM352.80 219.0h8.12v2.2H352.80zM368.53 219.0h8.12v2.2H368.53zM400.00 221.0h8.12v2.2H400.00zM455.07 221.0h8.12v2.2H455.07zM274.13 223.0h8.12v2.2H274.13zM282.00 223.0h8.12v2.2H282.00zM337.07 223.0h8.12v2.2H337.07zM478.67 223.0h8.12v2.2H478.67zM211.20 225.0h8.12v2.2H211.20zM415.73 225.0h8.12v2.2H415.73zM423.60 225.0h8.12v2.2H423.60zM439.33 227.0h8.12v2.2H439.33zM219.07 231.0h8.12v2.2H219.07zM321.33 231.0h8.12v2.2H321.33zM329.20 231.0h8.12v2.2H329.20zM439.33 231.0h8.12v2.2H439.33zM478.67 231.0h8.12v2.2H478.67zM242.67 233.0h8.12v2.2H242.67zM376.40 233.0h8.12v2.2H376.40zM226.93 235.0h8.12v2.2H226.93zM219.07 237.0h8.12v2.2H219.07zM478.67 237.0h8.12v2.2H478.67zM502.27 237.0h8.12v2.2H502.27zM219.07 239.0h8.12v2.2H219.07zM282.00 239.0h8.12v2.2H282.00zM305.60 239.0h8.12v2.2H305.60zM478.67 239.0h8.12v2.2H478.67zM329.20 241.0h8.12v2.2H329.20zM337.07 241.0h8.12v2.2H337.07zM439.33 241.0h8.12v2.2H439.33zM502.27 241.0h8.12v2.2H502.27zM226.93 243.0h8.12v2.2H226.93zM478.67 243.0h8.12v2.2H478.67zM400.00 247.0h8.12v2.2H400.00zM219.07 249.0h8.12v2.2H219.07zM376.40 249.0h8.12v2.2H376.40zM203.33 251.0h8.12v2.2H203.33zM337.07 251.0h8.12v2.2H337.07zM368.53 251.0h8.12v2.2H368.53zM282.00 253.0h8.12v2.2H282.00zM376.40 253.0h8.12v2.2H376.40zM455.07 253.0h8.12v2.2H455.07zM368.53 255.0h8.12v2.2H368.53zM478.67 255.0h8.12v2.2H478.67zM297.73 257.0h8.12v2.2H297.73zM337.07 257.0h8.12v2.2H337.07zM352.80 257.0h8.12v2.2H352.80zM392.13 257.0h8.12v2.2H392.13zM439.33 257.0h8.12v2.2H439.33zM195.47 259.0h8.12v2.2H195.47z"/>
<path fill="rgb(158, 161, 0)" d="M61.73 71.0h8.12v2.2H61.73zM77.47 71.0h8.12v2.2H77.47zM101.07 71.0h8.12v2.2H101.07zM140.40 71.0h8.12v2.2H140.40zM195.47 71.0h8.12v2.2H195.47zM61.73 73.0h8.12v2.2H61.73zM69.60 73.0h8.12v2.2H69.60zM93.20 73.0h8.12v2.2H93.20zM101.07 73.0h8.12v2.2H101.07zM116.80 73.0h8.12v2.2H116.80zM156.13 73.0h8.12v2.2H156.13zM164.00 73.0h8.12v2.2H164.00zM69.60 75.0h8.12v2.2H69.60zM85.33 75.0h8.12v2.2H85.33zM93.20 75.0h8.12v2.2H93.20zM116.80 75.0h8.12v2.2H116.80zM85.33 77.0h8.12v2.2H85.33zM124.67 77.0h8.12v2.2H124.67zM132.53 77.0h8.12v2.2H132.53zM140.40 77.0h8.12v2.2H140.40zM195.47 77.0h8.12v2.2H195.47zM85.33 79.0h8.12v2.2H85.33zM124.67 79.0h8.12v2.2H124.67zM132.53 79.0h8.12v2.2H132.53zM140.40 79.0h8.12v2.2H140.40zM148.27 79.0h8.12v2.2H148.27zM171.87 79.0h8.12v2.2H171.87zM195.47 81.0h8.12v2.2H195.47zM85.33 83.0h8.12v2.2H85.33zM148.27 83.0h8.12v2.2H148.27zM179.73 83.0h8.12v2.2H179.73zM211.20 83.0h8.12v2.2H211.20zM46.00 85.0h8.12v2.2H46.00zM69.60 85.0h8.12v2.2H69.60zM85.33 85.0h8.12v2.2H85.33zM148.27 85.0h8.12v2.2H148.27zM179.73 85.0h8.12v2.2H179.73zM266.27 85.0h8.12v2.2H266.27zM46.00 87.0h8.12v2.2H46.00zM77.47 87.0h8.12v2.2H77.47zM85.33 87.0h8.12v2.2H85.33zM93.20 87.0h8.12v2.2H93.20zM124.67 87.0h8.12v2.2H124.67zM132.53 87.0h8.12v2.2H132.53zM164.00 87.0h8.12v2.2H164.00zM195.47 87.0h8.12v2.2H195.47zM46.00 89.0h8.12v2.2H46.00zM61.73 89.0h8.12v2.2H61.73zM85.33 89.0h8.12v2.2H85.33zM101.07 89.0h8.12v2.2H101.07zM108.93 89.0h8.12v2.2H108.93zM156.13 89.0h8.12v2.2H156.13zM61.73 91.0h8.12v2.2H61.73zM69.60 91.0h8.12v2.2H69.60zM93.20 91.0h8.12v2.2H93.20zM124.67 91.0h8.12v2.2H124.67zM156.13 91.0h8.12v2.2H156.13zM258.40 91.0h8.12v2.2H258.40zM46.00 93.0h8.12v2.2H46.00zM77.47 93.0h8.12v2.2H77.47zM93.20 93.0h8.12v2.2H93.20zM101.07 93.0h8.12v2.2H101.07zM108.93 93.0h8.12v2.2H108.93zM171.87 93.0h8.12v2.2H171.87zM116.80 95.0h8.12v2.2H116.80zM69.60 97.0h8.12v2.2H69.60zM140.40 97.0h8.12v2.2H140.40zM46.00 99.0h8.12v2.2H46.00zM116.80 99.0h8.12v2.2H116.80zM140.40 99.0h8.12v2.2H140.40zM171.87 99.0h8.12v2.2H171.87zM53.87 101.0h8.12v2.2H53.87zM101.07 101.0h8.12v2.2H101.07zM156.13 101.0h8.12v2.2H156.13zM164.00 101.0h8.12v2.2H164.00zM46.00 103.0h8.12v2.2H46.00zM116.80 103.0h8.12v2.2H116.80zM140.40 103.0h8.12v2.2H140.40zM164.00 103.0h8.12v2.2H164.00zM171.87 103.0h8.12v2.2H171.87zM140.40 105.0h8.12v2.2H140.40zM164.00 105.0h8.12v2.2H164.00zM124.67 107.0h8.12v2.2H124.67zM195.47 107.0h8.12v2.2H195.47zM46.00 109.0h8.12v2.2H46.00zM85.33 109.0h8.12v2.2H85.33zM108.93 109.0h8.12v2.2H108.93zM124.67 109.0h8.12v2.2H124.67zM108.93 111.0h8.12v2.2H108.93zM124.67 111.0h8.12v2.2H124.67zM140.40 111.0h8.12v2.2H140.40zM187.60 111.0h8.12v2.2H187.60zM195.47 111.0h8.12v2.2H195.47zM85.33 113.0h8.12v2.2H85.33zM93.20 113.0h8.12v2.2H93.20zM61.73 115.0h8.12v2.2H61.73zM85.33 115.0h8.12v2.2H85.33zM93.20 115.0h8.12v2.2H93.20zM116.80 115.0h8.12v2.2H116.80zM148.27 115.0h8.12v2.2H148.27zM156.13 115.0h8.12v2.2H156.13zM69.60 117.0h8.12v2.2H69.60zM77.47 117.0h8.12v2.2H77.47zM116.80 117.0h8.12v2.2H116.80zM132.53 117.0h8.12v2.2H132.53zM148.27 117.0h8.12v2.2H148.27zM195.47 117.0h8.12v2.2H195.47zM69.60 119.0h8.12v2.2H69.60zM93.20 119.0h8.12v2.2H93.20zM101.07 119.0h8.12v2.2H101.07zM108.93 119.0h8.12v2.2H108.93zM132.53 119.0h8.12v2.2H132.53zM69.60 121.0h8.12v2.2H69.60zM93.20 121.0h8.12v2.2H93.20zM108.93 121.0h8.12v2.2H108.93zM140.40 121.0h8.12v2.2H140.40zM148.27 121.0h8.12v2.2H148.27zM321.33 123.0h8.12v2.2H321.33zM219.07 125.0h8.12v2.2H219.07zM250.53 125.0h8.12v2.2H250.53zM297.73 125.0h8.12v2.2H297.73zM313.47 125.0h8.12v2.2H313.47zM407.87 127.0h8.12v2.2H407.87zM203.33 133.0h8.12v2.2H203.33zM226.93 133.0h8.12v2.2H226.93zM321.33 133.0h8.12v2.2H321.33zM392.13 135.0h8.12v2.2H392.13zM447.20 135.0h8.12v2.2H447.20zM226.93 137.0h8.12v2.2H226.93zM376.40 137.0h8.12v2.2H376.40zM392.13 137.0h8.12v2.2H392.13zM447.20 137.0h8.12v2.2H447.20zM274.13 139.0h8.12v2.2H274.13zM407.87 139.0h8.12v2.2H407.87zM415.73 139.0h8.12v2.2H415.73zM219.07 141.0h8.12v2.2H219.07zM431.47 141.0h8.12v2.2H431.47zM313.47 143.0h8.12v2.2H313.47zM368.53 145.0h8.12v2.2H368.53zM439.33 145.0h8.12v2.2H439.33zM494.40 145.0h8.12v2.2H494.40zM502.27 145.0h8.12v2.2H502.27zM368.53 147.0h8.12v2.2H368.53zM289.87 149.0h8.12v2.2H289.87zM376.40 149.0h8.12v2.2H376.40zM478.67 149.0h8.12v2.2H478.67zM313.47 151.0h8.12v2.2H313.47zM337.07 151.0h8.12v2.2H337.07zM344.93 151.0h8.12v2.2H344.93zM282.00 153.0h8.12v2.2H282.00zM400.00 153.0h8.12v2.2H400.00zM219.07 155.0h8.12v2.2H219.07zM242.67 157.0h8.12v2.2H242.67zM415.73 157.0h8.12v2.2H415.73zM462.93 159.0h8.12v2.2H462.93zM321.33 161.0h8.12v2.2H321.33zM384.27 161.0h8.12v2.2H384.27zM478.67 161.0h8.12v2.2H478.67zM486.53 161.0h8.12v2.2H486.53zM242.67 163.0h8.12v2.2H242.67zM274.13 163.0h8.12v2.2H274.13zM289.87 163.0h8.12v2.2H289.87zM313.47 163.0h8.12v2.2H313.47zM329.20 163.0h8.12v2.2H329.20zM392.13 163.0h8.12v2.2H392.13zM415.73 163.0h8.12v2.2H415.73zM486.53 163.0h8.12v2.2H486.53zM494.40 163.0h8.12v2.2H494.40zM219.07 165.0h8.12v2.2H219.07zM282.00 165.0h8.12v2.2H282.00zM352.80 165.0h8.12v2.2H352.80zM431.47 165.0h8.12v2.2H431.47zM494.40 165.0h8.12v2.2H494.40zM337.07 167.0h8.12v2.2H337.07zM439.33 167.0h8.12v2.2H439.33zM250.53 173.0h8.12v2.2H250.53zM313.47 173.0h8.12v2.2H313.47zM321.33 173.0h8.12v2.2H321.33zM392.13 173.0h8.12v2.2H392.13zM313.47 177.0h8.12v2.2H313.47zM407.87 177.0h8.12v2.2H407.87zM455.07 177.0h8.12v2.2H455.07zM486.53 177.0h8.12v2.2H486.53zM313.47 179.0h8.12v2.2H313.47zM392.13 179.0h8.12v2.2H392.13zM313.47 181.0h8.12v2.2H313.47zM392.13 181.0h8.12v2.2H392.13zM226.93 185.0h8.12v2.2H226.93zM376.40 185.0h8.12v2.2H376.40zM447.20 185.0h8.12v2.2H447.20zM179.73 189.0h8.12v2.2H179.73zM171.87 191.0h8.12v2.2H171.87zM226.93 191.0h8.12v2.2H226.93zM337.07 191.0h8.12v2.2H337.07zM478.67 191.0h8.12v2.2H478.67zM179.73 195.0h8.12v2.2H179.73zM313.47 195.0h8.12v2.2H313.47zM282.00 197.0h8.12v2.2H282.00zM447.20 197.0h8.12v2.2H447.20zM282.00 199.0h8.12v2.2H282.00zM400.00 199.0h8.12v2.2H400.00zM455.07 199.0h8.12v2.2H455.07zM266.27 201.0h8.12v2.2H266.27zM431.47 201.0h8.12v2.2H431.47zM439.33 201.0h8.12v2.2H439.33zM455.07 201.0h8.12v2.2H455.07zM478.67 203.0h8.12v2.2H478.67zM384.27 205.0h8.12v2.2H384.27zM392.13 205.0h8.12v2.2H392.13zM219.07 207.0h8.12v2.2H219.07zM234.80 207.0h8.12v2.2H234.80zM195.47 213.0h8.12v2.2H195.47zM195.47 215.0h8.12v2.2H195.47zM384.27 215.0h8.12v2.2H384.27zM313.47 221.0h8.12v2.2H313.47zM226.93 223.0h8.12v2.2H226.93zM376.40 223.0h8.12v2.2H376.40zM337.07 227.0h8.12v2.2H337.07zM439.33 229.0h8.12v2.2H439.33zM305.60 237.0h8.12v2.2H305.60zM313.47 237.0h8.12v2.2H313.47zM179.73 239.0h8.12v2.2H179.73zM313.47 239.0h8.12v2.2H313.47zM329.20 239.0h8.12v2.2H329.20zM368.53 239.0h8.12v2.2H368.53zM439.33 239.0h8.12v2.2H439.33zM368.53 241.0h8.12v2.2H368.53zM337.07 243.0h8.12v2.2H337.07zM431.47 243.0h8.12v2.2H431.47zM266.27 247.0h8.12v2.2H266.27zM337.07 247.0h8.12v2.2H337.07zM219.07 253.0h8.12v2.2H219.07zM392.13 253.0h8.12v2.2H392.13zM203.33 257.0h8.12v2.2H203.33zM219.07 257.0h8.12v2.2H219.07zM470.80 257.0h8.12v2.2H470.80zM313.47 259.0h8.12v2.2H313.47z"/>
<path fill="rgb(198, 201, 0)" d="M53.87 71.0h8.12v2.2H53.87zM69.60 71.0h8.12v2.2H69.60zM85.33 71.0h8.12v2.2H85.33zM116.80 71.0h8.12v2.2H116.80zM132.53 71.0h8.12v2.2H132.53zM77.47 73.0h8.12v2.2H77.47zM101.07 75.0h8.12v2.2H101.07zM156.13 75.0h8.12v2.2H156.13zM53.87 77.0h8.12v2.2H53.87zM61.73 77.0h8.12v2.2H61.73zM101.07 77.0h8.12v2.2H101.07zM108.93 77.0h8.12v2.2H108.93zM116.80 77.0h8.12v2.2H116.80zM148.27 77.0h8.12v2.2H148.27zM46.00 79.0h8.12v2.2H46.00zM53.87 79.0h8.12v2.2H53.87zM61.73 79.0h8.12v2.2H61.73zM108.93 79.0h8.12v2.2H108.93zM116.80 79.0h8.12v2.2H116.80zM156.13 79.0h8.12v2.2H156.13zM140.40 81.0h8.12v2.2H140.40zM148.27 81.0h8.12v2.2H148.27zM156.13 81.0h8.12v2.2H156.13zM171.87 81.0h8.12v2.2H171.87zM211.20 81.0h8.12v2.2H211.20zM46.00 83.0h8.12v2.2H46.00zM77.47 83.0h8.12v2.2H77.47zM108.93 83.0h8.12v2.2H108.93zM132.53 83.0h8.12v2.2H132.53zM140.40 83.0h8.12v2.2H140.40zM156.13 83.0h8.12v2.2H156.13zM108.93 85.0h8.12v2.2H108.93zM124.67 85.0h8.12v2.2H124.67zM132.53 85.0h8.12v2.2H132.53zM195.47 85.0h8.12v2.2H195.47zM61.73 87.0h8.12v2.2H61.73zM156.13 87.0h8.12v2.2H156.13zM171.87 87.0h8.12v2.2H171.87zM53.87 89.0h8.12v2.2H53.87zM77.47 89.0h8.12v2.2H77.47zM93.20 89.0h8.12v2.2H93.20zM171.87 89.0h8.12v2.2H171.87zM77.47 91.0h8.12v2.2H77.47zM85.33 91.0h8.12v2.2H85.33zM101.07 91.0h8.12v2.2H101.07zM132.53 91.0h8.12v2.2H132.53zM69.60 93.0h8.12v2.2H69.60zM156.13 93.0h8.12v2.2H156.13zM46.00 95.0h8.12v2.2H46.00zM61.73 95.0h8.12v2.2H61.73zM93.20 95.0h8.12v2.2H93.20zM101.07 95.0h8.12v2.2H101.07zM108.93 95.0h8.12v2.2H108.93zM124.67 95.0h8.12v2.2H124.67zM132.53 95.0h8.12v2.2H132.53zM140.40 95.0h8.12v2.2H140.40zM156.13 95.0h8.12v2.2H156.13zM164.00 95.0h8.12v2.2H164.00zM211.20 95.0h8.12v2.2H211.20zM53.87 97.0h8.12v2.2H53.87zM77.47 97.0h8.12v2.2H77.47zM85.33 97.0h8.12v2.2H85.33zM53.87 99.0h8.12v2.2H53.87zM61.73 99.0h8.12v2.2H61.73zM69.60 99.0h8.12v2.2H69.60zM101.07 99.0h8.12v2.2H101.07zM108.93 99.0h8.12v2.2H108.93zM124.67 99.0h8.12v2.2H124.67zM61.73 101.0h8.12v2.2H61.73zM69.60 101.0h8.12v2.2H69.60zM77.47 101.0h8.12v2.2H77.47zM93.20 101.0h8.12v2.2H93.20zM61.73 103.0h8.12v2.2H61.73zM77.47 103.0h8.12v2.2H77.47zM93.20 103.0h8.12v2.2H93.20zM101.07 103.0h8.12v2.2H101.07zM108.93 103.0h8.12v2.2H108.93zM132.53 103.0h8.12v2.2H132.53zM156.13 103.0h8.12v2.2H156.13zM77.47 105.0h8.12v2.2H77.47zM93.20 105.0h8.12v2.2H93.20zM124.67 105.0h8.12v2.2H124.67zM46.00 107.0h8.12v2.2H46.00zM53.87 107.0h8.12v2.2H53.87zM156.13 107.0h8.12v2.2H156.13zM187.60 107.0h8.12v2.2H187.60zM77.47 109.0h8.12v2.2H77.47zM116.80 109.0h8.12v2.2H116.80zM132.53 109.0h8.12v2.2H132.53zM156.13 109.0h8.12v2.2H156.13zM171.87 109.0h8.12v2.2H171.87zM85.33 111.0h8.12v2.2H85.33zM116.80 111.0h8.12v2.2H116.80zM164.00 111.0h8.12v2.2H164.00zM171.87 111.0h8.12v2.2H171.87zM69.60 115.0h8.12v2.2H69.60zM77.47 115.0h8.12v2.2H77.47zM53.87 117.0h8.12v2.2H53.87zM85.33 117.0h8.12v2.2H85.33zM93.20 117.0h8.12v2.2H93.20zM53.87 119.0h8.12v2.2H53.87zM77.47 121.0h8.12v2.2H77.47zM85.33 121.0h8.12v2.2H85.33zM203.33 123.0h8.12v2.2H203.33zM368.53 125.0h8.12v2.2H368.53zM439.33 125.0h8.12v2.2H439.33zM242.67 127.0h8.12v2.2H242.67zM297.73 127.0h8.12v2.2H297.73zM439.33 127.0h8.12v2.2H439.33zM226.93 131.0h8.12v2.2H226.93zM337.07 137.0h8.12v2.2H337.07zM337.07 145.0h8.12v2.2H337.07zM455.07 145.0h8.12v2.2H455.07zM400.00 147.0h8.12v2.2H400.00zM266.27 149.0h8.12v2.2H266.27zM368.53 149.0h8.12v2.2H368.53zM502.27 149.0h8.12v2.2H502.27zM337.07 153.0h8.12v2.2H337.07zM171.87 159.0h8.12v2.2H171.87zM203.33 159.0h8.12v2.2H203.33zM337.07 159.0h8.12v2.2H337.07zM400.00 159.0h8.12v2.2H400.00zM447.20 159.0h8.12v2.2H447.20zM313.47 161.0h8.12v2.2H313.47zM376.40 161.0h8.12v2.2H376.40zM282.00 163.0h8.12v2.2H282.00zM297.73 165.0h8.12v2.2H297.73zM266.27 167.0h8.12v2.2H266.27zM337.07 173.0h8.12v2.2H337.07zM344.93 173.0h8.12v2.2H344.93zM352.80 173.0h8.12v2.2H352.80zM384.27 173.0h8.12v2.2H384.27zM384.27 177.0h8.12v2.2H384.27zM423.60 177.0h8.12v2.2H423.60zM337.07 179.0h8.12v2.2H337.07zM384.27 179.0h8.12v2.2H384.27zM400.00 179.0h8.12v2.2H400.00zM226.93 181.0h8.12v2.2H226.93zM297.73 181.0h8.12v2.2H297.73zM439.33 183.0h8.12v2.2H439.33zM234.80 187.0h8.12v2.2H234.80zM219.07 189.0h8.12v2.2H219.07zM226.93 189.0h8.12v2.2H226.93zM329.20 191.0h8.12v2.2H329.20zM226.93 193.0h8.12v2.2H226.93zM447.20 199.0h8.12v2.2H447.20zM478.67 201.0h8.12v2.2H478.67zM415.73 205.0h8.12v2.2H415.73zM431.47 205.0h8.12v2.2H431.47zM226.93 225.0h8.12v2.2H226.93zM337.07 229.0h8.12v2.2H337.07zM400.00 241.0h8.12v2.2H400.00zM179.73 247.0h8.12v2.2H179.73zM313.47 249.0h8.12v2.2H313.47zM219.07 259.0h8.12v2.2H219.07z"/>
<path fill="rgb(238, 242, 0)" d="M85.33 73.0h8.12v2.2H85.33zM46.00 77.0h8.12v2.2H46.00zM69.60 77.0h8.12v2.2H69.60zM77.47 77.0h8.12v2.2H77.47zM93.20 77.0h8.12v2.2H93.20zM156.13 77.0h8.12v2.2H156.13zM69.60 79.0h8.12v2.2H69.60zM77.47 79.0h8.12v2.2H77.47zM93.20 79.0h8.12v2.2H93.20zM101.07 79.0h8.12v2.2H101.07zM46.00 81.0h8.12v2.2H46.00zM53.87 81.0h8.12v2.2H53.87zM61.73 81.0h8.12v2.2H61.73zM69.60 81.0h8.12v2.2H69.60zM77.47 81.0h8.12v2.2H77.47zM93.20 81.0h8.12v2.2H93.20zM101.07 81.0h8.12v2.2H101.07zM108.93 81.0h8.12v2.2H108.93zM116.80 81.0h8.12v2.2H116.80zM124.67 81.0h8.12v2.2H124.67zM132.53 81.0h8.12v2.2H132.53zM179.73 81.0h8.12v2.2H179.73zM53.87 83.0h8.12v2.2H53.87zM61.73 83.0h8.12v2.2H61.73zM69.60 83.0h8.12v2.2H69.60zM93.20 83.0h8.12v2.2H93.20zM101.07 83.0h8.12v2.2H101.07zM116.80 83.0h8.12v2.2H116.80zM124.67 83.0h8.12v2.2H124.67zM171.87 83.0h8.12v2.2H171.87zM53.87 85.0h8.12v2.2H53.87zM61.73 85.0h8.12v2.2H61.73zM77.47 85.0h8.12v2.2H77.47zM93.20 85.0h8.12v2.2H93.20zM101.07 85.0h8.12v2.2H101.07zM116.80 85.0h8.12v2.2H116.80zM156.13 85.0h8.12v2.2H156.13zM164.00 85.0h8.12v2.2H164.00zM171.87 85.0h8.12v2.2H171.87zM305.60 85.0h8.12v2.2H305.60zM53.87 87.0h8.12v2.2H53.87zM101.07 87.0h8.12v2.2H101.07zM305.60 87.0h8.12v2.2H305.60zM132.53 89.0h8.12v2.2H132.53zM305.60 89.0h8.12v2.2H305.60zM53.87 91.0h8.12v2.2H53.87zM305.60 91.0h8.12v2.2H305.60zM53.87 93.0h8.12v2.2H53.87zM85.33 93.0h8.12v2.2H85.33zM305.60 93.0h8.12v2.2H305.60zM53.87 95.0h8.12v2.2H53.87zM69.60 95.0h8.12v2.2H69.60zM77.47 95.0h8.12v2.2H77.47zM85.33 95.0h8.12v2.2H85.33zM305.60 95.0h8.12v2.2H305.60zM101.07 97.0h8.12v2.2H101.07zM108.93 97.0h8.12v2.2H108.93zM132.53 97.0h8.12v2.2H132.53zM77.47 99.0h8.12v2.2H77.47zM85.33 99.0h8.12v2.2H85.33zM93.20 99.0h8.12v2.2H93.20zM132.53 99.0h8.12v2.2H132.53zM85.33 101.0h8.12v2.2H85.33zM132.53 101.0h8.12v2.2H132.53zM53.87 103.0h8.12v2.2H53.87zM69.60 103.0h8.12v2.2H69.60zM85.33 103.0h8.12v2.2H85.33zM46.00 105.0h8.12v2.2H46.00zM53.87 105.0h8.12v2.2H53.87zM61.73 105.0h8.12v2.2H61.73zM69.60 105.0h8.12v2.2H69.60zM85.33 105.0h8.12v2.2H85.33zM101.07 105.0h8.12v2.2H101.07zM108.93 105.0h8.12v2.2H108.93zM116.80 105.0h8.12v2.2H116.80zM132.53 105.0h8.12v2.2H132.53zM156.13 105.0h8.12v2.2H156.13zM61.73 107.0h8.12v2.2H61.73zM69.60 107.0h8.12v2.2H69.60zM77.47 107.0h8.12v2.2H77.47zM85.33 107.0h8.12v2.2H85.33zM93.20 107.0h8.12v2.2H93.20zM101.07 107.0h8.12v2.2H101.07zM108.93 107.0h8.12v2.2H108.93zM116.80 107.0h8.12v2.2H116.80zM132.53 107.0h8.12v2.2H132.53zM53.87 109.0h8.12v2.2H53.87zM61.73 109.0h8.12v2.2H61.73zM69.60 109.0h8.12v2.2H69.60zM93.20 109.0h8.12v2.2H93.20zM101.07 109.0h8.12v2.2H101.07zM187.60 109.0h8.12v2.2H187.60zM46.00 111.0h8.12v2.2H46.00zM53.87 111.0h8.12v2.2H53.87zM61.73 111.0h8.12v2.2H61.73zM69.60 111.0h8.12v2.2H69.60zM77.47 111.0h8.12v2.2H77.47zM93.20 111.0h8.12v2.2H93.20zM101.07 111.0h8.12v2.2H101.07zM132.53 111.0h8.12v2.2H132.53zM156.13 111.0h8.12v2.2H156.13zM226.93 111.0h8.12v2.2H226.93zM53.87 113.0h8.12v2.2H53.87zM53.87 115.0h8.12v2.2H53.87zM101.07 115.0h8.12v2.2H101.07zM101.07 117.0h8.12v2.2H101.07zM53.87 121.0h8.12v2.2H53.87zM101.07 121.0h8.12v2.2H101.07zM219.07 123.0h8.12v2.2H219.07zM337.07 127.0h8.12v2.2H337.07zM368.53 127.0h8.12v2.2H368.53zM211.20 129.0h8.12v2.2H211.20zM305.60 131.0h8.12v2.2H305.60zM368.53 131.0h8.12v2.2H368.53zM219.07 137.0h8.12v2.2H219.07zM368.53 143.0h8.12v2.2H368.53zM376.40 145.0h8.12v2.2H376.40zM423.60 145.0h8.12v2.2H423.60zM242.67 147.0h8.12v2.2H242.67zM447.20 151.0h8.12v2.2H447.20zM313.47 159.0h8.12v2.2H313.47zM171.87 161.0h8.12v2.2H171.87zM226.93 161.0h8.12v2.2H226.93zM242.67 161.0h8.12v2.2H242.67zM337.07 161.0h8.12v2.2H337.07zM439.33 161.0h8.12v2.2H439.33zM337.07 163.0h8.12v2.2H337.07zM352.80 163.0h8.12v2.2H352.80zM407.87 163.0h8.12v2.2H407.87zM478.67 163.0h8.12v2.2H478.67zM313.47 167.0h8.12v2.2H313.47zM368.53 167.0h8.12v2.2H368.53zM274.13 173.0h8.12v2.2H274.13zM313.47 175.0h8.12v2.2H313.47zM384.27 175.0h8.12v2.2H384.27zM376.40 183.0h8.12v2.2H376.40zM219.07 191.0h8.12v2.2H219.07zM337.07 195.0h8.12v2.2H337.07zM337.07 201.0h8.12v2.2H337.07zM384.27 209.0h8.12v2.2H384.27zM219.07 219.0h8.12v2.2H219.07zM195.47 229.0h8.12v2.2H195.47zM368.53 237.0h8.12v2.2H368.53zM242.67 257.0h8.12v2.2H242.67zM368.53 257.0h8.12v2.2H368.53zM234.80 259.0h8.12v2.2H234.80z"/>
<path fill="rgb(100, 96, 120)" d="M148.27 125.0h8.12v2.2H148.27zM258.40 127.0h8.12v2.2H258.40zM116.80 129.0h8.12v2.2H116.80zM242.67 129.0h8.12v2.2H242.67zM46.00 131.0h8.12v2.2H46.00zM85.33 133.0h8.12v2.2H85.33zM211.20 133.0h8.12v2.2H211.20zM61.73 135.0h8.12v2.2H61.73zM148.27 135.0h8.12v2.2H148.27zM124.67 137.0h8.12v2.2H124.67zM61.73 141.0h8.12v2.2H61.73zM219.07 145.0h8.12v2.2H219.07zM219.07 147.0h8.12v2.2H219.07zM124.67 151.0h8.12v2.2H124.67zM46.00 157.0h8.12v2.2H46.00zM179.73 157.0h8.12v2.2H179.73zM242.67 159.0h8.12v2.2H242.67zM46.00 161.0h8.12v2.2H46.00zM61.73 161.0h8.12v2.2H61.73zM93.20 163.0h8.12v2.2H93.20zM93.20 167.0h8.12v2.2H93.20zM93.20 169.0h8.12v2.2H93.20zM148.27 169.0h8.12v2.2H148.27zM250.53 169.0h8.12v2.2H250.53zM148.27 171.0h8.12v2.2H148.27zM156.13 171.0h8.12v2.2H156.13zM234.80 171.0h8.12v2.2H234.80zM242.67 171.0h8.12v2.2H242.67zM211.20 173.0h8.12v2.2H211.20zM93.20 179.0h8.12v2.2H93.20zM203.33 179.0h8.12v2.2H203.33zM108.93 185.0h8.12v2.2H108.93zM124.67 187.0h8.12v2.2H124.67zM219.07 187.0h8.12v2.2H219.07zM148.27 189.0h8.12v2.2H148.27zM61.73 191.0h8.12v2.2H61.73zM266.27 191.0h8.12v2.2H266.27zM46.00 193.0h8.12v2.2H46.00zM148.27 193.0h8.12v2.2H148.27zM148.27 195.0h8.12v2.2H148.27zM266.27 195.0h8.12v2.2H266.27zM116.80 197.0h8.12v2.2H116.80zM148.27 199.0h8.12v2.2H148.27zM69.60 203.0h8.12v2.2H69.60zM195.47 203.0h8.12v2.2H195.47zM234.80 203.0h8.12v2.2H234.80zM46.00 205.0h8.12v2.2H46.00zM203.33 207.0h8.12v2.2H203.33zM148.27 209.0h8.12v2.2H148.27zM250.53 211.0h8.12v2.2H250.53zM148.27 213.0h8.12v2.2H148.27zM226.93 213.0h8.12v2.2H226.93zM132.53 215.0h8.12v2.2H132.53zM171.87 215.0h8.12v2.2H171.87zM61.73 217.0h8.12v2.2H61.73zM148.27 217.0h8.12v2.2H148.27zM203.33 217.0h8.12v2.2H203.33zM46.00 219.0h8.12v2.2H46.00zM116.80 219.0h8.12v2.2H116.80zM258.40 219.0h8.12v2.2H258.40zM69.60 221.0h8.12v2.2H69.60zM61.73 223.0h8.12v2.2H61.73zM93.20 223.0h8.12v2.2H93.20zM116.80 223.0h8.12v2.2H116.80zM203.33 223.0h8.12v2.2H203.33zM203.33 225.0h8.12v2.2H203.33zM148.27 227.0h8.12v2.2H148.27zM289.87 227.0h8.12v2.2H289.87zM148.27 229.0h8.12v2.2H148.27zM187.60 229.0h8.12v2.2H187.60zM289.87 229.0h8.12v2.2H289.87zM226.93 233.0h8.12v2.2H226.93zM289.87 233.0h8.12v2.2H289.87zM124.67 235.0h8.12v2.2H124.67zM234.80 235.0h8.12v2.2H234.80zM289.87 235.0h8.12v2.2H289.87zM69.60 239.0h8.12v2.2H69.60zM226.93 239.0h8.12v2.2H226.93zM234.80 239.0h8.12v2.2H234.80zM289.87 239.0h8.12v2.2H289.87zM132.53 241.0h8.12v2.2H132.53zM226.93 241.0h8.12v2.2H226.93zM234.80 241.0h8.12v2.2H234.80zM148.27 243.0h8.12v2.2H148.27zM101.07 245.0h8.12v2.2H101.07zM164.00 245.0h8.12v2.2H164.00zM195.47 245.0h8.12v2.2H195.47zM226.93 245.0h8.12v2.2H226.93zM211.20 247.0h8.12v2.2H211.20zM289.87 247.0h8.12v2.2H289.87zM148.27 249.0h8.12v2.2H148.27zM289.87 249.0h8.12v2.2H289.87zM61.73 251.0h8.12v2.2H61.73zM179.73 251.0h8.12v2.2H179.73zM226.93 251.0h8.12v2.2H226.93zM234.80 251.0h8.12v2.2H234.80zM61.73 253.0h8.12v2.2H61.73zM101.07 253.0h8.12v2.2H101.07zM148.27 253.0h8.12v2.2H148.27zM226.93 253.0h8.12v2.2H226.93zM234.80 253.0h8.12v2.2H234.80zM61.73 255.0h8.12v2.2H61.73zM226.93 255.0h8.12v2.2H226.93zM234.80 255.0h8.12v2.2H234.80zM61.73 257.0h8.12v2.2H61.73zM77.47 257.0h8.12v2.2H77.47zM226.93 257.0h8.12v2.2H226.93zM234.80 257.0h8.12v2.2H234.80zM266.27 257.0h8.12v2.2H266.27zM289.87 257.0h8.12v2.2H289.87zM124.67 259.0h8.12v2.2H124.67zM148.27 259.0h8.12v2.2H148.27z"/>
</g>
<path d="M163.8 71V261M273.6 71V261" stroke="#a06434" stroke-width="0.9" opacity="0.5"/>
<rect x="44" y="266.3" width="117.5" height="7.8" fill="#169e9a"/>
<rect x="162.5" y="266.3" width="110.5" height="7.8" fill="#8d8d8d"/>
<rect x="273" y="266.3" width="244" height="7.8" fill="#a0d014"/>
<text x="83.3" y="292" font-size="16.5" fill="#1a9c9a" stroke="none">ABC</text>
<text x="177" y="292" font-size="17" fill="#808080" stroke="none">Unclassifiable</text>
<text x="377.5" y="292" font-size="17" fill="#a4c93a" stroke="none">GCB</text>
<text x="428.3" y="293.5" font-size="10.3" fill="#111" stroke="#111">relative methylation</text>
<rect x="426.90" y="300" width="7.32" height="7.6" fill="rgb(238, 242, 0)"/><rect x="433.92" y="300" width="7.32" height="7.6" fill="rgb(187, 190, 0)"/><rect x="440.95" y="300" width="7.32" height="7.6" fill="rgb(140, 142, 0)"/><rect x="447.97" y="300" width="7.32" height="7.6" fill="rgb(96, 98, 0)"/><rect x="454.99" y="300" width="7.32" height="7.6" fill="rgb(57, 58, 0)"/><rect x="462.02" y="300" width="7.32" height="7.6" fill="rgb(23, 23, 0)"/><rect x="469.04" y="300" width="7.32" height="7.6" fill="rgb(0, 0, 0)"/><rect x="476.06" y="300" width="7.32" height="7.6" fill="rgb(15, 3, 32)"/><rect x="483.08" y="300" width="7.32" height="7.6" fill="rgb(32, 8, 70)"/><rect x="490.11" y="300" width="7.32" height="7.6" fill="rgb(51, 13, 109)"/><rect x="497.13" y="300" width="7.32" height="7.6" fill="rgb(70, 17, 150)"/><rect x="504.15" y="300" width="7.32" height="7.6" fill="rgb(90, 22, 192)"/><rect x="511.18" y="300" width="7.32" height="7.6" fill="rgb(110, 28, 235)"/>
<text x="428.6" y="321.8" font-size="10.3" fill="#111" stroke="#111">High</text>
<text x="496.8" y="321.8" font-size="10.3" fill="#111" stroke="#111">Low</text>
<text x="0.6" y="357.7" font-size="19.4" font-weight="bold" stroke="none">B</text>
<g font-weight="bold" font-size="9.44" fill="#111" text-anchor="middle" stroke="#111">
<text transform="translate(32.8 431) rotate(-90)">Probability of progression-free</text>
<text transform="translate(44.6 431) rotate(-90)">survival (%)</text>
</g>
<path d="M86.2 524.5V343.8H382.7V524.5H86.2" fill="none" stroke="#cacaca" stroke-width="1.1"/>
<path d="M86.2 350.6V517.5M86.2 524.5H373.6" fill="none" stroke="#999" stroke-width="1.3"/>
<g stroke="#999" stroke-width="1.2"><path d="M79.6 350.6H86.2"/><path d="M79.6 384.1H86.2"/><path d="M79.6 418.1H86.2"/><path d="M79.6 451.2H86.2"/><path d="M79.6 484.6H86.2"/><path d="M79.6 517.5H86.2"/><path d="M86.2 524.5V531"/><path d="M134.1 524.5V531"/><path d="M182.0 524.5V531"/><path d="M229.9 524.5V531"/><path d="M277.8 524.5V531"/><path d="M325.7 524.5V531"/><path d="M373.6 524.5V531"/></g>
<g font-size="12" fill="#222" text-anchor="middle" stroke="#222">
<text transform="translate(73.3 366.2) rotate(-90)">0.8</text><text transform="translate(73.3 399.7) rotate(-90)">0.6</text><text transform="translate(73.3 432.4) rotate(-90)">0.4</text><text transform="translate(73.3 465.5) rotate(-90)">0.2</text><text transform="translate(73.3 499) rotate(-90)">0.0</text>
</g>
<g font-size="11.6" fill="#222" text-anchor="middle" stroke="#222">
<text x="86.2" y="553">0</text><text x="134.1" y="553">1</text><text x="182.0" y="553">2</text><text x="229.9" y="553">3</text><text x="277.8" y="553">4</text><text x="325.7" y="553">5</text><text x="373.6" y="553">6</text>
</g>
<text x="200.5" y="572.8" font-size="9.4" font-weight="bold" fill="#111" stroke="#111">Time (year)</text>
<text x="261" y="510.8" font-size="11.1" fill="#222" stroke="#222">Log rank <tspan font-style="italic">P</tspan> &lt; .015</text>
<g stroke-width="1"><path d="M113.1 361.2v11" stroke="#9494d0"/><path d="M121.2 361.2v11" stroke="#9494d0"/><path d="M134 361.2v11" stroke="#9494d0"/><path d="M160 361.2v11" stroke="#9494d0"/><path d="M169.6 361.2v11" stroke="#9494d0"/><path d="M172.7 361.2v11" stroke="#9494d0"/><path d="M191.3 361.2v11" stroke="#9494d0"/><path d="M204.2 371v11.2" stroke="#9494d0"/><path d="M211.3 371v11.2" stroke="#9494d0"/><path d="M213.5 371v11.2" stroke="#9494d0"/><path d="M221 371v11.2" stroke="#9494d0"/><path d="M223.1 371v11.2" stroke="#9494d0"/><path d="M239.8 371v11.2" stroke="#9494d0"/><path d="M242.7 371v11.2" stroke="#9494d0"/><path d="M283.1 371v11.2" stroke="#9494d0"/><path d="M300.8 371v11.2" stroke="#9494d0"/><path d="M329 371v11.2" stroke="#9494d0"/><path d="M331 371v11.2" stroke="#9494d0"/><path d="M342.5 371v11.2" stroke="#9494d0"/><path d="M348.3 371v11.2" stroke="#9494d0"/><path d="M364.6 371v11.2" stroke="#9494d0"/><path d="M369.4 371v11.2" stroke="#9494d0"/><path d="M118.5 378.3v12.5M114.5 384.3h8" stroke="#e08888"/><path d="M140.8 402.8v12.5M136.8 408.8h8" stroke="#e08888"/><path d="M165 415.4v12.5M161 421.4h8" stroke="#e08888"/><path d="M170.3 415.4v12.5M166.3 421.4h8" stroke="#e08888"/><path d="M222.7 415.4v12.5M218.7 421.4h8" stroke="#e08888"/><path d="M301 415.4v12.5M297 421.4h8" stroke="#e08888"/><path d="M354 415.4v12.5M350 421.4h8" stroke="#e08888"/><path d="M371.2 415.4v12.5M367.2 421.4h8" stroke="#e08888"/></g>
<polyline points="86.2,350.9 93.2,350.9 93.2,356.1 93.9,356.1 93.9,361.5 111.6,361.5 111.6,366.7 192.7,366.7 192.7,376.7 365.5,376.7" fill="none" stroke="#1a1ad2" stroke-width="2.2"/>
<polyline points="86.2,350.9 87.2,350.9 87.2,362.0 91.2,362.0 91.2,372.9 108.6,372.9 108.6,384.3 120.2,384.3 120.2,396.6 127.8,396.6 127.8,408.8 157.9,408.8 157.9,421.4 368.5,421.4" fill="none" stroke="#cf2632" stroke-width="2.2" stroke-dasharray="5.4 3.2 14.95 3.8"/>
<g font-size="11.3" fill="#222" stroke="#222"><text x="81" y="595.8">ABC (n=15)</text><text x="81" y="609.2">GCB (n=31)</text></g>
<path d="M151.2 590H177.8" stroke="#cf2632" stroke-width="1.6"/>
<path d="M151.2 605.5H177.8" stroke="#1a1ad2" stroke-width="1.6"/>
</svg>
</body></html>
